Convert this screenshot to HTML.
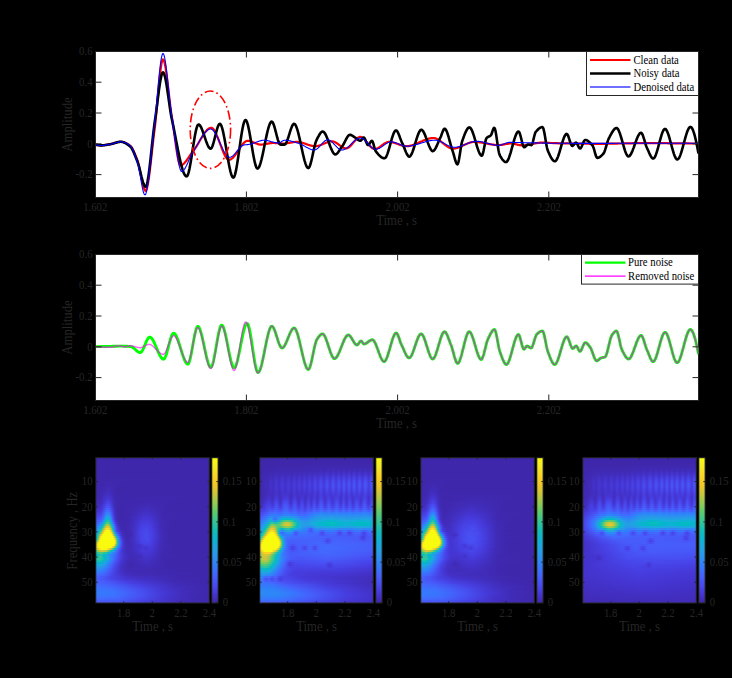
<!DOCTYPE html><html><head><meta charset="utf-8"><style>
html,body{margin:0;padding:0;background:#000;width:732px;height:678px;overflow:hidden;position:relative}
.p{position:absolute;overflow:hidden}.r{position:absolute;left:0;height:2px;width:100%}
svg{position:absolute;left:0;top:0}
text{font-family:"Liberation Serif",serif;fill:#262626}
</style></head><body>
<div class="p" style="left:95.8px;top:457.7px;width:113.5px;height:145.3px;background:#3e26a8">
<div class="r" style="top:0px;background:#3e27aa"></div>
<div class="r" style="top:2px;background:#3e27aa"></div>
<div class="r" style="top:4px;background:#3e27aa"></div>
<div class="r" style="top:6px;background:#3e27aa"></div>
<div class="r" style="top:8px;background:#3e27aa"></div>
<div class="r" style="top:10px;background:#3e27aa"></div>
<div class="r" style="top:12px;background:#3e27aa"></div>
<div class="r" style="top:14px;background:#3e27aa"></div>
<div class="r" style="top:16px;background:#3e27aa"></div>
<div class="r" style="top:18px;background:linear-gradient(90deg,#3e27aa 0px,#3e27ab 17.9px,#3e27aa 113.5px)"></div>
<div class="r" style="top:20px;background:linear-gradient(90deg,#3e27aa 0px,#3e28ac 15.9px,#3e27aa 113.5px)"></div>
<div class="r" style="top:22px;background:linear-gradient(90deg,#3e27aa 0px,#3f28ae 14.9px,#3e27aa 45.8px,#3e27aa 113.5px)"></div>
<div class="r" style="top:24px;background:linear-gradient(90deg,#3e27aa 0px,#3f29b0 13.9px,#3e27aa 26.9px,#3e27aa 113.5px)"></div>
<div class="r" style="top:26px;background:linear-gradient(90deg,#3e27aa 0px,#3f29b2 13.9px,#3e27aa 23.9px,#3e27aa 113.5px)"></div>
<div class="r" style="top:28px;background:linear-gradient(90deg,#3e27aa 0px,#3f29b0 8px,#402bb6 12.9px,#3e27aa 21.9px,#3e27aa 113.5px)"></div>
<div class="r" style="top:30px;background:linear-gradient(90deg,#3e27aa 0px,#3f29b2 8px,#412cb9 12.9px,#3e27aa 20.9px,#3e27aa 113.5px)"></div>
<div class="r" style="top:32px;background:linear-gradient(90deg,#3e27aa 0px,#3f29b1 7px,#412dbd 11.9px,#3e27aa 20.9px,#3e27aa 113.5px)"></div>
<div class="r" style="top:34px;background:linear-gradient(90deg,#3e27ab 0px,#3f29b0 6px,#422fc2 11.9px,#3e27ab 19.9px,#3e27aa 113.5px)"></div>
<div class="r" style="top:36px;background:linear-gradient(90deg,#3e27ab 0px,#3f29b2 6px,#4331c7 11px,#4230c3 13.9px,#3f28ae 18.9px,#3e27ab 36.8px,#3e27aa 113.5px)"></div>
<div class="r" style="top:38px;background:linear-gradient(90deg,#3e28ac 0px,#402ab4 6px,#4434ce 11px,#4332ca 13.9px,#3f28af 18.9px,#3e27aa 28.9px,#3e28ac 58.7px,#3e27aa 113.5px)"></div>
<div class="r" style="top:40px;background:linear-gradient(90deg,#3f28ae 0px,#402ab3 5px,#4433cb 9px,#4538d8 11.9px,#4332ca 14.9px,#3f29b0 18.9px,#3e27aa 25.9px,#3f28af 55.8px,#3e27aa 99.6px,#3e27aa 113.5px)"></div>
<div class="r" style="top:42px;background:linear-gradient(90deg,#3f29b0 0px,#402bb6 5px,#4332ca 8px,#463cdf 11px,#463cdf 12.9px,#3f29b1 18.9px,#3e27aa 23.9px,#3f29b1 54.8px,#3e27aa 81.6px,#3e27aa 113.5px)"></div>
<div class="r" style="top:44px;background:linear-gradient(90deg,#4029b2 0px,#412cba 5px,#4435d2 8px,#4743e7 11px,#4743e7 12.9px,#4639d9 14.9px,#412cba 17.9px,#3e28ac 20.9px,#3f28ae 38.8px,#402ab4 52.8px,#3e27aa 74.7px,#3e27aa 113.5px)"></div>
<div class="r" style="top:46px;background:linear-gradient(90deg,#402bb6 0px,#422ebf 5px,#4740e4 9px,#484df0 11.9px,#4745e9 13.9px,#412dbd 17.9px,#3f28ad 20.9px,#3f28ae 36.8px,#402bb7 51.8px,#3e27aa 72.7px,#3e27aa 113.5px)"></div>
<div class="r" style="top:48px;background:linear-gradient(90deg,#412dbb 0px,#4331c6 5px,#473fe3 8px,#4755f6 11px,#4854f5 12.9px,#4745e9 14.9px,#422fc1 17.9px,#3f29b1 19.9px,#3e27aa 24.9px,#402ab3 40.8px,#412cba 51.8px,#3e27aa 70.7px,#3e27aa 113.5px)"></div>
<div class="r" style="top:50px;background:linear-gradient(90deg,#422fc1 0px,#4434ce 5px,#4747eb 8px,#4561fc 11px,#465ffb 12.9px,#484df0 14.9px,#4331c6 17.9px,#402ab3 19.9px,#3e27aa 23.9px,#4029b2 38.8px,#422ebf 50.8px,#3e27ab 69.7px,#3e27aa 113.5px)"></div>
<div class="r" style="top:52px;background:linear-gradient(90deg,#4332ca 0px,#4538d8 5px,#4745e9 7px,#475cfa 9px,#3e6fff 11px,#3c72ff 11.9px,#4563fd 13.9px,#4848ec 15.9px,#4433cc 17.9px,#402ab4 19.9px,#3e27ab 22.9px,#3f29b1 36.8px,#4230c4 49.8px,#3e27ab 69.7px,#3e27aa 113.5px)"></div>
<div class="r" style="top:54px;background:linear-gradient(90deg,#4536d3 0px,#473ee1 5px,#484ef1 7px,#4369fe 9px,#2f81fa 11px,#2e83f9 11.9px,#317efb 12.9px,#3c71ff 13.9px,#4661fc 14.9px,#4740e4 16.9px,#422fc1 18.9px,#3f29b0 20.9px,#3e27aa 25.9px,#402ab4 37.8px,#4332c8 48.8px,#422ebf 56.8px,#3e27ac 68.7px,#3e27aa 113.5px)"></div>
<div class="r" style="top:56px;background:linear-gradient(90deg,#463bdd 0px,#4746ea 5px,#4758f8 7px,#4367fd 8px,#3579fd 9px,#2a92ee 11px,#2895ec 11.9px,#2c8ff0 12.9px,#2f82f9 13.9px,#3f6efe 14.9px,#4759f8 15.9px,#4538d8 17.9px,#4331c5 18.9px,#3f29b1 20.9px,#3e27aa 24.9px,#3f29b2 35.8px,#4434ce 48.8px,#4331c6 55.8px,#3f28ae 66.7px,#3e27aa 109.5px,#3e27aa 113.5px)"></div>
<div class="r" style="top:58px;background:linear-gradient(90deg,#4742e6 0px,#484ff2 5px,#4564fd 7px,#3876fe 8px,#269ae8 10px,#20a5e3 11px,#1ea7e1 11.9px,#22a1e4 12.9px,#2a93ee 13.9px,#317dfc 14.9px,#4563fd 15.9px,#463cdf 17.9px,#412dbb 19.9px,#3f28ae 21.9px,#3e28ad 30.9px,#412ebe 39.8px,#4536d3 47.8px,#4434cf 53.8px,#3f28af 66.7px,#3e27aa 93.6px,#3e27aa 113.5px)"></div>
<div class="r" style="top:60px;background:linear-gradient(90deg,#484aee 0px,#4759f8 5px,#4562fc 6px,#3c72ff 7px,#2e86f7 8px,#1aacdd 10px,#06b5cf 11px,#01b7ca 11.9px,#0eb2d4 12.9px,#20a4e3 13.9px,#3d70ff 15.9px,#4756f6 16.9px,#4741e5 17.9px,#4435d0 18.9px,#422ebe 19.9px,#3f28ae 21.9px,#3e27ac 28.9px,#412cba 37.8px,#4538d8 47.8px,#4536d4 53.8px,#3f29b1 65.7px,#3e27aa 79.6px,#3e27aa 113.5px)"></div>
<div class="r" style="top:62px;background:linear-gradient(90deg,#4853f5 0px,#4368fd 5px,#3974fe 6px,#2e86f7 7px,#259be8 8px,#16afda 9px,#05bbc0 10px,#25c1aa 11px,#2ac3a4 11.9px,#19bfb3 12.9px,#06b5cf 13.9px,#23a0e5 14.9px,#2e83f9 15.9px,#4564fd 16.9px,#484cef 17.9px,#463adb 18.9px,#4331c7 19.9px,#412cb9 20.9px,#3f28ad 22.9px,#3f28af 31.9px,#4230c4 39.8px,#463adb 46.8px,#463adb 52.8px,#3f29b2 65.7px,#3e27aa 77.7px,#3e27aa 113.5px)"></div>
<div class="r" style="top:64px;background:linear-gradient(90deg,#465dfb 0px,#3a74fe 4px,#2d8df2 6px,#249fe5 7px,#10b2d5 8px,#16bfb5 9px,#37c791 10px,#52cb76 11px,#59cb70 11.9px,#43c983 12.9px,#27c2a8 13.9px,#08b4d1 14.9px,#269ae8 15.9px,#327bfc 16.9px,#465dfa 17.9px,#4747eb 18.9px,#4538d7 19.9px,#4230c4 20.9px,#3f29b1 22.9px,#3e27ab 26.9px,#402ab5 34.8px,#463ddf 46.8px,#463ddf 52.8px,#402ab3 65.7px,#3e27aa 76.7px,#3e27aa 113.5px)"></div>
<div class="r" style="top:66px;background:linear-gradient(90deg,#4368fe 0px,#3080fb 3px,#2896ec 5px,#20a5e2 6px,#06b5cf 7px,#24c1ab 8px,#49ca7e 9px,#81cc59 10px,#a6ca4d 11px,#adc94a 11.9px,#92cb54 12.9px,#58cb72 13.9px,#27c2a8 14.9px,#13b1d7 15.9px,#3b73fe 17.9px,#4757f7 18.9px,#4743e7 19.9px,#4536d3 20.9px,#422fc1 21.9px,#3f29b1 23.9px,#3e28ac 28.9px,#412dbc 36.8px,#463ee1 45.8px,#4741e5 51.8px,#4536d3 57.7px,#402ab4 65.7px,#3e27aa 75.7px,#3e27aa 113.5px)"></div>
<div class="r" style="top:68px;background:linear-gradient(90deg,#3974fe 0px,#307ffb 1px,#249ee6 4px,#1aacdd 5px,#01b9c6 6px,#2dc3a1 7px,#5bcb6f 8px,#a2ca4e 9px,#d7c536 10px,#f0c727 11px,#f3c825 11.9px,#e0c531 12.9px,#aec94a 13.9px,#5acb70 14.9px,#1cc0b1 15.9px,#1caadf 16.9px,#2d89f5 17.9px,#4368fe 18.9px,#484ff2 19.9px,#463ee0 20.9px,#422ebf 22.9px,#3f29b1 24.9px,#3f28ad 29.9px,#412ebe 36.8px,#4740e4 45.8px,#4743e8 51.8px,#4537d6 57.7px,#402bb7 64.7px,#3e27ab 72.7px,#3e27aa 113.5px)"></div>
<div class="r" style="top:70px;background:linear-gradient(90deg,#2f81fa 0px,#20a5e2 3px,#10b2d5 4px,#0abcbc 5px,#34c696 6px,#6ccc62 7px,#b9c845 8px,#f1c726 9px,#f9d626 10px,#f5e327 11px,#f5e427 11.9px,#f6c924 13.9px,#b3c848 14.9px,#4bca7c 15.9px,#02bac4 16.9px,#269ae9 17.9px,#3b73fe 18.9px,#4854f5 19.9px,#4741e5 20.9px,#4331c7 22.9px,#3f29b1 25.9px,#3f28af 30.9px,#4230c3 37.8px,#4740e4 44.8px,#4747eb 50.8px,#463bdc 56.8px,#402bb8 64.7px,#3e27ab 72.7px,#3e27aa 113.5px)"></div>
<div class="r" style="top:72px;background:linear-gradient(90deg,#2d8df2 0px,#1da9e0 2px,#06b5cf 3px,#19bfb3 4px,#3bc88c 5px,#7bcc5a 6px,#c8c63e 7px,#fecb21 8px,#f5e526 9px,#f8f914 10px,#f9fb0e 11px,#f9fb0e 12.9px,#f5e825 13.9px,#fbcb22 14.9px,#a4ca4e 15.9px,#32c598 16.9px,#1babde 17.9px,#317efb 18.9px,#4757f7 19.9px,#4743e7 20.9px,#4435d1 22.9px,#402bb6 25.9px,#3f28ae 28.9px,#402bb7 34.8px,#4742e6 44.8px,#4848ec 50.8px,#463cde 56.8px,#412cb9 64.7px,#3e27ab 72.7px,#3e27aa 113.5px)"></div>
<div class="r" style="top:74px;background:linear-gradient(90deg,#2798ea 0px,#1da8e0 1px,#05b6ce 2px,#1ec0b0 3px,#40c986 4px,#84cc58 5px,#d0c53a 6px,#fdcf22 7px,#f5ee22 8px,#f9fb0e 9px,#f9fb0e 13.9px,#f5f31e 14.9px,#fecb21 15.9px,#9acb51 16.9px,#2ac3a5 17.9px,#1fa6e2 18.9px,#3080fb 19.9px,#4561fc 20.9px,#4743e7 22.9px,#422ebf 25.9px,#3f29b0 28.9px,#402ab4 34.8px,#4740e3 43.8px,#484aee 49.8px,#4740e3 55.8px,#402bb6 65.7px,#3e27ab 73.7px,#3e27aa 113.5px)"></div>
<div class="r" style="top:76px;background:linear-gradient(90deg,#20a5e2 0px,#05b6ce 1px,#25c1aa 2px,#52cb76 3px,#a6c94d 4px,#f0c727 5px,#f5e228 6px,#f9fb0e 7px,#f9fb0e 14.9px,#f5f31e 15.9px,#f9ca22 16.9px,#8ecb55 17.9px,#2bc3a4 18.9px,#19acdc 19.9px,#2d8df2 20.9px,#3f6eff 21.9px,#4756f7 22.9px,#4538d8 24.9px,#412dbc 26.9px,#3f29b0 29.9px,#3f29b2 34.8px,#4740e4 43.8px,#484bee 49.8px,#4740e4 55.8px,#402bb6 65.7px,#3e27ab 73.7px,#3e27aa 113.5px)"></div>
<div class="r" style="top:78px;background:linear-gradient(90deg,#1aabdd 0px,#02bac3 1px,#37c791 2px,#92cb54 3px,#f2c826 4px,#f5eb23 5px,#f9fb0e 6px,#f9fb0e 15.9px,#f8fa12 16.9px,#fecc21 17.9px,#9acb51 18.9px,#2fc49d 19.9px,#16afd9 20.9px,#2c8ef1 21.9px,#406dfe 22.9px,#4854f5 23.9px,#4741e5 24.9px,#4230c4 26.9px,#402ab5 28.9px,#3f29b2 32.9px,#422ebe 36.8px,#4740e4 43.8px,#484bee 49.8px,#4740e4 55.8px,#402bb6 65.7px,#3e27ab 73.7px,#3e27aa 113.5px)"></div>
<div class="r" style="top:80px;background:linear-gradient(90deg,#0fb2d4 0px,#16bfb5 1px,#52cb77 2px,#cdc63b 3px,#f5e327 4px,#f9fb0e 5px,#f9fb0e 17.9px,#fecf22 18.9px,#96cb52 19.9px,#29c2a6 20.9px,#1ca9df 21.9px,#2e86f8 22.9px,#4464fd 23.9px,#484df0 24.9px,#463cdf 25.9px,#422ec0 27.9px,#402ab4 29.9px,#402bb6 33.9px,#4435d0 39.8px,#4745e9 45.8px,#4849ed 51.8px,#463adb 57.7px,#402bb6 65.7px,#3e27ab 73.7px,#3e27aa 113.5px)"></div>
<div class="r" style="top:82px;background:linear-gradient(90deg,#2cc3a3 0px,#65cc67 1px,#cec53b 2px,#f6de29 3px,#f9fb0e 4px,#f9fb0e 17.9px,#f5f31e 18.9px,#e4c52f 19.9px,#56cb73 20.9px,#01b8c9 21.9px,#2896eb 22.9px,#3c72ff 23.9px,#4755f6 24.9px,#4742e6 25.9px,#4330c4 27.9px,#402bb6 29.9px,#402bb6 33.9px,#4434cf 39.8px,#4744e8 45.8px,#4848ec 51.8px,#4639da 57.7px,#412cb9 64.7px,#3e27ab 72.7px,#3e27aa 113.5px)"></div>
<div class="r" style="top:84px;background:linear-gradient(90deg,#7acc5b 0px,#dec532 1px,#f6e029 2px,#f9fb0e 3px,#f9fb0e 17.9px,#f5f21f 18.9px,#e4c52e 19.9px,#5acb70 20.9px,#01b9c5 21.9px,#2699e9 22.9px,#3875fe 23.9px,#4758f8 24.9px,#4745e9 25.9px,#4538d7 26.9px,#412ebd 28.9px,#402ab4 31.9px,#422ebf 36.8px,#4742e6 46.8px,#4745e9 51.8px,#463bdc 56.8px,#402bb8 64.7px,#3e27ab 72.7px,#3e27aa 113.5px)"></div>
<div class="r" style="top:86px;background:linear-gradient(90deg,#b0c949 0px,#fecb21 1px,#f5f11f 2px,#f9fb0e 3px,#f9fb0e 16.9px,#f6f61b 17.9px,#fbcb22 18.9px,#92cb54 19.9px,#2dc3a1 20.9px,#18aedb 21.9px,#2d8df2 22.9px,#406dfe 23.9px,#4854f5 24.9px,#4743e7 25.9px,#4332c8 27.9px,#412cb9 29.9px,#402bb6 33.9px,#4433cc 40.8px,#4432cb 43.8px,#473fe2 47.8px,#4740e3 53.8px,#4331c7 60.7px,#3f29b0 67.7px,#3e27aa 82.6px,#3e27aa 113.5px)"></div>
<div class="r" style="top:88px;background:linear-gradient(90deg,#b1c848 0px,#f8ca23 1px,#f5e526 2px,#f9fb0e 3px,#f9fb0e 14.9px,#f5ea24 15.9px,#fecc21 16.9px,#c2c741 17.9px,#61cc6a 18.9px,#22c1ad 19.9px,#17aeda 20.9px,#2a93ee 21.9px,#3776fe 22.9px,#465efb 23.9px,#473fe2 25.9px,#4331c8 27.9px,#402bb7 30.9px,#412cba 35.8px,#4332ca 40.8px,#4332c8 43.8px,#4538d8 46.8px,#4435d2 49.8px,#463cdf 53.8px,#4434ce 58.7px,#402ab4 65.7px,#3e27aa 75.7px,#3e27aa 113.5px)"></div>
<div class="r" style="top:90px;background:linear-gradient(90deg,#77cc5b 0px,#bdc743 1px,#efc727 2px,#fad425 3px,#f5e626 4px,#f5f41d 5px,#f9fa0f 6px,#f9fb0e 9px,#f5ec23 11px,#f6de29 11.9px,#fece22 12.9px,#e8c62c 13.9px,#bcc743 14.9px,#81cc59 15.9px,#43c983 16.9px,#1fc0af 17.9px,#0bb4d2 18.9px,#23a0e5 19.9px,#3b73fe 21.9px,#465ffb 22.9px,#4743e7 24.9px,#4331c6 27.9px,#402bb8 30.9px,#412cba 35.8px,#4538d8 46.8px,#4434ce 49.8px,#463adb 53.8px,#4331c6 59.7px,#3f28af 67.7px,#3e27aa 88.6px,#3e27aa 113.5px)"></div>
<div class="r" style="top:92px;background:linear-gradient(90deg,#3ac78d 0px,#5dcc6d 1px,#86cc57 2px,#abc94b 3px,#c7c63e 4px,#d7c536 5px,#dcc533 6px,#d1c539 8px,#b2c848 10px,#97cb52 11px,#72cc5d 11.9px,#4bca7c 12.9px,#19bfb3 14.9px,#01b8ca 15.9px,#19addc 16.9px,#2c8ef1 18.9px,#317dfc 19.9px,#416bfe 20.9px,#4850f3 22.9px,#4537d6 25.9px,#422fc0 28.9px,#402bb7 32.9px,#422fc1 38.8px,#4539d9 46.8px,#4537d6 54.8px,#3f29b2 65.7px,#3e27aa 77.7px,#3e27aa 113.5px)"></div>
<div class="r" style="top:94px;background:linear-gradient(90deg,#1fc0af 0px,#2fc49d 2px,#3ac78d 3px,#4bca7c 4px,#55cb74 5px,#4dca7b 6px,#3cc88b 7px,#32c598 8px,#28c2a7 10px,#19bfb3 11px,#01b9c5 11.9px,#13b0d7 12.9px,#1fa6e2 13.9px,#2f82f9 17.9px,#4368fe 19.9px,#4742e6 23.9px,#4331c7 27.9px,#412cb9 31.9px,#412dbc 37.8px,#4538d8 48.8px,#4435d2 54.8px,#3f29b1 65.7px,#3e27aa 79.6px,#3e27aa 113.5px)"></div>
<div class="r" style="top:96px;background:linear-gradient(90deg,#09bcbd 0px,#05bbc0 2px,#28c2a7 4px,#2cc3a2 5px,#21c0ae 6px,#05bbc0 7px,#04b6cd 8px,#0bb3d2 10px,#15afd8 11px,#2d8df2 13.9px,#317dfc 16.9px,#4561fc 19.9px,#463cdf 24.9px,#422ec0 29.9px,#402bb8 34.8px,#412ebe 41.8px,#422fc1 44.8px,#4536d3 48.8px,#4433cd 54.8px,#3f29b0 65.7px,#3e27aa 82.6px,#3e27aa 113.5px)"></div>
<div class="r" style="top:98px;background:linear-gradient(90deg,#1cc0b1 0px,#20c0ae 2px,#2ec49f 4px,#2ec49f 5px,#26c2a9 6px,#10bdb9 7px,#01b9c5 8px,#0bb3d2 10px,#20a5e2 11.9px,#2c8ff1 13.9px,#347afd 16.9px,#465efb 19.9px,#463cde 24.9px,#422fc0 29.9px,#402bb7 34.8px,#412ebd 44.8px,#4434cd 48.8px,#4331c8 54.8px,#3f28ae 66.7px,#3e27aa 109.5px,#3e27aa 113.5px)"></div>
<div class="r" style="top:100px;background:linear-gradient(90deg,#22c1ad 0px,#30c59c 3px,#2fc49e 5px,#29c2a6 6px,#09bcbd 8px,#01b8c7 9px,#20a5e2 11.9px,#307ffb 15.9px,#416bfe 17.9px,#484bee 21.9px,#4434cd 26.9px,#412cb8 31.9px,#402bb7 37.8px,#4332c9 50.8px,#3e27ac 68.7px,#3e27aa 113.5px)"></div>
<div class="r" style="top:102px;background:linear-gradient(90deg,#07bcbe 0px,#1bbfb2 2px,#1dc0b1 4px,#0cbdbb 6px,#02bac3 7px,#03b7cc 8px,#1aabdd 10px,#3080fa 14.9px,#416cfe 16.9px,#484cef 20.9px,#4434cf 25.9px,#402bb8 30.9px,#402ab3 35.8px,#4230c3 50.8px,#3e27ac 68.7px,#3e27aa 113.5px)"></div>
<div class="r" style="top:104px;background:linear-gradient(90deg,#0eb2d4 0px,#03b7cc 2px,#06b5ce 5px,#20a5e2 9px,#327cfc 13.9px,#4269fe 15.9px,#4745e9 20.9px,#4332c9 25.9px,#3f28af 32.9px,#422ebf 50.8px,#3e27ab 69.7px,#3e27aa 113.5px)"></div>
<div class="r" style="top:106px;background:linear-gradient(90deg,#1fa6e2 0px,#1babde 4px,#259de7 8px,#3578fd 12.9px,#4367fd 14.9px,#4745e9 19.9px,#4332c9 24.9px,#3f29b0 31.9px,#3f29b1 37.8px,#412dbb 50.8px,#3e27ab 71.7px,#3e27aa 113.5px)"></div>
<div class="r" style="top:108px;background:linear-gradient(90deg,#269ae9 0px,#249de6 4px,#2d8af4 9px,#317dfc 11px,#4465fd 13.9px,#4740e4 19.9px,#422fc1 25.9px,#3f29b0 32.9px,#402bb8 52.8px,#3e27ab 72.7px,#3e27aa 113.5px)"></div>
<div class="r" style="top:110px;background:linear-gradient(90deg,#2c8ef2 0px,#2b90ef 4px,#307efb 9px,#4464fd 12.9px,#4742e6 18.9px,#4330c5 24.9px,#402ab3 31.9px,#402bb6 45.8px,#3f29af 60.7px,#3e27aa 100.6px,#3e27aa 113.5px)"></div>
<div class="r" style="top:112px;background:linear-gradient(90deg,#2f82fa 0px,#2f82f9 5px,#3a73fe 9px,#465dfa 12.9px,#4539d9 20.9px,#412dbc 27.9px,#402ab3 37.8px,#402ab3 55.8px,#3e27ab 81.6px,#3e27aa 113.5px)"></div>
<div class="r" style="top:114px;background:linear-gradient(90deg,#3777fe 0px,#3876fe 5px,#4757f7 12.9px,#4536d4 21.9px,#412dbd 28.9px,#402bb6 40.8px,#3f29b0 60.7px,#3e27aa 113.5px)"></div>
<div class="r" style="top:116px;background:linear-gradient(90deg,#406cfe 0px,#4562fc 8px,#4746ea 15.9px,#4331c7 26.9px,#412cba 37.8px,#3e27ab 94.6px,#3e27aa 113.5px)"></div>
<div class="r" style="top:118px;background:linear-gradient(90deg,#4465fd 0px,#475af9 5px,#4758f8 8px,#4745e9 14.9px,#4331c6 31.9px,#3f28ae 82.6px,#3e27aa 113.5px)"></div>
<div class="r" style="top:120px;background:linear-gradient(90deg,#4562fc 0px,#4757f8 5px,#4756f6 8px,#4746ea 14.9px,#4538d8 26.9px,#4330c5 44.8px,#3f28af 85.6px,#3e27ab 113.5px)"></div>
<div class="r" style="top:122px;background:linear-gradient(90deg,#4563fc 0px,#4853f5 12.9px,#463bdc 30.9px,#402ab5 75.7px,#3e27ab 113.5px)"></div>
<div class="r" style="top:124px;background:linear-gradient(90deg,#4466fd 0px,#475cfa 11.9px,#473fe2 34.8px,#402bb6 79.6px,#3e27ab 113.5px)"></div>
<div class="r" style="top:126px;background:linear-gradient(90deg,#416bfe 0px,#4561fc 12.9px,#473ee1 44.8px,#402bb8 81.6px,#3e27ac 113.5px)"></div>
<div class="r" style="top:128px;background:linear-gradient(90deg,#3d70ff 0px,#4367fd 14.9px,#4744e8 45.8px,#422ebf 76.7px,#3f28ad 107.5px,#3e28ac 113.5px)"></div>
<div class="r" style="top:130px;background:linear-gradient(90deg,#3876fe 0px,#3f6eff 14.9px,#484ff2 40.8px,#4332cb 70.7px,#402ab3 95.6px,#3e28ac 113.5px)"></div>
<div class="r" style="top:132px;background:linear-gradient(90deg,#347afd 0px,#3b73fe 15.9px,#4756f7 38.8px,#4538d7 64.7px,#412cb9 88.6px,#3f28ad 113.5px)"></div>
<div class="r" style="top:134px;background:linear-gradient(90deg,#337bfc 0px,#3974fe 16.9px,#4759f8 38.8px,#4639d9 64.7px,#412cb9 88.6px,#3f28ad 113.5px)"></div>
<div class="r" style="top:136px;background:linear-gradient(90deg,#3579fd 0px,#3b72fe 17.9px,#4755f6 41.8px,#4536d3 68.7px,#402bb7 91.6px,#3f28ad 113.5px)"></div>
<div class="r" style="top:138px;background:linear-gradient(90deg,#3b73fe 0px,#406dfe 18.9px,#4851f3 42.8px,#4434ce 70.7px,#402ab5 93.6px,#3f28ad 113.5px)"></div>
<div class="r" style="top:140px;background:linear-gradient(90deg,#426afe 0px,#4563fd 20.9px,#4848ec 46.8px,#4330c5 74.7px,#3f29b0 101.6px,#3e28ac 113.5px)"></div>
<div class="r" style="top:142px;background:linear-gradient(90deg,#465ffb 0px,#4758f8 23.9px,#463ee0 51.8px,#412cb9 83.6px,#3e28ac 113.5px)"></div>
<div class="r" style="top:144px;background:linear-gradient(90deg,#4854f5 0px,#484cf0 26.9px,#4537d5 54.8px,#402bb6 83.6px,#3e27ac 113.5px)"></div>
</div>
<div class="p" style="left:211.8px;top:457.7px;width:6.3px;height:145.3px;background:linear-gradient(0deg,#3e26a8 0%,#4536d5 6.2%,#484cef 12.5%,#4562fc 18.8%,#347afd 25%,#2c90f0 31.2%,#21a3e3 37.5%,#0cb3d3 43.8%,#12beb7 50%,#34c696 56.2%,#5ccb6f 62.5%,#94cb53 68.8%,#c8c63e 75%,#f1c726 81.2%,#fad525 87.5%,#f5e924 93.8%,#f9fb0e 100%)"></div>
<div class="p" style="left:259.8px;top:457.7px;width:113.5px;height:145.3px;background:#3e26a8">
<div class="r" style="top:0px;background:#3e27aa"></div>
<div class="r" style="top:2px;background:#3e27aa"></div>
<div class="r" style="top:4px;background:#3e27aa"></div>
<div class="r" style="top:6px;background:linear-gradient(90deg,#3e27aa 0px,#3f28ae 113.5px)"></div>
<div class="r" style="top:8px;background:linear-gradient(90deg,#3e27aa 0px,#3f29b0 59.7px,#3f29b0 71.7px,#3f29b0 80.6px,#3f29b0 85.6px,#3f29b0 90.6px,#3f29b1 95.6px,#3f29b0 101.6px,#3f29b2 106.5px,#3f29b2 110.5px,#3f29b1 113.5px)"></div>
<div class="r" style="top:10px;background:linear-gradient(90deg,#3e27ab 0px,#3f29b0 23.9px,#3f29af 37.8px,#3f29b0 40.8px,#3f29b1 45.8px,#3f29b2 50.8px,#402ab3 53.8px,#3f29b2 58.7px,#402ab5 61.7px,#3f29b2 64.7px,#402bb7 67.7px,#3f29b2 70.7px,#402bb8 73.7px,#402ab3 76.7px,#402bb7 79.6px,#3f29b2 81.6px,#402bb8 84.6px,#3f29b2 86.6px,#402bb8 89.6px,#3f29b2 91.6px,#412cb8 94.6px,#402ab4 97.6px,#402bb7 100.6px,#402ab4 103.5px,#402bb7 106.5px,#402ab4 109.5px,#402bb8 112.5px,#402ab5 113.5px)"></div>
<div class="r" style="top:12px;background:linear-gradient(90deg,#3e27ab 0px,#3f29b2 14.9px,#402ab3 20.9px,#402ab3 23.9px,#402ab3 26.9px,#402ab4 29.9px,#402ab4 32.9px,#402ab3 35.8px,#402ab4 40.8px,#402ab3 42.8px,#402bb8 44.8px,#402ab4 47.8px,#412cba 49.8px,#402ab4 52.8px,#412cba 55.8px,#402ab4 57.7px,#412dbd 60.7px,#402bb7 64.7px,#412ebe 67.7px,#402bb7 70.7px,#422ebf 73.7px,#402bb7 75.7px,#422fc0 78.7px,#402bb7 81.6px,#422fc0 83.6px,#402bb7 86.6px,#422fc0 88.6px,#402bb7 91.6px,#422fc1 94.6px,#402bb7 96.6px,#422fc1 99.6px,#402bb7 102.5px,#422fc1 105.5px,#402bb7 108.5px,#422fc1 111.5px,#412dbb 113.5px)"></div>
<div class="r" style="top:14px;background:linear-gradient(90deg,#3e27ac 0px,#3f29b1 9px,#402ab3 11.9px,#402bb6 14.9px,#402ab5 17.9px,#402bb7 20.9px,#402bb7 23.9px,#402ab4 25.9px,#412dbb 28.9px,#402ab4 31.9px,#412dbb 34.8px,#402ab5 36.8px,#412dbd 39.8px,#402ab6 41.8px,#422ebf 44.8px,#402bb7 46.8px,#422fc1 49.8px,#412cb8 51.8px,#422ebf 53.8px,#4230c3 54.8px,#412cb9 57.7px,#4331c6 60.7px,#412cbb 63.7px,#4331c8 66.7px,#422fc2 68.7px,#412dbd 70.7px,#4332c9 72.7px,#4332ca 73.7px,#412dbd 75.7px,#412ebe 76.7px,#4433cb 78.7px,#412dbd 81.6px,#4433cb 83.6px,#4332ca 84.6px,#412dbd 86.6px,#4433cb 88.6px,#4332cb 89.6px,#412dbd 91.6px,#4433cb 93.6px,#4433cc 94.6px,#412ebe 96.6px,#4433cd 99.6px,#412ebd 102.5px,#4433cd 105.5px,#412ebd 108.5px,#4433cd 111.5px,#4230c4 113.5px)"></div>
<div class="r" style="top:16px;background:linear-gradient(90deg,#3f28ad 0px,#402ab4 9px,#412cb9 11px,#402bb6 13.9px,#422ebe 15.9px,#402bb8 19.9px,#422fc0 22.9px,#402bb8 25.9px,#422fc2 28.9px,#412cb8 31.9px,#4230c3 33.9px,#412cb9 36.8px,#4330c5 39.8px,#412cba 41.8px,#4331c7 44.8px,#412dbb 46.8px,#4332ca 49.8px,#412ebe 51.8px,#422ebf 52.8px,#4434cd 54.8px,#422ebf 57.7px,#4435d1 60.7px,#422fc1 63.7px,#4433cd 65.7px,#4536d4 66.7px,#4536d3 67.7px,#4230c4 69.7px,#4230c4 70.7px,#4537d5 72.7px,#4537d5 73.7px,#4330c5 75.7px,#4331c6 76.7px,#4538d7 78.7px,#4536d4 79.6px,#4332c9 80.6px,#4330c5 81.6px,#4538d7 83.6px,#4537d6 84.6px,#4330c5 86.6px,#4538d7 88.6px,#4538d7 89.6px,#4330c5 91.6px,#4538d7 93.6px,#4538d8 94.6px,#4330c5 96.6px,#4332c9 97.6px,#4539d9 99.6px,#4330c5 102.5px,#4639d9 105.5px,#4330c5 108.5px,#4539d9 111.5px,#4538d7 112.5px,#4434ce 113.5px)"></div>
<div class="r" style="top:18px;background:linear-gradient(90deg,#3f28ae 0px,#3f29b1 4px,#402ab3 8px,#412ebe 11px,#402bb7 12.9px,#4330c5 15.9px,#412cba 18.9px,#4331c7 21.9px,#422fc2 23.9px,#412dbc 25.9px,#4331c8 27.9px,#4332c9 28.9px,#412ebd 30.9px,#412dbd 31.9px,#4332cb 33.9px,#4332ca 34.8px,#412dbd 36.8px,#4433cb 38.8px,#4433cd 39.8px,#422ebf 41.8px,#4230c3 42.8px,#4433cd 43.8px,#4435d0 44.8px,#422fc1 46.8px,#4330c5 47.8px,#4434d0 48.8px,#4536d4 49.8px,#4230c4 51.8px,#4330c5 52.8px,#4538d8 54.8px,#4537d5 55.8px,#4331c6 57.7px,#463adc 60.7px,#4539d9 61.7px,#4332c9 63.7px,#4433cc 64.7px,#463cdf 66.7px,#463cde 67.7px,#4433cc 69.7px,#4433cc 70.7px,#463de0 72.7px,#463de0 73.7px,#4433cd 75.7px,#4434cf 76.7px,#473fe2 78.7px,#463cdf 79.6px,#4536d2 80.6px,#4433cd 81.6px,#473fe2 83.6px,#463ee1 84.6px,#4433cd 86.6px,#473fe2 88.6px,#473ee1 89.6px,#4433cd 91.6px,#473fe2 93.6px,#473fe3 94.6px,#4434ce 96.6px,#4536d3 97.6px,#463cdf 98.6px,#4740e4 99.6px,#463ddf 100.6px,#4434ce 102.5px,#463de0 104.5px,#4740e4 105.5px,#463de0 106.5px,#4434ce 108.5px,#4536d3 109.5px,#4740e4 111.5px,#473fe2 112.5px,#4538d8 113.5px)"></div>
<div class="r" style="top:20px;background:linear-gradient(90deg,#3f28af 0px,#402ab3 4px,#402ab5 7px,#412cba 9px,#422fc2 11px,#412cbb 12.9px,#4433cb 15.9px,#4230c3 17.9px,#422ebe 18.9px,#4331c8 20.9px,#4434ce 21.9px,#4434ce 22.9px,#422fc1 24.9px,#422fc0 25.9px,#4434cf 27.9px,#4435d1 28.9px,#422fc2 30.9px,#422fc1 31.9px,#4535d2 33.9px,#4435d1 34.8px,#422fc2 36.8px,#4536d2 38.8px,#4537d5 39.8px,#4230c4 41.8px,#4332c9 42.8px,#4537d5 43.8px,#4538d8 44.8px,#4331c6 46.8px,#4433cb 47.8px,#4538d8 48.8px,#463bdc 49.8px,#4332ca 51.8px,#4433cc 52.8px,#463de0 54.8px,#463cde 55.8px,#4433cc 57.7px,#4741e4 60.7px,#473ee1 61.7px,#4434d0 63.7px,#4536d4 64.7px,#4743e7 66.7px,#4742e6 67.7px,#4536d4 69.7px,#4536d4 70.7px,#4744e8 72.7px,#4744e9 73.7px,#4537d5 75.7px,#4538d7 76.7px,#4746eb 78.7px,#4743e7 79.6px,#463adb 80.6px,#4537d5 81.6px,#4746ea 83.6px,#4745e9 84.6px,#4537d5 86.6px,#4746eb 88.6px,#4746ea 89.6px,#4537d5 91.6px,#4746ea 93.6px,#4747eb 94.6px,#4537d6 96.6px,#463adb 97.6px,#4743e7 98.6px,#4848ec 99.6px,#4743e7 100.6px,#4537d6 102.5px,#4744e8 104.5px,#4848ec 105.5px,#4744e8 106.5px,#4537d6 108.5px,#4848ec 111.5px,#4746ea 112.5px,#463ee1 113.5px)"></div>
<div class="r" style="top:22px;background:linear-gradient(90deg,#3f29af 0px,#3f29b0 3px,#412cb9 6px,#402bb7 8px,#4330c5 10px,#4331c6 11px,#412ebd 12.9px,#4332ca 14.9px,#4435d0 15.9px,#4434cf 16.9px,#422fc2 18.9px,#4230c4 19.9px,#4536d4 21.9px,#4536d4 22.9px,#4330c5 24.9px,#4230c4 25.9px,#4537d5 27.9px,#4537d6 28.9px,#4331c6 30.9px,#4331c5 31.9px,#4538d8 33.9px,#4538d7 34.8px,#4331c6 36.8px,#4538d8 38.8px,#463adb 39.8px,#4332c8 41.8px,#4434ce 42.8px,#463adb 43.8px,#463cdf 44.8px,#4433cb 46.8px,#4435d0 47.8px,#463cde 48.8px,#473fe2 49.8px,#4434d0 51.8px,#4435d1 52.8px,#4742e6 54.8px,#4740e4 55.8px,#4535d2 57.7px,#4746ea 60.7px,#4743e7 61.7px,#4537d6 63.7px,#4639da 64.7px,#4849ed 66.7px,#4848ec 67.7px,#4639d9 69.7px,#4639da 70.7px,#484aee 72.7px,#484bee 73.7px,#463adb 75.7px,#463bdd 76.7px,#484df0 78.7px,#4849ed 79.6px,#463ee1 80.6px,#463adb 81.6px,#484df0 83.6px,#484bef 84.6px,#4740e3 85.6px,#463adb 86.6px,#484df0 88.6px,#484cf0 89.6px,#463adb 91.6px,#484df0 93.6px,#484df1 94.6px,#463bdc 96.6px,#463ee1 97.6px,#4849ed 98.6px,#484ff2 99.6px,#4849ed 100.6px,#473fe2 101.6px,#463adc 102.5px,#484aee 104.5px,#484ff2 105.5px,#484aee 106.5px,#463adc 108.5px,#463ee1 109.5px,#484ff2 111.5px,#484df0 112.5px,#4743e7 113.5px)"></div>
<div class="r" style="top:24px;background:linear-gradient(90deg,#3f29b0 0px,#3f29b1 3px,#412cba 6px,#402cb8 8px,#4331c7 10px,#4332c9 11px,#422ebf 12.9px,#4230c3 13.9px,#4536d4 15.9px,#4536d2 16.9px,#4230c4 18.9px,#4331c6 19.9px,#4538d7 21.9px,#4538d7 22.9px,#4331c7 24.9px,#4331c7 25.9px,#4538d8 27.9px,#4639da 28.9px,#4332c9 30.9px,#4332c8 31.9px,#463adc 33.9px,#463adb 34.8px,#4332c9 36.8px,#463bdc 38.8px,#463cdf 39.8px,#4433cb 41.8px,#4435d1 42.8px,#463cdf 43.8px,#473fe2 44.8px,#4434ce 46.8px,#4536d4 47.8px,#473ee2 48.8px,#4742e6 49.8px,#4536d3 51.8px,#4537d5 52.8px,#4746ea 54.8px,#4743e7 55.8px,#4537d6 57.7px,#484aee 60.7px,#4747eb 61.7px,#4639d9 63.7px,#463cde 64.7px,#484df0 66.7px,#484cf0 67.7px,#463bdd 69.7px,#463cde 70.7px,#484ff2 72.7px,#484ff2 73.7px,#463cdf 75.7px,#463ee1 76.7px,#4852f4 78.7px,#484df0 79.6px,#4741e4 80.6px,#463cdf 81.6px,#4851f4 83.6px,#4850f2 84.6px,#4743e7 85.6px,#463cdf 86.6px,#4852f4 88.6px,#4851f3 89.6px,#463cdf 91.6px,#4851f3 93.6px,#4852f4 94.6px,#463de0 96.6px,#4741e5 97.6px,#484df1 98.6px,#4854f5 99.6px,#484ef1 100.6px,#4742e6 101.6px,#463ddf 102.5px,#484ff2 104.5px,#4854f5 105.5px,#484ef1 106.5px,#463de0 108.5px,#4741e5 109.5px,#4854f5 111.5px,#4851f3 112.5px,#4746ea 113.5px)"></div>
<div class="r" style="top:26px;background:linear-gradient(90deg,#3f29b0 0px,#3f29b1 3px,#412dbb 6px,#412cb9 8px,#4332c9 10px,#4332cb 11px,#422fc0 12.9px,#4230c4 13.9px,#4537d5 15.9px,#4536d4 16.9px,#4330c5 18.9px,#4331c8 19.9px,#4539d9 21.9px,#4539d9 22.9px,#4332c9 24.9px,#4331c8 25.9px,#4639da 27.9px,#463adc 28.9px,#4332ca 30.9px,#4332c9 31.9px,#463bdd 33.9px,#463bdc 34.8px,#4332ca 36.8px,#463bde 38.8px,#463de0 39.8px,#4433cd 41.8px,#4536d3 42.8px,#463de0 43.8px,#4740e3 44.8px,#4434d0 46.8px,#4537d6 47.8px,#4740e3 48.8px,#4743e7 49.8px,#4537d5 51.8px,#4537d6 52.8px,#4747eb 54.8px,#4745e9 55.8px,#4538d7 57.7px,#484cef 60.7px,#4848ec 61.7px,#463adb 63.7px,#463ddf 64.7px,#484ff1 66.7px,#484ef1 67.7px,#463cdf 69.7px,#463ddf 70.7px,#4850f3 72.7px,#4851f3 73.7px,#463de0 75.7px,#473fe2 76.7px,#4853f5 78.7px,#484ff2 79.6px,#4742e6 80.6px,#463de0 81.6px,#4853f5 83.6px,#4851f4 84.6px,#4744e8 85.6px,#463de0 86.6px,#4853f5 88.6px,#4852f4 89.6px,#463ee0 91.6px,#4853f5 93.6px,#4854f5 94.6px,#473ee1 96.6px,#4742e6 97.6px,#484ff2 98.6px,#4756f6 99.6px,#484ff2 100.6px,#4743e7 101.6px,#463ee1 102.5px,#4851f3 104.5px,#4756f6 105.5px,#4850f2 106.5px,#463ee1 108.5px,#4742e6 109.5px,#4756f6 111.5px,#4853f5 112.5px,#4848ec 113.5px)"></div>
<div class="r" style="top:28px;background:linear-gradient(90deg,#3f29b0 0px,#3f29b1 3px,#412dbb 6px,#412cb9 8px,#4332c8 10px,#4332ca 11px,#422fc0 12.9px,#4230c4 13.9px,#4537d5 15.9px,#4536d4 16.9px,#4330c5 18.9px,#4331c7 19.9px,#4538d8 21.9px,#4538d8 22.9px,#4332c9 24.9px,#4331c8 25.9px,#4639d9 27.9px,#463adb 28.9px,#4332ca 30.9px,#4332c9 31.9px,#463bdd 33.9px,#463adc 34.8px,#4332ca 36.8px,#463bdd 38.8px,#463ddf 39.8px,#4433cc 41.8px,#4535d2 42.8px,#463ddf 43.8px,#473fe3 44.8px,#4434cf 46.8px,#4537d5 47.8px,#473fe2 48.8px,#4743e7 49.8px,#4536d4 51.8px,#4537d6 52.8px,#4746eb 54.8px,#4744e8 55.8px,#4537d6 57.7px,#484bee 60.7px,#4848ec 61.7px,#4639da 63.7px,#463cdf 64.7px,#484df1 66.7px,#484df0 67.7px,#463cde 69.7px,#463cdf 70.7px,#484ff2 72.7px,#484ff2 73.7px,#463de0 75.7px,#473ee2 76.7px,#4852f4 78.7px,#484ef1 79.6px,#4741e5 80.6px,#463ddf 81.6px,#4852f4 83.6px,#4850f3 84.6px,#4743e7 85.6px,#463ddf 86.6px,#4852f4 88.6px,#4851f3 89.6px,#463de0 91.6px,#4852f4 93.6px,#4853f4 94.6px,#463ee1 96.6px,#4742e6 97.6px,#484ef1 98.6px,#4854f6 99.6px,#484ef1 100.6px,#4742e6 101.6px,#463de0 102.5px,#4850f2 104.5px,#4755f6 105.5px,#484ff2 106.5px,#463de0 108.5px,#4741e6 109.5px,#4854f6 111.5px,#4852f4 112.5px,#4747eb 113.5px)"></div>
<div class="r" style="top:30px;background:linear-gradient(90deg,#3f29b0 0px,#3f29b1 3px,#412cba 6px,#412cb9 8px,#4331c7 10px,#4332c8 11px,#422ebf 12.9px,#4433cc 14.9px,#4536d3 15.9px,#4435d2 16.9px,#4230c4 18.9px,#4330c5 19.9px,#4537d6 21.9px,#4537d6 22.9px,#4331c8 24.9px,#4331c7 25.9px,#4538d7 27.9px,#4538d8 28.9px,#4331c8 30.9px,#4331c7 31.9px,#463ada 33.9px,#4639da 34.8px,#4332c8 36.8px,#4639d9 38.8px,#463bdc 39.8px,#4433cb 41.8px,#4435d0 42.8px,#463bdc 43.8px,#463de0 44.8px,#4433cd 46.8px,#4536d3 47.8px,#463de0 48.8px,#4740e4 49.8px,#4435d1 51.8px,#4536d3 52.8px,#4744e8 54.8px,#4741e5 55.8px,#4536d4 57.7px,#4848ec 60.7px,#4745e9 61.7px,#4538d8 63.7px,#463adc 64.7px,#484aee 66.7px,#484aed 67.7px,#463bdc 69.7px,#463bdc 70.7px,#484bef 72.7px,#484cef 73.7px,#463bde 75.7px,#463de0 76.7px,#484ef1 78.7px,#484aee 79.6px,#473fe2 80.6px,#463bdc 81.6px,#484ff1 83.6px,#484df0 84.6px,#4741e5 85.6px,#463bdc 86.6px,#484ef1 88.6px,#484ef1 89.6px,#463bdd 91.6px,#484ef1 93.6px,#484ff2 94.6px,#463cdf 96.6px,#4740e3 97.6px,#484bee 98.6px,#4850f3 99.6px,#484aee 100.6px,#4740e3 101.6px,#463cde 102.5px,#484cf0 104.5px,#4851f3 105.5px,#4741e5 107.5px,#463bdd 108.5px,#473fe2 109.5px,#4851f3 111.5px,#484ef1 112.5px,#4745e9 113.5px)"></div>
<div class="r" style="top:32px;background:linear-gradient(90deg,#3f29b0 0px,#402ab5 4px,#412cb9 8px,#4330c5 10px,#422fc1 11.9px,#412ebe 12.9px,#4435d1 15.9px,#4434cf 16.9px,#422fc2 18.9px,#4230c3 19.9px,#4435d2 21.9px,#4536d3 22.9px,#4331c8 24.9px,#4331c7 25.9px,#4536d5 27.9px,#4537d5 28.9px,#4330c5 30.9px,#4330c5 31.9px,#4538d7 33.9px,#4538d7 34.8px,#4331c6 36.8px,#4538d8 39.8px,#4332ca 41.8px,#4434ce 42.8px,#4538d8 43.8px,#463ada 44.8px,#4332ca 46.8px,#4435d0 47.8px,#463bdc 48.8px,#463ddf 49.8px,#4434ce 51.8px,#4435d0 52.8px,#4740e4 54.8px,#463ee1 55.8px,#4435d0 57.7px,#4744e8 60.7px,#4742e6 61.7px,#4536d4 63.7px,#4538d7 64.7px,#4745e9 66.7px,#4745e9 67.7px,#4639d9 69.7px,#4539d9 70.7px,#4746ea 72.7px,#4747eb 73.7px,#463ada 75.7px,#463bdd 76.7px,#4849ed 78.7px,#4745e9 79.6px,#463bdd 80.6px,#4538d8 81.6px,#484aee 83.6px,#4848ec 84.6px,#4538d8 86.6px,#4849ed 88.6px,#4849ed 89.6px,#4539d9 91.6px,#4848ec 93.6px,#4849ed 94.6px,#463adc 96.6px,#463de0 97.6px,#4746ea 98.6px,#484aee 99.6px,#4639da 102.5px,#4848ec 104.5px,#484cef 105.5px,#4747eb 106.5px,#4539d8 108.5px,#4745e9 110.5px,#484bef 111.5px,#484aee 112.5px,#4742e6 113.5px)"></div>
<div class="r" style="top:34px;background:linear-gradient(90deg,#3f29b1 0px,#402ab5 4px,#422ec0 9px,#4230c4 11px,#412dbc 12.9px,#4434cf 15.9px,#4434cf 16.9px,#422fc1 18.9px,#422fc0 19.9px,#4435d1 22.9px,#4332c9 25.9px,#4536d3 27.9px,#4435d1 28.9px,#422fc2 30.9px,#422fc3 31.9px,#4537d5 33.9px,#4537d6 34.8px,#4331c6 36.8px,#4535d2 39.8px,#4332ca 41.8px,#4536d4 44.8px,#4331c8 46.8px,#4539d9 48.8px,#463ada 49.8px,#4332ca 51.8px,#4433cd 52.8px,#463de0 54.8px,#463bdc 55.8px,#4433cc 57.7px,#4741e5 60.7px,#473fe3 61.7px,#4435d1 63.7px,#4536d2 64.7px,#4740e4 66.7px,#4741e5 67.7px,#4538d7 69.7px,#4537d6 70.7px,#4740e4 72.7px,#4741e5 73.7px,#4538d8 75.7px,#463adb 76.7px,#4744e8 78.7px,#4740e3 79.6px,#4538d7 80.6px,#4536d3 81.6px,#4745e9 83.6px,#4743e7 84.6px,#4536d2 86.6px,#4744e8 88.6px,#4744e9 89.6px,#4537d5 91.6px,#4742e6 93.6px,#4743e7 94.6px,#4639d9 96.6px,#4744e8 99.6px,#4639d9 101.6px,#4537d6 102.5px,#4744e8 104.5px,#4747eb 105.5px,#4742e6 106.5px,#4536d3 108.5px,#4746eb 111.5px,#4745ea 112.5px,#473fe3 113.5px)"></div>
<div class="r" style="top:36px;background:linear-gradient(90deg,#3f29b2 0px,#402ab5 4px,#4330c5 10px,#412dbc 12.9px,#4435d1 15.9px,#4435d1 16.9px,#422fc2 18.9px,#422ebf 19.9px,#4435d1 22.9px,#4435d1 26.9px,#4435d0 28.9px,#422ec0 30.9px,#422fc2 31.9px,#4537d5 33.9px,#4538d7 34.8px,#4331c7 36.8px,#4330c5 37.8px,#4433cd 39.8px,#4434ce 44.8px,#4331c7 46.8px,#4538d7 48.8px,#4537d6 49.8px,#4331c7 51.8px,#4433cc 52.8px,#4539d9 53.8px,#463cde 54.8px,#4332c9 57.7px,#4740e3 60.7px,#473ee1 61.7px,#4434cf 63.7px,#4434ce 64.7px,#463cdf 66.7px,#463cdf 68.7px,#4536d4 70.7px,#463cde 73.7px,#4539d8 75.7px,#4740e3 78.7px,#4435d1 80.6px,#4434cf 81.6px,#4742e6 83.6px,#473fe2 84.6px,#4433cd 86.6px,#4740e3 88.6px,#4741e6 89.6px,#4535d2 91.6px,#4537d5 92.6px,#463cde 93.6px,#473ee2 94.6px,#4639da 96.6px,#463ee1 99.6px,#4536d4 101.6px,#4537d5 102.5px,#4742e6 104.5px,#4743e7 105.5px,#4434ce 108.5px,#4536d4 109.5px,#4743e7 111.5px,#473fe2 113.5px)"></div>
<div class="r" style="top:38px;background:linear-gradient(90deg,#402ab4 0px,#402ab3 3px,#4331c8 9px,#4330c5 11px,#412dbd 12.9px,#4537d6 15.9px,#4537d6 16.9px,#422ebf 19.9px,#422fc2 20.9px,#4536d4 22.9px,#4538d8 27.9px,#422ebf 30.9px,#422fc2 31.9px,#4539d9 33.9px,#463adc 34.8px,#4330c4 37.8px,#4536d3 41.8px,#4331c6 45.8px,#4332c9 46.8px,#4539d9 48.8px,#4331c6 51.8px,#463adb 53.8px,#463cdf 54.8px,#4433cb 56.8px,#4331c8 57.7px,#463cde 59.7px,#4741e5 60.7px,#4740e3 61.7px,#4435d0 63.7px,#4433cc 64.7px,#473ee1 67.7px,#463bdc 69.7px,#4536d4 71.7px,#473fe2 77.7px,#463ee1 78.7px,#4433cd 80.6px,#4434ce 81.6px,#4741e5 83.6px,#463de0 84.6px,#4332ca 86.6px,#463ee0 88.6px,#4741e5 89.6px,#4435d2 91.6px,#4435d0 92.6px,#463bde 94.6px,#463adb 99.6px,#4435d1 101.6px,#4743e7 104.5px,#4742e6 105.5px,#4332ca 108.5px,#4435d1 109.5px,#4742e6 111.5px,#4741e5 113.5px)"></div>
<div class="r" style="top:40px;background:linear-gradient(90deg,#402bb6 0px,#402ab5 3px,#4433cd 8px,#4434cf 10px,#422fc1 11.9px,#422fc0 12.9px,#463cde 15.9px,#463cde 16.9px,#422fc1 19.9px,#4230c3 20.9px,#4639da 22.9px,#473fe2 25.9px,#463cdf 27.9px,#422fc0 30.9px,#4331c6 31.9px,#463ddf 33.9px,#4740e3 34.8px,#4435d2 36.8px,#4331c7 37.8px,#4230c4 38.8px,#463adc 41.8px,#4435d0 43.8px,#4331c8 44.8px,#4330c5 45.8px,#463ada 47.8px,#463cde 48.8px,#4332ca 50.8px,#4331c7 51.8px,#463de0 53.8px,#473fe2 54.8px,#4433cc 56.8px,#4332ca 57.7px,#473fe2 59.7px,#4745e9 60.7px,#4744e8 61.7px,#4433cc 64.7px,#4435d0 65.7px,#4740e4 67.7px,#4743e7 68.7px,#4536d3 71.7px,#4535d2 72.7px,#4743e7 76.7px,#463ee1 78.7px,#4433cc 80.6px,#4434cf 81.6px,#4744e8 83.6px,#463ee1 84.6px,#4535d2 85.6px,#4332ca 86.6px,#463ee1 88.6px,#4744e8 89.6px,#4434ce 92.6px,#4741e5 96.6px,#463de0 98.6px,#4435d1 100.6px,#4435d1 101.6px,#4747eb 104.5px,#4744e8 105.5px,#4332ca 108.5px,#4435d1 109.5px,#4744e8 111.5px,#4746ea 113.5px)"></div>
<div class="r" style="top:42px;background:linear-gradient(90deg,#412cba 0px,#412cb9 3px,#4538d7 8px,#4538d7 10px,#4331c6 11.9px,#4331c6 12.9px,#463cde 14.9px,#4742e6 15.9px,#4742e6 16.9px,#463cdf 17.9px,#4330c5 19.9px,#4331c6 20.9px,#473ee2 22.9px,#4746eb 24.9px,#4743e7 27.9px,#463bdd 28.9px,#4433cd 29.9px,#4230c4 30.9px,#4433cc 31.9px,#4742e7 33.9px,#4747eb 34.8px,#4741e5 35.8px,#4433cb 37.8px,#4330c5 38.8px,#4740e4 41.8px,#463de0 42.8px,#4332c9 44.8px,#4331c8 45.8px,#473fe2 47.8px,#4740e4 48.8px,#4433cc 50.8px,#4433cb 51.8px,#4742e6 53.8px,#4744e8 54.8px,#4434cf 56.8px,#4434ce 57.7px,#4744e8 59.7px,#484bef 60.7px,#484bee 61.7px,#463adb 63.7px,#4434d0 64.7px,#4535d2 65.7px,#4745e9 67.7px,#484aee 68.7px,#463ee1 70.7px,#4537d6 71.7px,#4435d2 72.7px,#484aee 76.7px,#4741e5 78.7px,#4434ce 80.6px,#4536d3 81.6px,#4848ec 83.6px,#4740e4 84.6px,#4433cc 86.6px,#4740e4 88.6px,#4848ec 89.6px,#4743e7 90.6px,#4435d0 92.6px,#4536d3 93.6px,#4743e7 95.6px,#4848ec 96.6px,#4740e3 98.6px,#4435d1 100.6px,#4536d5 101.6px,#4746ea 103.5px,#484cf0 104.5px,#4740e4 106.5px,#4433cc 108.5px,#4536d4 109.5px,#4849ed 111.5px,#484df0 113.5px)"></div>
<div class="r" style="top:44px;background:linear-gradient(90deg,#422ebf 0px,#422ebe 3px,#463adb 7px,#463ee1 9px,#4538d7 11px,#4434ce 11.9px,#4434ce 12.9px,#4742e6 14.9px,#4849ed 15.9px,#4849ed 16.9px,#4742e6 17.9px,#4433cc 19.9px,#4433cd 20.9px,#4744e8 22.9px,#484ff2 24.9px,#4849ed 27.9px,#4537d5 29.9px,#4433cb 30.9px,#4536d3 31.9px,#4849ed 33.9px,#484ef1 34.8px,#473ee1 36.8px,#4535d2 37.8px,#4332ca 38.8px,#4536d3 39.8px,#4747eb 41.8px,#4743e7 42.8px,#4433cd 44.8px,#4433cd 45.8px,#4744e9 47.8px,#4746ea 48.8px,#4435d2 50.8px,#4435d2 51.8px,#4848ec 53.8px,#4849ed 54.8px,#4537d6 56.8px,#4537d5 57.7px,#484aee 59.7px,#4852f4 60.7px,#4852f4 61.7px,#473fe2 63.7px,#4537d6 64.7px,#4538d7 65.7px,#484aee 67.7px,#4851f3 68.7px,#4743e8 70.7px,#4537d5 72.7px,#4744e8 74.7px,#4852f4 76.7px,#4745e9 78.7px,#4536d3 80.6px,#4639da 81.6px,#484ef1 83.6px,#463ada 85.6px,#4435d2 86.6px,#463adb 87.6px,#484ef1 89.6px,#4848ec 90.6px,#4537d5 92.6px,#4538d7 93.6px,#4849ed 95.6px,#484ff2 96.6px,#4744e8 98.6px,#4536d4 100.6px,#4639da 101.6px,#484df0 103.5px,#4853f5 104.5px,#4744e8 106.5px,#4639da 107.5px,#4435d2 108.5px,#4639da 109.5px,#484ef1 111.5px,#4854f5 113.5px)"></div>
<div class="r" style="top:46px;background:linear-gradient(90deg,#4330c5 0px,#4330c5 3px,#473fe2 7px,#4742e6 10px,#4538d8 11.9px,#4538d8 12.9px,#484ff2 15.9px,#4850f2 16.9px,#473ee1 18.9px,#4537d6 19.9px,#4537d6 20.9px,#484bee 22.9px,#4756f7 24.9px,#4755f6 26.9px,#4746ea 28.9px,#463bdd 29.9px,#4537d5 30.9px,#463bdc 31.9px,#484ff2 33.9px,#4854f6 34.8px,#4744e8 36.8px,#4639da 37.8px,#4435d2 38.8px,#4743e7 40.8px,#484cf0 41.8px,#4848ec 42.8px,#4536d4 44.8px,#4536d4 45.8px,#484aee 47.8px,#484bef 48.8px,#4639d9 50.8px,#4639da 51.8px,#484ef1 53.8px,#484ff2 54.8px,#463cde 56.8px,#463cde 57.7px,#4850f3 59.7px,#4758f8 60.7px,#4758f8 61.7px,#4744e8 63.7px,#463cde 64.7px,#463cdf 65.7px,#4850f2 67.7px,#4757f7 68.7px,#4853f5 69.7px,#473fe2 71.7px,#463bdc 72.7px,#4849ed 74.7px,#4758f8 76.7px,#484aed 78.7px,#463ada 80.6px,#463ee1 81.6px,#4853f5 83.6px,#463ee1 85.6px,#4639da 86.6px,#463ee1 87.6px,#4853f5 89.6px,#484ef1 90.6px,#463bdc 92.6px,#463bdd 93.6px,#484ef1 95.6px,#4755f6 96.6px,#4852f4 97.6px,#473fe2 99.6px,#463adb 100.6px,#463ee1 101.6px,#4852f4 103.5px,#4758f8 104.5px,#4849ed 106.5px,#463ee1 107.5px,#4639d9 108.5px,#463ee1 109.5px,#4853f5 111.5px,#475af9 113.5px)"></div>
<div class="r" style="top:48px;background:linear-gradient(90deg,#4433cd 0px,#4434cf 3px,#4747eb 8px,#4848ec 10px,#473fe3 11.9px,#4740e3 12.9px,#4755f6 15.9px,#4755f6 16.9px,#463de0 19.9px,#463ee1 20.9px,#4758f8 23.9px,#475bf9 26.9px,#484df0 28.9px,#463ee1 30.9px,#484cef 32.9px,#4759f9 34.8px,#484aed 36.8px,#463adc 38.8px,#4848ec 40.8px,#4851f3 41.8px,#484df0 42.8px,#463bdd 44.8px,#463bdd 45.8px,#484ff2 47.8px,#4850f2 48.8px,#473fe3 50.8px,#4740e4 51.8px,#4854f6 53.8px,#4755f6 54.8px,#4743e7 56.8px,#4744e8 57.7px,#465efb 60.7px,#465efb 61.7px,#4744e8 64.7px,#4744e8 65.7px,#465dfa 68.7px,#4850f3 70.7px,#4742e6 72.7px,#4850f3 74.7px,#465efb 76.7px,#4850f2 78.7px,#4741e4 80.6px,#484ff2 82.6px,#4759f8 83.6px,#4745e9 85.6px,#4740e4 86.6px,#484ff2 88.6px,#4759f8 89.6px,#4854f5 90.6px,#4742e6 92.6px,#4742e6 93.6px,#475bf9 96.6px,#484ff2 98.6px,#4740e4 100.6px,#484ff2 102.5px,#465efb 104.5px,#484ff2 106.5px,#4740e4 108.5px,#484ff2 110.5px,#465efb 112.5px,#4660fb 113.5px)"></div>
<div class="r" style="top:50px;background:linear-gradient(90deg,#4537d6 0px,#463cde 4px,#4850f2 9px,#484aee 12.9px,#475bfa 15.9px,#4755f6 17.9px,#4747eb 19.9px,#4747eb 20.9px,#465efb 23.9px,#4561fc 26.9px,#4848ec 30.9px,#465efb 34.8px,#4743e7 38.8px,#4755f6 41.8px,#4742e6 44.8px,#4743e7 45.8px,#4755f6 47.8px,#4756f7 48.8px,#4849ed 50.8px,#484aee 51.8px,#475dfa 53.8px,#465efb 54.8px,#484ff2 56.8px,#4850f2 57.7px,#4367fd 60.7px,#4366fd 61.7px,#4850f2 64.7px,#4850f2 65.7px,#4465fd 68.7px,#475af9 70.7px,#484ef1 72.7px,#4466fd 76.7px,#484df0 80.6px,#4759f8 82.6px,#4561fc 83.6px,#484cf0 86.6px,#4561fc 89.6px,#484df1 92.6px,#484df1 93.6px,#4563fd 96.6px,#4759f8 98.6px,#484cf0 100.6px,#4465fd 104.5px,#484cf0 108.5px,#4465fd 112.5px,#4367fd 113.5px)"></div>
<div class="r" style="top:52px;background:linear-gradient(90deg,#463cdf 0px,#4747eb 5px,#475af9 10px,#4758f8 12.9px,#4563fd 15.9px,#465efb 17.9px,#4853f5 19.9px,#475af9 21.9px,#4269fe 24.9px,#4466fd 27.9px,#4755f6 30.9px,#4465fd 34.8px,#484ef1 38.8px,#475bf9 41.8px,#484df0 44.8px,#4854f6 46.8px,#475dfa 47.8px,#465ffb 48.8px,#4757f7 50.8px,#4660fc 52.8px,#4269fe 53.8px,#416afe 54.8px,#4660fc 56.8px,#4367fd 58.7px,#3a74fe 60.7px,#3f6fff 62.7px,#4562fc 64.7px,#4367fd 66.7px,#3b73fe 68.7px,#4660fb 72.7px,#3b73fe 76.7px,#465efb 80.6px,#3f6eff 83.6px,#465efb 86.6px,#3f6eff 89.6px,#465ffb 92.6px,#4464fd 94.6px,#3d70ff 96.6px,#465efb 100.6px,#3c72ff 104.5px,#465efb 108.5px,#3c72ff 112.5px,#3b73fe 113.5px)"></div>
<div class="r" style="top:54px;background:linear-gradient(90deg,#4743e8 0px,#4854f6 6px,#4368fe 11px,#406dfe 16.9px,#4562fc 19.9px,#3f6efe 22.9px,#3876fe 25.9px,#3f6eff 28.9px,#4466fd 30.9px,#3f6eff 34.8px,#475bf9 38.8px,#4563fc 41.8px,#475af9 44.8px,#4660fc 46.8px,#426afe 48.8px,#426afe 51.8px,#3579fd 53.8px,#3678fe 55.8px,#3776fe 57.7px,#2e84f9 60.7px,#327cfc 63.7px,#3678fd 65.7px,#2e83f9 68.7px,#3876fe 72.7px,#2f83f9 76.7px,#3974fe 80.6px,#307ffb 83.6px,#3a74fe 86.6px,#307ffb 89.6px,#3974fe 93.6px,#2f80fa 96.6px,#3a74fe 100.6px,#2f81fa 104.5px,#3a74fe 108.5px,#2f82fa 113.5px)"></div>
<div class="r" style="top:56px;background:linear-gradient(90deg,#484cf0 0px,#4465fd 7px,#327cfc 11px,#3579fd 17.9px,#3677fe 20.9px,#2e85f8 24.9px,#2f82f9 28.9px,#327cfc 31.9px,#317dfc 34.8px,#416bfe 38.8px,#416cfe 42.8px,#4368fe 45.8px,#3876fe 48.8px,#337bfc 51.8px,#2d88f6 54.8px,#2d8bf4 58.7px,#2b91ef 61.7px,#2d8af4 65.7px,#2c8ff0 69.7px,#2d8af5 73.7px,#2c8ef2 77.7px,#2d88f6 81.6px,#2d8cf3 83.6px,#2e87f7 87.6px,#2d8bf4 90.6px,#2e87f7 93.6px,#2d8df2 97.6px,#2d88f6 101.6px,#2d8df2 105.5px,#2e87f7 109.5px,#2d8df2 113.5px)"></div>
<div class="r" style="top:58px;background:linear-gradient(90deg,#4756f7 0px,#406dfe 6px,#2e84f8 9px,#2c8ef1 11px,#2e87f7 12.9px,#337bfd 14.9px,#259ce7 24.9px,#2698ea 29.9px,#2d8bf4 35.8px,#327cfc 39.8px,#3777fe 45.8px,#2e85f8 50.8px,#2a93ee 55.8px,#2699e9 62.7px,#2798ea 71.7px,#2896eb 78.7px,#2a93ed 88.6px,#2895ec 99.6px,#2896ec 106.5px,#2895ec 113.5px)"></div>
<div class="r" style="top:60px;background:linear-gradient(90deg,#4660fc 0px,#3777fe 5px,#2d8df2 8px,#249ee6 10px,#23a0e5 11px,#2699e9 11.9px,#3a74fe 13.9px,#4269fe 14.9px,#3e70ff 15.9px,#2f82fa 16.9px,#249ee6 18.9px,#0cb3d3 22.9px,#01b8ca 24.9px,#01b9c7 27.9px,#05b6ce 29.9px,#1fa6e2 34.8px,#2d8bf4 40.8px,#2e85f8 45.8px,#249ee6 55.8px,#1ea8e1 69.7px,#249ee6 88.6px,#20a4e3 105.5px,#249fe6 113.5px)"></div>
<div class="r" style="top:62px;background:linear-gradient(90deg,#416cfe 0px,#2f81fa 4px,#2994ed 7px,#1ca9df 9px,#06b5cf 11px,#0fb2d5 11.9px,#1fa6e2 12.9px,#2896ec 13.9px,#2d8df2 14.9px,#2b91ef 15.9px,#18aedb 17.9px,#02b7cb 18.9px,#0abcbc 19.9px,#20c0ae 20.9px,#4bca7c 24.9px,#56cb73 26.9px,#4dca7a 28.9px,#27c2a8 32.9px,#02bac2 34.8px,#05b6ce 35.8px,#14b0d8 36.8px,#249ee6 39.8px,#2b91ef 44.8px,#19acdc 57.7px,#05b6ce 69.7px,#0cb3d3 76.7px,#1aacdd 83.6px,#16afda 93.6px,#0ab4d2 101.6px,#10b2d5 106.5px,#1aabdd 113.5px)"></div>
<div class="r" style="top:64px;background:linear-gradient(90deg,#3777fe 0px,#2e85f8 2px,#259ce7 6px,#1fa5e2 7px,#13b0d7 8px,#01b9c5 9px,#1ec0b0 10px,#2fc49e 11px,#33c696 11.9px,#30c59b 12.9px,#1dc0b1 14.9px,#1abfb3 15.9px,#2cc3a3 17.9px,#42c984 19.9px,#74cc5c 21.9px,#a8c94c 23.9px,#b9c845 24.9px,#c4c640 25.9px,#c8c63e 26.9px,#c6c63f 27.9px,#bdc743 28.9px,#adc94a 29.9px,#7ccc5a 31.9px,#43c984 33.9px,#21c0ae 35.8px,#07bbbf 36.8px,#04b6cd 37.8px,#13b0d8 38.8px,#23a0e5 41.8px,#269ae9 45.8px,#17aeda 53.8px,#01b8c9 61.7px,#08bcbe 67.7px,#09bcbd 73.7px,#01b8c8 78.7px,#0eb2d4 86.6px,#01b9c5 96.6px,#05bbc0 103.5px,#03b7cc 109.5px,#0cb3d3 113.5px)"></div>
<div class="r" style="top:66px;background:linear-gradient(90deg,#2f81fa 0px,#21a3e3 5px,#1aacdd 6px,#07b5cf 7px,#0ebdba 8px,#2fc49e 9px,#46ca80 10px,#66cc66 11px,#7ccc5a 11.9px,#82cc58 12.9px,#79cc5b 13.9px,#5acb70 15.9px,#4fcb79 16.9px,#4cca7b 17.9px,#52cb77 18.9px,#5fcc6c 19.9px,#75cc5c 20.9px,#c0c742 23.9px,#d0c53a 24.9px,#dec532 26.9px,#dbc534 27.9px,#d3c538 28.9px,#c5c63f 29.9px,#afc949 30.9px,#72cc5d 32.9px,#52cb76 33.9px,#39c78f 34.8px,#2ac3a5 35.8px,#11beb8 36.8px,#01b8c7 37.8px,#19addc 39.8px,#259ce7 43.8px,#23a1e4 49.8px,#0eb3d4 57.7px,#01b8c8 64.7px,#03bbc2 72.7px,#03b7cc 78.7px,#12b1d7 86.6px,#05b6cd 94.6px,#01b9c5 101.6px,#05b6ce 108.5px,#12b1d6 113.5px)"></div>
<div class="r" style="top:68px;background:linear-gradient(90deg,#2d8af4 0px,#1ca9df 4px,#12b1d6 5px,#01b9c7 6px,#1dc0b0 7px,#36c692 8px,#5ccb6e 9px,#8acc56 10px,#aec94a 11px,#c0c742 11.9px,#c2c741 12.9px,#b5c847 13.9px,#9cca51 14.9px,#7dcc5a 15.9px,#60cc6b 16.9px,#4cca7b 17.9px,#43c983 18.9px,#41c985 19.9px,#47ca80 20.9px,#62cc69 22.9px,#73cc5d 23.9px,#8dcb55 25.9px,#92cb54 26.9px,#90cb54 27.9px,#88cc57 28.9px,#7acc5b 29.9px,#51cb77 31.9px,#3dc88a 32.9px,#20c0ae 34.8px,#08bcbe 35.8px,#02b7cb 36.8px,#1aabdd 38.8px,#2798ea 42.8px,#2d89f5 50.8px,#21a3e3 55.8px,#19acdc 72.7px,#22a2e4 89.6px,#1ca9df 103.5px,#22a1e4 113.5px)"></div>
<div class="r" style="top:70px;background:linear-gradient(90deg,#2b92ee 0px,#18addb 3px,#07b5cf 4px,#07bcbf 5px,#28c2a7 6px,#3fc986 7px,#6fcc5f 8px,#a6c94d 9px,#d1c53a 10px,#eac62b 11px,#f3c825 11.9px,#f0c727 12.9px,#e0c531 13.9px,#c1c741 14.9px,#62cc6a 16.9px,#3cc88a 17.9px,#2bc3a4 18.9px,#15beb6 19.9px,#05bbc1 20.9px,#02bac4 21.9px,#04bbc1 22.9px,#24c1ab 25.9px,#25c1aa 28.9px,#14beb6 30.9px,#07bbbf 31.9px,#01b8ca 32.9px,#1aacdd 34.8px,#259be8 38.8px,#2f82f9 46.8px,#347afd 47.8px,#406cfe 48.8px,#4660fb 49.8px,#475bf9 50.8px,#4561fc 51.8px,#3d70ff 52.8px,#3080fb 53.8px,#2c8ef1 55.8px,#2d8df2 60.7px,#2c90f0 64.7px,#2a92ee 73.7px,#2d88f6 80.6px,#2d89f5 86.6px,#2e86f8 90.6px,#2c8ff0 98.6px,#2d89f5 105.5px,#2d8af4 113.5px)"></div>
<div class="r" style="top:72px;background:linear-gradient(90deg,#2699e9 0px,#16afd9 2px,#02b7cb 3px,#13beb7 4px,#30c49d 5px,#4eca7a 6px,#85cc58 7px,#bfc742 8px,#ecc62a 9px,#fdcf22 10px,#f7db28 11px,#f6df29 11.9px,#f7db29 12.9px,#fdcf22 13.9px,#eac62b 14.9px,#b7c846 15.9px,#70cc5f 16.9px,#34c695 17.9px,#02bac3 18.9px,#1ea7e1 19.9px,#2994ed 20.9px,#2d89f5 21.9px,#2d8bf4 22.9px,#20a5e2 25.9px,#1ea7e1 29.9px,#249fe5 31.9px,#327cfc 34.8px,#3974fe 35.8px,#317dfc 37.8px,#2e86f7 39.8px,#337bfc 45.8px,#3f6efe 47.8px,#4757f7 49.8px,#4852f4 50.8px,#4757f7 51.8px,#3e6fff 53.8px,#327cfc 55.8px,#3777fe 58.7px,#4660fc 61.7px,#4660fc 62.7px,#347afd 66.7px,#3579fd 74.7px,#4367fd 77.7px,#475cfa 79.6px,#3b72ff 83.6px,#3c72ff 85.6px,#475bf9 89.6px,#4465fd 91.6px,#3875fe 94.6px,#3975fe 99.6px,#475cfa 103.5px,#4661fc 105.5px,#3b73fe 108.5px,#3a74fe 113.5px)"></div>
<div class="r" style="top:74px;background:linear-gradient(90deg,#23a0e5 0px,#18addb 1px,#01b8ca 2px,#1abfb2 3px,#35c695 4px,#5ccb6e 5px,#d5c537 7px,#fecb21 8px,#f5e128 9px,#f5f31d 10px,#f9fb0e 11px,#f9fb0e 12.9px,#f5f020 13.9px,#f8da28 14.9px,#edc629 15.9px,#a2ca4e 16.9px,#3fc987 17.9px,#01b7ca 18.9px,#2796eb 19.9px,#3975fe 20.9px,#4563fd 21.9px,#4465fd 22.9px,#2f81fa 24.9px,#2d8df2 26.9px,#2d8bf4 30.9px,#347afd 32.9px,#4368fe 33.9px,#4759f8 34.8px,#4852f4 35.8px,#4756f7 36.8px,#3e6fff 38.8px,#3579fd 40.8px,#406dfe 47.8px,#4563fc 50.8px,#3e6fff 55.8px,#4466fd 58.7px,#4848ec 61.7px,#4747eb 62.7px,#4564fd 65.7px,#416bfe 68.7px,#4368fe 74.7px,#465dfa 76.7px,#4848ec 78.7px,#4744e8 79.6px,#4852f4 81.6px,#4563fc 83.6px,#4562fc 85.6px,#4847ec 88.6px,#4743e7 89.6px,#4851f4 91.6px,#4562fc 93.6px,#4466fd 98.6px,#465ffb 100.6px,#4744e8 103.5px,#4743e7 104.5px,#465dfb 107.5px,#4465fd 110.5px,#4465fd 113.5px)"></div>
<div class="r" style="top:76px;background:linear-gradient(90deg,#1da9e0 0px,#04b6cd 1px,#1cc0b1 2px,#39c78e 3px,#6ccc61 4px,#b0c849 5px,#ebc62a 6px,#f8d827 7px,#f5f31d 8px,#f9fb0e 9px,#f9fb0e 14.9px,#f5e427 15.9px,#efc727 16.9px,#91cb54 17.9px,#30c49c 18.9px,#13b0d7 19.9px,#2994ed 20.9px,#2f80fa 21.9px,#3579fd 22.9px,#327cfc 28.9px,#3777fe 31.9px,#4660fb 34.8px,#475cfa 35.8px,#3e6fff 39.8px,#4466fd 57.7px,#4851f4 61.7px,#4755f6 63.7px,#4562fc 66.7px,#4660fb 75.7px,#484ef1 79.6px,#465ffb 84.6px,#4755f6 87.6px,#484df0 89.6px,#465ffb 94.6px,#475cfa 99.6px,#4745ea 103.5px,#484cf0 105.5px,#475cfa 108.5px,#465dfb 113.5px)"></div>
<div class="r" style="top:78px;background:linear-gradient(90deg,#08b4d0 0px,#1fc0af 1px,#45c981 2px,#8ccb55 3px,#d6c537 4px,#fcd123 5px,#f5f020 6px,#f9fb0e 7px,#f9fb0e 15.9px,#f5eb23 16.9px,#f3c825 17.9px,#94cb53 18.9px,#36c693 19.9px,#01b8c9 20.9px,#20a5e2 21.9px,#2e87f7 23.9px,#3c72ff 26.9px,#4368fd 36.8px,#4466fd 49.8px,#465ffb 69.7px,#465dfb 77.7px,#475bf9 88.6px,#475bf9 98.6px,#4747eb 101.6px,#4741e4 102.5px,#4740e4 103.5px,#4758f8 107.5px,#475bf9 113.5px)"></div>
<div class="r" style="top:80px;background:linear-gradient(90deg,#18bfb4 0px,#47ca7f 1px,#9dca50 2px,#ebc62a 3px,#f6e029 4px,#f9fb0e 5px,#f9fb0e 16.9px,#f7f817 17.9px,#fecc21 18.9px,#a4ca4e 19.9px,#3bc88c 20.9px,#01b9c6 21.9px,#20a5e2 22.9px,#2b90f0 23.9px,#3080fb 24.9px,#416bfe 26.9px,#4564fd 30.9px,#4562fc 62.7px,#484ef1 67.7px,#4660fc 72.7px,#475bf9 98.6px,#4848ec 101.6px,#4742e6 103.5px,#4759f8 107.5px,#475af9 113.5px)"></div>
<div class="r" style="top:82px;background:linear-gradient(90deg,#3ec888 0px,#9bca51 1px,#f1c726 2px,#f5e825 3px,#f9fb0e 4px,#f9fb0e 18.9px,#fdcb21 19.9px,#91cb54 20.9px,#2fc49e 21.9px,#0eb2d4 22.9px,#269ae9 23.9px,#2e85f8 24.9px,#3974fe 25.9px,#4269fe 26.9px,#465efb 29.9px,#4464fd 61.7px,#4759f8 64.7px,#4746ea 66.7px,#4742e6 67.7px,#484ff2 69.7px,#465ffb 71.7px,#4563fc 78.7px,#475cfa 99.6px,#4854f5 103.5px,#475cfa 109.5px,#475bf9 113.5px)"></div>
<div class="r" style="top:84px;background:linear-gradient(90deg,#85cc58 0px,#e8c62c 1px,#f5e526 2px,#f9fb0e 3px,#f9fb0e 18.9px,#f5e327 19.9px,#c7c63e 20.9px,#45c981 21.9px,#01b9c7 22.9px,#23a0e5 23.9px,#2d89f5 24.9px,#3876fe 25.9px,#4269fe 26.9px,#475bf9 29.9px,#4367fd 60.7px,#4660fb 64.7px,#4851f3 67.7px,#4465fd 72.7px,#475dfa 113.5px)"></div>
<div class="r" style="top:86px;background:linear-gradient(90deg,#c2c741 0px,#fbd324 1px,#f9fb0e 2px,#f9fb0e 18.9px,#f8d928 19.9px,#b6c846 20.9px,#3dc88a 21.9px,#01b7ca 22.9px,#249fe5 23.9px,#2d88f6 24.9px,#3875fe 25.9px,#4368fe 26.9px,#4854f5 30.9px,#4852f4 33.9px,#465ffb 38.8px,#475bf9 45.8px,#4466fd 49.8px,#475cfa 54.8px,#4269fe 60.7px,#4466fd 69.7px,#4563fd 95.6px,#465dfb 113.5px)"></div>
<div class="r" style="top:88px;background:linear-gradient(90deg,#e0c531 0px,#f6de29 1px,#f9fb0e 2px,#f9fb0e 17.9px,#f6dd29 18.9px,#d2c539 19.9px,#61cc6a 20.9px,#1dc0b1 21.9px,#18addb 22.9px,#2796eb 23.9px,#2f82f9 24.9px,#3c72ff 25.9px,#465ffb 27.9px,#4743e7 31.9px,#4740e3 32.9px,#484bef 34.8px,#475dfa 37.8px,#465dfa 40.8px,#4746ea 44.8px,#4853f4 46.8px,#4562fc 48.8px,#4563fc 50.8px,#4848ec 54.8px,#4756f6 56.8px,#4465fd 58.7px,#426afe 64.7px,#465dfb 113.5px)"></div>
<div class="r" style="top:90px;background:linear-gradient(90deg,#ddc533 0px,#f9d727 1px,#f6f71a 2px,#f9fb0e 3px,#f9fb0e 14.9px,#f7f819 15.9px,#f7db29 16.9px,#eac62b 17.9px,#9fca50 18.9px,#48ca7e 19.9px,#18bfb4 20.9px,#14b0d8 21.9px,#259ce7 22.9px,#347afd 24.9px,#406dfe 25.9px,#4852f4 29.9px,#4743e7 31.9px,#4740e3 32.9px,#484bee 34.8px,#475cfa 37.8px,#475cfa 40.8px,#4746ea 44.8px,#4852f4 46.8px,#4562fc 48.8px,#4563fc 50.8px,#4848ec 54.8px,#4756f6 56.8px,#4466fd 58.7px,#416bfe 64.7px,#475cfa 113.5px)"></div>
<div class="r" style="top:92px;background:linear-gradient(90deg,#aac94b 0px,#e5c52e 1px,#fcd123 2px,#f5e626 3px,#f6f61a 4px,#f9fb0e 5px,#f9fb0e 11px,#f5f120 11.9px,#f5e228 12.9px,#fdd022 13.9px,#ebc62a 14.9px,#bfc742 15.9px,#84cc58 16.9px,#48ca7f 17.9px,#27c2a8 18.9px,#01b8c9 19.9px,#1caadf 20.9px,#2d8bf4 22.9px,#317dfc 23.9px,#4269fe 25.9px,#4851f3 31.9px,#4855f6 34.8px,#465efb 40.8px,#475af9 45.8px,#4465fd 49.8px,#465efb 55.8px,#4269fe 60.7px,#465ffb 102.5px,#475af9 113.5px)"></div>
<div class="r" style="top:94px;background:linear-gradient(90deg,#7fcc59 0px,#b1c849 1px,#d7c536 2px,#f1c726 3px,#fecc21 4px,#fad526 7px,#fece21 9px,#f9ca22 10px,#e8c62c 11px,#cfc53a 11.9px,#afc94a 12.9px,#87cc57 13.9px,#5ccb6e 14.9px,#39c78e 15.9px,#24c1ab 16.9px,#02bac4 17.9px,#13b0d7 18.9px,#20a4e3 19.9px,#2f81fa 22.9px,#4368fd 25.9px,#4759f8 30.9px,#4368fe 65.7px,#4758f8 113.5px)"></div>
<div class="r" style="top:96px;background:linear-gradient(90deg,#78cc5b 0px,#9eca50 1px,#bbc744 2px,#d0c53a 3px,#dcc533 4px,#e2c530 6px,#d3c539 8px,#aec94a 10px,#74cc5c 11.9px,#3bc88c 13.9px,#2bc3a3 14.9px,#11beb8 15.9px,#02b7cb 16.9px,#15afd9 17.9px,#2b90ef 20.9px,#317efb 22.9px,#4369fe 25.9px,#475af9 30.9px,#465efb 44.8px,#4464fd 71.7px,#4854f5 113.5px)"></div>
<div class="r" style="top:98px;background:linear-gradient(90deg,#83cc58 0px,#a2ca4e 1px,#b9c845 2px,#c8c63e 3px,#d0c53a 4px,#cec53b 6px,#b7c846 8px,#8ccb55 10px,#71cc5e 11px,#3dc889 12.9px,#1cc0b1 14.9px,#02bac3 15.9px,#0ab4d2 16.9px,#1aacdd 17.9px,#2e87f7 21.9px,#3e70ff 24.9px,#475bfa 29.9px,#4757f8 38.8px,#4661fc 67.7px,#4850f2 113.5px)"></div>
<div class="r" style="top:100px;background:linear-gradient(90deg,#86cc57 0px,#a2ca4f 1px,#b6c846 2px,#c3c740 3px,#cac63d 5px,#bbc744 7px,#98cb52 9px,#80cc59 10px,#65cc67 11px,#38c790 12.9px,#2bc3a3 13.9px,#01b9c6 15.9px,#1baade 17.9px,#2e87f7 21.9px,#3e6fff 24.9px,#4759f8 29.9px,#4855f6 39.8px,#475cfa 68.7px,#484bef 113.5px)"></div>
<div class="r" style="top:102px;background:linear-gradient(90deg,#71cc5e 0px,#8bcb56 1px,#9fca50 2px,#acc94b 3px,#b3c848 5px,#a3ca4e 7px,#81cc59 9px,#6acc63 10px,#3ec888 11.9px,#21c1ad 13.9px,#08bcbe 14.9px,#04b6cd 15.9px,#15afd9 16.9px,#2995ec 19.9px,#337bfd 22.9px,#4464fd 25.9px,#484ef1 29.9px,#4757f7 65.7px,#4755f6 72.7px,#4746ea 113.5px)"></div>
<div class="r" style="top:104px;background:linear-gradient(90deg,#4cca7b 0px,#71cc5d 2px,#7ecc59 3px,#86cc57 5px,#78cc5b 7px,#5acb70 9px,#39c78f 11px,#1fc0af 12.9px,#08bcbe 13.9px,#03b7cc 14.9px,#14b0d8 15.9px,#249fe5 17.9px,#327cfc 21.9px,#4464fd 24.9px,#4849ed 27.9px,#463cde 29.9px,#484bef 34.8px,#4851f4 64.7px,#4742e6 69.7px,#4850f3 74.7px,#4741e5 113.5px)"></div>
<div class="r" style="top:106px;background:linear-gradient(90deg,#30c49c 0px,#4bca7c 3px,#51cb77 5px,#47ca7f 7px,#24c1ab 11px,#02bac4 12.9px,#08b5d0 13.9px,#17aeda 14.9px,#2d8df2 18.9px,#327cfc 20.9px,#4465fd 23.9px,#484ff1 26.9px,#463de0 28.9px,#463ada 29.9px,#4747eb 34.8px,#484cef 64.7px,#473fe2 67.7px,#4537d5 69.7px,#4849ec 73.7px,#4743e7 99.6px,#463de0 113.5px)"></div>
<div class="r" style="top:108px;background:linear-gradient(90deg,#0fbdb9 0px,#1fc0af 1px,#2dc3a1 3px,#2ec49f 6px,#26c1a9 8px,#02bac4 11px,#05b6ce 11.9px,#1baade 13.9px,#337afd 19.9px,#4564fd 22.9px,#4742e6 29.9px,#4746ea 65.7px,#463bdd 69.7px,#4745ea 74.7px,#4639d9 113.5px)"></div>
<div class="r" style="top:110px;background:linear-gradient(90deg,#07b5d0 0px,#01b8c9 1px,#0abcbd 4px,#05bbc1 7px,#02b7cb 9px,#20a5e2 12.9px,#3578fd 18.9px,#4563fc 21.9px,#4849ed 27.9px,#4740e3 35.8px,#4741e4 67.7px,#4539d9 103.5px,#4536d3 113.5px)"></div>
<div class="r" style="top:112px;background:linear-gradient(90deg,#1da9e0 0px,#0fb2d4 5px,#1ea7e1 10px,#317dfc 16.9px,#4367fd 19.9px,#484bef 25.9px,#463ee1 33.9px,#463bdc 83.6px,#4433cd 113.5px)"></div>
<div class="r" style="top:114px;background:linear-gradient(90deg,#259be8 0px,#21a3e3 5px,#2698ea 10px,#3578fd 15.9px,#4465fd 18.9px,#4848ec 25.9px,#463bdd 34.8px,#4537d5 85.6px,#4331c7 113.5px)"></div>
<div class="r" style="top:116px;background:linear-gradient(90deg,#2c8ef1 0px,#2b91ef 4px,#2e86f7 10px,#406cfe 15.9px,#4853f4 20.9px,#463de0 30.9px,#4639d9 48.8px,#4433cb 95.6px,#422fc2 113.5px)"></div>
<div class="r" style="top:118px;background:linear-gradient(90deg,#2f82f9 0px,#2e83f9 2px,#3975fe 4px,#4367fd 6px,#3f6eff 9px,#475cfa 11.9px,#4661fc 15.9px,#4746ea 19.9px,#4746ea 25.9px,#463adb 38.8px,#422fc0 109.5px,#422ebe 113.5px)"></div>
<div class="r" style="top:120px;background:linear-gradient(90deg,#337afd 0px,#3777fe 2px,#4661fc 4px,#4853f5 5px,#484df1 6px,#465dfa 9px,#4747eb 11.9px,#4759f8 14.9px,#475af9 15.9px,#484aed 17.9px,#463bdd 19.9px,#4849ed 23.9px,#463bde 42.8px,#412dbc 113.5px)"></div>
<div class="r" style="top:122px;background:linear-gradient(90deg,#3776fe 0px,#3e70ff 3px,#475cfa 6px,#4563fd 9px,#4755f6 11.9px,#465dfb 15.9px,#4747eb 19.9px,#484ef1 24.9px,#473ee1 45.8px,#412dbb 113.5px)"></div>
<div class="r" style="top:124px;background:linear-gradient(90deg,#3777fe 0px,#416bfe 11px,#465ffb 17.9px,#484df0 32.9px,#4433cd 81.6px,#412dbc 113.5px)"></div>
<div class="r" style="top:126px;background:linear-gradient(90deg,#337afd 0px,#3975fe 11px,#465ffb 24.9px,#463adb 70.7px,#412dbd 113.5px)"></div>
<div class="r" style="top:128px;background:linear-gradient(90deg,#3080fb 0px,#327bfc 11.9px,#4564fd 28.9px,#4740e3 67.7px,#422fc2 110.5px,#422fc0 113.5px)"></div>
<div class="r" style="top:130px;background:linear-gradient(90deg,#2e85f8 0px,#2f80fa 13.9px,#4465fd 35.8px,#4741e5 71.7px,#4330c5 110.5px,#4230c3 113.5px)"></div>
<div class="r" style="top:132px;background:linear-gradient(90deg,#2d89f6 0px,#2e84f8 15.9px,#3b72ff 31.9px,#4758f8 52.8px,#463ada 87.6px,#4331c7 113.5px)"></div>
<div class="r" style="top:134px;background:linear-gradient(90deg,#2d8af5 0px,#2e87f7 16.9px,#3876fe 32.9px,#465efb 50.8px,#463cdf 85.6px,#4332c9 113.5px)"></div>
<div class="r" style="top:136px;background:linear-gradient(90deg,#2d88f6 0px,#2e85f8 18.9px,#3875fe 33.9px,#465efb 51.8px,#463ddf 86.6px,#4332ca 113.5px)"></div>
<div class="r" style="top:138px;background:linear-gradient(90deg,#2f82fa 0px,#307ffb 19.9px,#4563fc 45.8px,#463ee1 83.6px,#4332ca 113.5px)"></div>
<div class="r" style="top:140px;background:linear-gradient(90deg,#3678fd 0px,#3876fe 19.9px,#475af9 48.8px,#463adb 86.6px,#4331c8 113.5px)"></div>
<div class="r" style="top:142px;background:linear-gradient(90deg,#416bfe 0px,#4368fe 21.9px,#484df0 54.8px,#4535d2 91.6px,#4230c4 113.5px)"></div>
<div class="r" style="top:144px;background:linear-gradient(90deg,#475dfa 0px,#4759f8 25.9px,#463ddf 66.7px,#422fc0 112.5px,#422ec0 113.5px)"></div>
</div>
<div class="p" style="left:375.8px;top:457.7px;width:6.3px;height:145.3px;background:linear-gradient(0deg,#3e26a8 0%,#4536d5 6.2%,#484cef 12.5%,#4562fc 18.8%,#347afd 25%,#2c90f0 31.2%,#21a3e3 37.5%,#0cb3d3 43.8%,#12beb7 50%,#34c696 56.2%,#5ccb6f 62.5%,#94cb53 68.8%,#c8c63e 75%,#f1c726 81.2%,#fad525 87.5%,#f5e924 93.8%,#f9fb0e 100%)"></div>
<div class="p" style="left:420.8px;top:457.7px;width:113.5px;height:145.3px;background:#3e26a8">
<div class="r" style="top:0px;background:#3e27aa"></div>
<div class="r" style="top:2px;background:#3e27aa"></div>
<div class="r" style="top:4px;background:#3e27aa"></div>
<div class="r" style="top:6px;background:#3e27aa"></div>
<div class="r" style="top:8px;background:#3e27aa"></div>
<div class="r" style="top:10px;background:#3e27aa"></div>
<div class="r" style="top:12px;background:#3e27aa"></div>
<div class="r" style="top:14px;background:#3e27aa"></div>
<div class="r" style="top:16px;background:#3e27aa"></div>
<div class="r" style="top:18px;background:linear-gradient(90deg,#3e27aa 0px,#3e27ab 17.9px,#3e27aa 113.5px)"></div>
<div class="r" style="top:20px;background:linear-gradient(90deg,#3e27aa 0px,#3e28ac 15.9px,#3e27aa 113.5px)"></div>
<div class="r" style="top:22px;background:linear-gradient(90deg,#3e27aa 0px,#3f28ae 14.9px,#3e27ab 43.8px,#3e27aa 113.5px)"></div>
<div class="r" style="top:24px;background:linear-gradient(90deg,#3e27aa 0px,#3f29b0 13.9px,#3e27aa 26.9px,#3e27aa 113.5px)"></div>
<div class="r" style="top:26px;background:linear-gradient(90deg,#3e27aa 0px,#3f29b2 13.9px,#3e27aa 23.9px,#3e27aa 113.5px)"></div>
<div class="r" style="top:28px;background:linear-gradient(90deg,#3e27aa 0px,#3f29b0 8px,#402bb6 12.9px,#3e27aa 21.9px,#3e27aa 113.5px)"></div>
<div class="r" style="top:30px;background:linear-gradient(90deg,#3e27aa 0px,#3f29b2 8px,#412cb9 12.9px,#3e27ab 20.9px,#3e27aa 113.5px)"></div>
<div class="r" style="top:32px;background:linear-gradient(90deg,#3e27aa 0px,#3f29b1 7px,#412dbd 11.9px,#3e27ab 20.9px,#3e27aa 113.5px)"></div>
<div class="r" style="top:34px;background:linear-gradient(90deg,#3e27ab 0px,#3f29b0 6px,#422fc2 11.9px,#3e27ac 19.9px,#3e27ac 68.7px,#3e27aa 113.5px)"></div>
<div class="r" style="top:36px;background:linear-gradient(90deg,#3e27ab 0px,#3f29b2 6px,#4331c7 11px,#4230c4 13.9px,#3f28ae 18.9px,#3f28ad 33.9px,#3f28ad 63.7px,#3e27aa 113.5px)"></div>
<div class="r" style="top:38px;background:linear-gradient(90deg,#3e28ac 0px,#402ab4 6px,#4434ce 11px,#4332ca 13.9px,#3f28af 18.9px,#3e27ac 27.9px,#3f29b0 57.7px,#3e27aa 104.5px,#3e27aa 113.5px)"></div>
<div class="r" style="top:40px;background:linear-gradient(90deg,#3f28ae 0px,#402ab3 5px,#4433cb 9px,#4538d8 11.9px,#4332ca 14.9px,#3f29b0 18.9px,#3e27ac 25.9px,#402ab3 55.8px,#3e27aa 93.6px,#3e27aa 113.5px)"></div>
<div class="r" style="top:42px;background:linear-gradient(90deg,#3f29b0 0px,#402bb6 5px,#4332ca 8px,#463cdf 11px,#463cdf 12.9px,#3f29b2 18.9px,#3e27ac 23.9px,#402bb6 53.8px,#3e27aa 88.6px,#3e27aa 113.5px)"></div>
<div class="r" style="top:44px;background:linear-gradient(90deg,#4029b2 0px,#412cba 5px,#4435d2 8px,#4743e7 11px,#4743e7 12.9px,#4639d9 14.9px,#412cba 17.9px,#3f28ae 20.9px,#402bb8 42.8px,#402bb6 59.7px,#3e27aa 86.6px,#3e27aa 113.5px)"></div>
<div class="r" style="top:46px;background:linear-gradient(90deg,#402bb6 0px,#422ebf 5px,#4740e4 9px,#484df0 11.9px,#4746ea 13.9px,#412ebe 17.9px,#3f28ae 20.9px,#402ab4 34.8px,#412dbc 52.8px,#3e27ab 83.6px,#3e27aa 113.5px)"></div>
<div class="r" style="top:48px;background:linear-gradient(90deg,#412dbb 0px,#4331c6 5px,#473fe3 8px,#4755f6 11px,#4854f6 12.9px,#4745e9 14.9px,#422fc2 17.9px,#402ab3 19.9px,#3f28ae 24.9px,#422fc1 50.8px,#3e27ab 82.6px,#3e27aa 113.5px)"></div>
<div class="r" style="top:50px;background:linear-gradient(90deg,#422fc1 0px,#4434ce 5px,#4747eb 8px,#4561fc 11px,#4660fb 12.9px,#484df0 14.9px,#4331c7 17.9px,#402ab5 19.9px,#3f28ae 23.9px,#4331c6 49.8px,#3e27ab 81.6px,#3e27aa 113.5px)"></div>
<div class="r" style="top:52px;background:linear-gradient(90deg,#4332ca 0px,#4538d8 5px,#4745e9 7px,#475cfa 9px,#3e6fff 11px,#3b72ff 11.9px,#4563fd 13.9px,#4848ec 15.9px,#4433cd 17.9px,#402bb7 19.9px,#3f28af 22.9px,#4332cb 49.8px,#412dbb 64.7px,#3e27ab 82.6px,#3e27aa 113.5px)"></div>
<div class="r" style="top:54px;background:linear-gradient(90deg,#4536d3 0px,#473ee1 5px,#484ef1 7px,#4369fe 9px,#2f81fa 11px,#2e83f9 11.9px,#307efb 12.9px,#3c72ff 13.9px,#4561fc 14.9px,#4741e5 16.9px,#4230c3 18.9px,#402ab3 20.9px,#3f29b1 25.9px,#4434cf 47.8px,#4332c8 58.7px,#3f28ae 77.7px,#3e27aa 113.5px)"></div>
<div class="r" style="top:56px;background:linear-gradient(90deg,#463bdd 0px,#4746ea 5px,#4758f8 7px,#4367fd 8px,#3579fd 9px,#2a93ee 11px,#2895ec 11.9px,#2c90f0 12.9px,#2f83f9 13.9px,#3f6eff 14.9px,#475af9 15.9px,#4639da 17.9px,#412dbc 19.9px,#3f29b1 22.9px,#4330c5 36.8px,#4537d5 48.8px,#4433cb 59.7px,#3f29af 76.7px,#3e27aa 109.5px,#3e27aa 113.5px)"></div>
<div class="r" style="top:58px;background:linear-gradient(90deg,#4742e6 0px,#484ff2 5px,#4564fd 7px,#3876fe 8px,#269ae8 10px,#20a5e2 11px,#1ea7e1 11.9px,#22a2e4 12.9px,#2a93ed 13.9px,#317efb 14.9px,#4464fd 15.9px,#463ee1 17.9px,#422ebf 19.9px,#402ab3 21.9px,#402cb8 28.9px,#4539d9 45.8px,#4537d7 55.8px,#3f29b1 75.7px,#3e27aa 97.6px,#3e27aa 113.5px)"></div>
<div class="r" style="top:60px;background:linear-gradient(90deg,#484aee 0px,#4759f8 5px,#4562fc 6px,#3c72ff 7px,#2e86f7 8px,#19acdc 10px,#06b5ce 11px,#01b8ca 11.9px,#0db3d3 12.9px,#20a5e3 13.9px,#3c71ff 15.9px,#4757f7 16.9px,#4743e7 17.9px,#4536d3 18.9px,#422fc2 19.9px,#402ab4 21.9px,#402cb8 27.9px,#463bde 45.8px,#463adb 55.8px,#3f29b2 75.7px,#3e27aa 94.6px,#3e27aa 113.5px)"></div>
<div class="r" style="top:62px;background:linear-gradient(90deg,#4853f5 0px,#4368fe 5px,#3974fe 6px,#2e86f7 7px,#259be8 8px,#16afd9 9px,#06bbc0 10px,#25c1aa 11px,#2bc3a4 11.9px,#1bbfb2 12.9px,#05b6ce 13.9px,#23a1e4 14.9px,#2e84f8 15.9px,#4465fd 16.9px,#484df0 17.9px,#463cde 18.9px,#4432cb 19.9px,#412ebe 20.9px,#402ab5 22.9px,#422fc0 30.9px,#463de0 43.8px,#473fe2 53.8px,#4433cb 64.7px,#3f29b2 76.7px,#3e27aa 96.6px,#3e27aa 113.5px)"></div>
<div class="r" style="top:64px;background:linear-gradient(90deg,#465dfb 0px,#3a74fe 4px,#2d8df2 6px,#249fe5 7px,#0fb2d5 8px,#17bfb4 9px,#37c790 10px,#53cb76 11px,#5bcb6f 11.9px,#44c982 12.9px,#07b5d0 14.9px,#259be7 15.9px,#317dfc 16.9px,#465ffb 17.9px,#4849ed 18.9px,#463adb 19.9px,#4332c9 20.9px,#412cb9 22.9px,#412cb9 26.9px,#4740e3 43.8px,#4742e6 53.8px,#4435d1 63.7px,#402ab4 75.7px,#3e27aa 91.6px,#3e27aa 113.5px)"></div>
<div class="r" style="top:66px;background:linear-gradient(90deg,#4368fe 0px,#3080fb 3px,#2896ec 5px,#1fa5e2 6px,#06b5ce 7px,#24c1ab 8px,#49ca7e 9px,#82cc58 10px,#a7c94d 11px,#aec94a 11.9px,#93cb53 12.9px,#5acb70 13.9px,#28c2a7 14.9px,#11b1d6 15.9px,#2995ec 16.9px,#3975fe 17.9px,#4759f8 18.9px,#4745e9 19.9px,#4538d8 20.9px,#422ebf 22.9px,#412cba 25.9px,#4743e7 43.8px,#4745e9 53.8px,#4536d5 63.7px,#402ab5 75.7px,#3e27aa 90.6px,#3e27aa 113.5px)"></div>
<div class="r" style="top:68px;background:linear-gradient(90deg,#3975fe 0px,#307ffb 1px,#249ee6 4px,#1aacdd 5px,#01b9c6 6px,#2dc3a1 7px,#5ccb6f 8px,#a3ca4e 9px,#d7c536 10px,#f1c727 11px,#f4c825 11.9px,#e2c530 12.9px,#b0c949 13.9px,#5dcc6e 14.9px,#1fc0af 15.9px,#1aabde 16.9px,#2d8bf3 17.9px,#416afe 18.9px,#4852f4 19.9px,#4741e4 20.9px,#4331c8 22.9px,#412dbd 24.9px,#4230c4 29.9px,#4742e6 41.8px,#4849ed 51.8px,#463bdd 61.7px,#402bb8 74.7px,#3e27ab 87.6px,#3e27aa 113.5px)"></div>
<div class="r" style="top:70px;background:linear-gradient(90deg,#2f81fa 0px,#20a5e2 3px,#10b2d5 4px,#0abcbc 5px,#34c696 6px,#6ccc61 7px,#b9c845 8px,#f1c726 9px,#f9d626 10px,#f5e327 11px,#f5e526 11.9px,#f7da28 12.9px,#f7ca23 13.9px,#b6c846 14.9px,#4ecb7a 15.9px,#03bbc2 16.9px,#259ce7 17.9px,#3975fe 18.9px,#4756f7 19.9px,#4744e8 20.9px,#4434cf 22.9px,#422ec0 25.9px,#4332c9 30.9px,#4744e9 41.8px,#484cef 51.8px,#463de0 61.7px,#402bb6 75.7px,#3e27ab 89.6px,#3e27aa 113.5px)"></div>
<div class="r" style="top:72px;background:linear-gradient(90deg,#2d8df2 0px,#1da9e0 2px,#06b5cf 3px,#19bfb3 4px,#3bc88b 5px,#7bcc5a 6px,#c8c63e 7px,#fecb21 8px,#f5e526 9px,#f8f913 10px,#f9fb0e 11.9px,#f9fb0e 12.9px,#f5e924 13.9px,#fccb21 14.9px,#a8c94c 15.9px,#34c695 16.9px,#1aacdd 17.9px,#3080fb 18.9px,#4759f8 19.9px,#4745e9 20.9px,#4538d8 22.9px,#4331c5 25.9px,#4331c7 29.9px,#4740e4 38.8px,#484ef1 48.8px,#4744e9 58.7px,#412dbb 73.7px,#3e27ac 85.6px,#3e27aa 113.5px)"></div>
<div class="r" style="top:74px;background:linear-gradient(90deg,#2798ea 0px,#1da8e0 1px,#05b6ce 2px,#1ec0af 3px,#40c986 4px,#84cc58 5px,#d1c53a 6px,#fdcf22 7px,#f5ee21 8px,#f9fb0e 9px,#f9fb0e 13.9px,#f5f41d 14.9px,#fecc21 15.9px,#9fca50 16.9px,#2dc3a1 17.9px,#1da8e0 18.9px,#2f82f9 19.9px,#4464fd 20.9px,#4848ec 22.9px,#4434cf 25.9px,#4331c7 28.9px,#4433cc 34.8px,#4741e4 38.8px,#4850f2 47.8px,#484aed 56.8px,#4536d2 66.7px,#402bb6 76.7px,#3e27ab 90.6px,#3e27aa 113.5px)"></div>
<div class="r" style="top:76px;background:linear-gradient(90deg,#20a5e2 0px,#05b6ce 1px,#25c1aa 2px,#52cb76 3px,#a7c94d 4px,#f0c727 5px,#f5e228 6px,#f9fb0e 7px,#f9fb0e 14.9px,#f6f41d 15.9px,#fbca22 16.9px,#93cb53 17.9px,#2ec4a0 18.9px,#16afda 19.9px,#2c90f0 20.9px,#3b73fe 21.9px,#475bfa 22.9px,#473fe2 24.9px,#4434cf 26.9px,#4230c4 33.9px,#4434cd 35.8px,#4741e5 38.8px,#4850f3 46.8px,#484cf0 55.8px,#463adb 64.7px,#402bb8 75.7px,#3e27ab 88.6px,#3e27aa 113.5px)"></div>
<div class="r" style="top:78px;background:linear-gradient(90deg,#1aabdd 0px,#02bac3 1px,#37c791 2px,#93cb53 3px,#f3c826 4px,#f5eb23 5px,#f9fb0e 6px,#f9fb0e 16.9px,#fece21 17.9px,#a1ca4f 18.9px,#33c597 19.9px,#10b2d5 20.9px,#2a92ee 21.9px,#3b73fe 22.9px,#475af9 23.9px,#463ee1 25.9px,#4434d0 27.9px,#4434ce 33.9px,#4745e9 39.8px,#4852f4 49.8px,#4745e9 59.7px,#412dbd 73.7px,#3f28ad 84.6px,#3e27aa 113.5px)"></div>
<div class="r" style="top:80px;background:linear-gradient(90deg,#0fb2d4 0px,#16bfb5 1px,#52cb77 2px,#cec63b 3px,#f5e327 4px,#f9fb0e 5px,#f9fb0e 17.9px,#fcd123 18.9px,#9eca50 19.9px,#2ec49f 20.9px,#19addc 21.9px,#2d8bf4 22.9px,#416bfe 23.9px,#4854f5 24.9px,#463bdd 26.9px,#4434d0 28.9px,#4536d3 32.9px,#484bef 42.8px,#4851f4 51.8px,#4741e4 61.7px,#402bb8 75.7px,#3e27ab 88.6px,#3e27aa 113.5px)"></div>
<div class="r" style="top:82px;background:linear-gradient(90deg,#2cc3a3 0px,#65cc67 1px,#cec53b 2px,#f6de29 3px,#f9fb0e 4px,#f9fb0e 17.9px,#f6f51b 18.9px,#e9c62b 19.9px,#5fcc6c 20.9px,#02bac3 21.9px,#259be8 22.9px,#3579fd 23.9px,#465dfa 24.9px,#484bee 25.9px,#4539d8 27.9px,#4435d0 29.9px,#463ee1 36.8px,#4850f2 46.8px,#484cf0 55.8px,#463adb 64.7px,#402bb8 75.7px,#3e27ab 88.6px,#3e27aa 113.5px)"></div>
<div class="r" style="top:84px;background:linear-gradient(90deg,#7acc5b 0px,#dec532 1px,#f6e029 2px,#f9fb0e 3px,#f9fb0e 17.9px,#f6f41d 18.9px,#eac62b 19.9px,#63cc69 20.9px,#06bbc0 21.9px,#249de6 22.9px,#327cfc 23.9px,#4660fb 24.9px,#484df0 25.9px,#463ada 27.9px,#4435d1 29.9px,#4639da 34.8px,#4744e8 40.8px,#484aed 45.8px,#484ff2 51.8px,#4742e6 60.7px,#412cba 74.7px,#3e27ac 86.6px,#3e27aa 113.5px)"></div>
<div class="r" style="top:86px;background:linear-gradient(90deg,#b0c949 0px,#fecb21 1px,#f5f11f 2px,#f9fb0e 3px,#f9fb0e 16.9px,#f7f819 17.9px,#fecb21 18.9px,#9acb51 19.9px,#31c59b 20.9px,#13b1d7 21.9px,#2b92ee 22.9px,#3a73fe 23.9px,#475bf9 24.9px,#4740e4 26.9px,#4536d5 28.9px,#4435d2 31.9px,#4741e4 39.8px,#4639da 43.8px,#4747ec 47.8px,#484aed 55.8px,#4537d5 65.7px,#402bb7 75.7px,#3e27ab 88.6px,#3e27aa 113.5px)"></div>
<div class="r" style="top:88px;background:linear-gradient(90deg,#b1c848 0px,#f8ca22 1px,#f5e526 2px,#f9fb0e 3px,#f9fb0e 14.9px,#f5ec23 15.9px,#fece21 16.9px,#c7c63f 17.9px,#67cc65 18.9px,#27c2a8 19.9px,#13b1d7 20.9px,#2796eb 21.9px,#327cfc 22.9px,#4564fd 23.9px,#4746ea 25.9px,#4639d9 27.9px,#4435d1 30.9px,#473fe3 39.8px,#4538d8 43.8px,#4740e4 46.8px,#463adc 49.8px,#4848ec 53.8px,#473fe2 60.7px,#402bb6 75.7px,#3e27ab 89.6px,#3e27aa 113.5px)"></div>
<div class="r" style="top:90px;background:linear-gradient(90deg,#77cc5b 0px,#bdc743 1px,#efc727 2px,#fad425 3px,#f5e626 4px,#f5f41d 5px,#f9fa0f 6px,#f9fb0e 9px,#f5ec23 11px,#f6de29 11.9px,#fecf22 12.9px,#eac62b 13.9px,#bfc742 14.9px,#84cc58 15.9px,#47ca80 16.9px,#23c1ac 17.9px,#07b5cf 18.9px,#22a2e4 19.9px,#3677fe 21.9px,#4564fd 22.9px,#4849ed 24.9px,#4538d7 27.9px,#4435d0 30.9px,#473fe3 41.8px,#4741e5 46.8px,#4639da 49.8px,#4745ea 53.8px,#463bdd 61.7px,#402bb8 74.7px,#3e27ab 87.6px,#3e27aa 113.5px)"></div>
<div class="r" style="top:92px;background:linear-gradient(90deg,#3ac78d 0px,#5dcc6d 1px,#86cc57 2px,#abc94b 3px,#c7c63e 4px,#d7c536 5px,#ddc533 6px,#d1c539 8px,#b3c848 10px,#98cb52 11px,#73cc5d 11.9px,#4dca7b 12.9px,#1bbfb1 14.9px,#01b8c8 15.9px,#17aedb 16.9px,#2c90f0 18.9px,#3080fb 19.9px,#3f6eff 20.9px,#4854f6 22.9px,#463de0 25.9px,#4435d0 29.9px,#4538d7 35.8px,#4743e7 45.8px,#4744e8 52.8px,#463bdd 60.7px,#402bb7 74.7px,#3e27ab 88.6px,#3e27aa 113.5px)"></div>
<div class="r" style="top:94px;background:linear-gradient(90deg,#1fc0af 0px,#2fc49d 2px,#3ac78d 3px,#4bca7c 4px,#55cb74 5px,#4dca7b 6px,#3cc88a 7px,#32c598 8px,#29c2a6 10px,#1abfb2 11px,#01b9c5 11.9px,#13b1d7 12.9px,#1fa6e1 13.9px,#2e84f9 17.9px,#416bfe 19.9px,#484ef1 22.9px,#4639da 26.9px,#4434d0 31.9px,#463bdd 42.8px,#4743e7 50.8px,#463bdc 59.7px,#402bb6 74.7px,#3e27ab 89.6px,#3e27aa 113.5px)"></div>
<div class="r" style="top:96px;background:linear-gradient(90deg,#09bcbd 0px,#05bbc0 2px,#28c2a7 4px,#2cc3a2 5px,#21c0ae 6px,#05bbc0 7px,#04b6cd 8px,#0bb4d2 10px,#1fa6e2 11.9px,#2d8df2 13.9px,#307efb 16.9px,#4563fd 19.9px,#4741e5 24.9px,#4435d1 29.9px,#4535d2 35.8px,#4537d6 40.8px,#4433cc 43.8px,#463ee1 47.8px,#463ee1 54.8px,#4230c3 67.7px,#3f28af 79.6px,#3e27aa 113.5px)"></div>
<div class="r" style="top:98px;background:linear-gradient(90deg,#1cc0b1 0px,#20c0ae 2px,#2ec49f 4px,#2ec49f 5px,#26c2a9 6px,#10bdb9 7px,#01b9c5 8px,#0bb3d2 10px,#1fa5e2 11.9px,#2d88f6 14.9px,#337bfd 16.9px,#4269fe 18.9px,#4745e9 23.9px,#4535d2 28.9px,#4433cd 33.9px,#4435d2 40.8px,#4332c9 43.8px,#463cdf 48.8px,#4538d8 57.7px,#3f29b2 75.7px,#3e27aa 94.6px,#3e27aa 113.5px)"></div>
<div class="r" style="top:100px;background:linear-gradient(90deg,#22c1ad 0px,#30c59b 3px,#2fc49e 5px,#29c2a6 6px,#0abcbd 8px,#01b9c7 9px,#0ab4d1 10px,#18aedb 11px,#2d89f5 14.9px,#3776fe 16.9px,#4563fd 18.9px,#4742e6 23.9px,#4434cf 28.9px,#4332c9 34.8px,#4537d5 45.8px,#4639da 51.8px,#4332c9 62.7px,#3f29b0 76.7px,#3e27aa 103.5px,#3e27aa 113.5px)"></div>
<div class="r" style="top:102px;background:linear-gradient(90deg,#07bcbe 0px,#1bbfb2 2px,#1dc0b0 4px,#0cbdbb 6px,#02bac3 7px,#03b7cc 8px,#1aacdd 10px,#2f80fa 14.9px,#4563fd 17.9px,#4742e6 22.9px,#4433cd 27.9px,#422fc1 33.9px,#4537d5 48.8px,#4433cb 59.7px,#3f29af 76.7px,#3e27aa 109.5px,#3e27aa 113.5px)"></div>
<div class="r" style="top:104px;background:linear-gradient(90deg,#0eb2d4 0px,#03b7cc 2px,#06b5ce 5px,#20a5e2 9px,#317dfc 13.9px,#426afe 15.9px,#4746eb 20.9px,#4434cf 25.9px,#402bb8 33.9px,#4332ca 41.8px,#4434cf 52.8px,#3f28ad 78.7px,#3e27aa 113.5px)"></div>
<div class="r" style="top:106px;background:linear-gradient(90deg,#1fa6e2 0px,#1babde 4px,#259de7 8px,#3579fd 12.9px,#4367fd 14.9px,#4741e4 20.9px,#4331c6 26.9px,#402bb6 33.9px,#4331c7 42.8px,#4332ca 53.8px,#3f28ad 78.7px,#3e27aa 113.5px)"></div>
<div class="r" style="top:108px;background:linear-gradient(90deg,#269ae9 0px,#249de6 4px,#2d8af4 9px,#317dfc 11px,#4466fd 13.9px,#4741e5 19.9px,#4331c6 25.9px,#412cb9 33.9px,#4331c7 49.8px,#3e27ac 81.6px,#3e27aa 113.5px)"></div>
<div class="r" style="top:110px;background:linear-gradient(90deg,#2c8ef2 0px,#2b91ef 4px,#307ffb 9px,#4464fd 12.9px,#4742e7 18.9px,#4331c8 24.9px,#412dbb 30.9px,#422fc2 53.8px,#3e27ac 81.6px,#3e27aa 113.5px)"></div>
<div class="r" style="top:112px;background:linear-gradient(90deg,#2f82fa 0px,#2f82f9 5px,#3a73fe 9px,#465dfb 12.9px,#4639da 20.9px,#422fc2 26.9px,#412dbc 35.8px,#422ebe 54.8px,#3e27ac 82.6px,#3e27aa 113.5px)"></div>
<div class="r" style="top:114px;background:linear-gradient(90deg,#3777fe 0px,#3876fe 5px,#4757f8 12.9px,#4537d6 21.9px,#422fc1 28.9px,#422ebf 42.8px,#412cb9 60.7px,#3e27ab 86.6px,#3e27aa 113.5px)"></div>
<div class="r" style="top:116px;background:linear-gradient(90deg,#406cfe 0px,#4562fc 8px,#4746ea 15.9px,#4332c9 26.9px,#422fc0 37.8px,#412cba 59.7px,#3e27ac 87.6px,#3e27aa 113.5px)"></div>
<div class="r" style="top:118px;background:linear-gradient(90deg,#4465fd 0px,#475af9 5px,#4758f8 8px,#4745e9 14.9px,#4332ca 30.9px,#3e28ac 89.6px,#3e27aa 113.5px)"></div>
<div class="r" style="top:120px;background:linear-gradient(90deg,#4562fc 0px,#4757f8 5px,#4756f6 8px,#484ef1 11.9px,#4742e7 17.9px,#4434ce 36.8px,#3f28ae 87.6px,#3e27ab 113.5px)"></div>
<div class="r" style="top:122px;background:linear-gradient(90deg,#4563fc 0px,#4853f5 12.9px,#463cde 30.9px,#3f29b2 82.6px,#3e27ab 113.5px)"></div>
<div class="r" style="top:124px;background:linear-gradient(90deg,#4466fd 0px,#475cfa 11.9px,#4741e4 33.9px,#402ab5 82.6px,#3e27ab 113.5px)"></div>
<div class="r" style="top:126px;background:linear-gradient(90deg,#416bfe 0px,#4562fc 12.9px,#4740e4 43.8px,#402bb7 82.6px,#3e27ac 113.5px)"></div>
<div class="r" style="top:128px;background:linear-gradient(90deg,#3d70ff 0px,#4367fd 14.9px,#4743e7 47.8px,#412dbd 79.6px,#3e28ac 111.5px,#3e28ac 113.5px)"></div>
<div class="r" style="top:130px;background:linear-gradient(90deg,#3876fe 0px,#406dfe 15.9px,#484df1 42.8px,#4332c8 72.7px,#3f29b2 97.6px,#3e28ac 113.5px)"></div>
<div class="r" style="top:132px;background:linear-gradient(90deg,#347afd 0px,#3b73fe 15.9px,#4757f7 38.8px,#4639d9 63.7px,#412cb9 87.6px,#3f28ad 113.5px)"></div>
<div class="r" style="top:134px;background:linear-gradient(90deg,#337bfc 0px,#3974fe 16.9px,#4759f9 38.8px,#463adb 63.7px,#412cb9 88.6px,#3f28ad 113.5px)"></div>
<div class="r" style="top:136px;background:linear-gradient(90deg,#3579fd 0px,#3b72fe 17.9px,#4755f6 41.8px,#4537d5 67.7px,#402bb8 90.6px,#3f28ad 113.5px)"></div>
<div class="r" style="top:138px;background:linear-gradient(90deg,#3b73fe 0px,#406dfe 18.9px,#4850f3 43.8px,#4433cc 71.7px,#402ab4 94.6px,#3f28ad 113.5px)"></div>
<div class="r" style="top:140px;background:linear-gradient(90deg,#426afe 0px,#4563fd 20.9px,#4848ec 46.8px,#4330c5 74.7px,#3f29b0 101.6px,#3e28ac 113.5px)"></div>
<div class="r" style="top:142px;background:linear-gradient(90deg,#465ffb 0px,#4758f8 23.9px,#463ee1 51.8px,#412cb9 83.6px,#3e28ac 113.5px)"></div>
<div class="r" style="top:144px;background:linear-gradient(90deg,#4854f5 0px,#484cf0 26.9px,#4537d5 54.8px,#402bb6 83.6px,#3e27ac 113.5px)"></div>
</div>
<div class="p" style="left:536.8px;top:457.7px;width:6.3px;height:145.3px;background:linear-gradient(0deg,#3e26a8 0%,#4536d5 6.2%,#484cef 12.5%,#4562fc 18.8%,#347afd 25%,#2c90f0 31.2%,#21a3e3 37.5%,#0cb3d3 43.8%,#12beb7 50%,#34c696 56.2%,#5ccb6f 62.5%,#94cb53 68.8%,#c8c63e 75%,#f1c726 81.2%,#fad525 87.5%,#f5e924 93.8%,#f9fb0e 100%)"></div>
<div class="p" style="left:582.8px;top:457.7px;width:113.5px;height:145.3px;background:#3e26a8">
<div class="r" style="top:0px;background:#3e27aa"></div>
<div class="r" style="top:2px;background:#3e27aa"></div>
<div class="r" style="top:4px;background:#3e27aa"></div>
<div class="r" style="top:6px;background:linear-gradient(90deg,#3e27aa 0px,#3f28ae 113.5px)"></div>
<div class="r" style="top:8px;background:linear-gradient(90deg,#3e27aa 0px,#3f29b0 59.7px,#3f29b0 71.7px,#3f29b0 80.6px,#3f29b0 85.6px,#3f29b0 90.6px,#3f29b1 95.6px,#3f29b0 101.6px,#3f29b2 106.5px,#3f29b2 110.5px,#3f29b1 113.5px)"></div>
<div class="r" style="top:10px;background:linear-gradient(90deg,#3e27ab 0px,#3f29b0 23.9px,#3f29af 37.8px,#3f29b0 40.8px,#3f29b1 45.8px,#3f29b2 50.8px,#402ab3 53.8px,#3f29b2 58.7px,#402ab5 61.7px,#3f29b2 64.7px,#402bb7 67.7px,#3f29b2 70.7px,#402bb8 73.7px,#402ab3 76.7px,#402bb7 79.6px,#3f29b2 81.6px,#402bb8 84.6px,#3f29b2 86.6px,#402bb8 89.6px,#3f29b2 91.6px,#412cb8 94.6px,#402ab4 97.6px,#402bb7 100.6px,#402ab4 103.5px,#402bb7 106.5px,#402ab4 109.5px,#402bb8 112.5px,#402ab5 113.5px)"></div>
<div class="r" style="top:12px;background:linear-gradient(90deg,#3e27ab 0px,#3f29b2 14.9px,#402ab3 20.9px,#402ab3 23.9px,#402ab3 26.9px,#402ab4 29.9px,#402ab4 32.9px,#402ab3 35.8px,#402ab4 40.8px,#402ab3 42.8px,#402bb8 44.8px,#402ab4 47.8px,#412cba 49.8px,#402ab4 52.8px,#412cba 55.8px,#402ab4 57.7px,#412dbd 60.7px,#402bb7 64.7px,#412ebe 67.7px,#402bb7 70.7px,#422ebf 73.7px,#402bb7 75.7px,#422fc0 78.7px,#402bb7 81.6px,#422fc0 83.6px,#402bb7 86.6px,#422fc0 88.6px,#402bb7 91.6px,#422fc1 94.6px,#402bb7 96.6px,#422fc1 99.6px,#402bb7 102.5px,#422fc1 105.5px,#402bb7 108.5px,#422fc1 111.5px,#412dbb 113.5px)"></div>
<div class="r" style="top:14px;background:linear-gradient(90deg,#3e27ac 0px,#3f29b1 9px,#402ab3 11.9px,#402bb6 14.9px,#402ab5 17.9px,#402bb7 20.9px,#402bb7 23.9px,#402ab4 25.9px,#412dbb 28.9px,#402ab4 31.9px,#412dbb 34.8px,#402ab5 36.8px,#412dbd 39.8px,#402ab6 41.8px,#422ebf 44.8px,#402bb7 46.8px,#422fc1 49.8px,#412cb8 51.8px,#422ebf 53.8px,#4230c3 54.8px,#412cb9 57.7px,#4331c6 60.7px,#412cbb 63.7px,#4331c8 66.7px,#422fc2 68.7px,#412dbd 70.7px,#4332c9 72.7px,#4332ca 73.7px,#412dbd 75.7px,#412ebe 76.7px,#4433cb 78.7px,#412dbd 81.6px,#4433cb 83.6px,#4332ca 84.6px,#412dbd 86.6px,#4433cb 88.6px,#4332cb 89.6px,#412dbd 91.6px,#4433cb 93.6px,#4433cc 94.6px,#412ebe 96.6px,#4433cd 99.6px,#412ebd 102.5px,#4433cd 105.5px,#412ebd 108.5px,#4433cd 111.5px,#4230c4 113.5px)"></div>
<div class="r" style="top:16px;background:linear-gradient(90deg,#3f28ad 0px,#402ab4 9px,#412cb9 11px,#402bb6 13.9px,#422ebe 15.9px,#402bb8 19.9px,#422fc0 22.9px,#402bb8 25.9px,#422fc2 28.9px,#412cb8 31.9px,#4230c3 33.9px,#412cb9 36.8px,#4330c5 39.8px,#412cba 41.8px,#4331c7 44.8px,#412dbb 46.8px,#4332ca 49.8px,#412ebe 51.8px,#422ebf 52.8px,#4434cd 54.8px,#422ebf 57.7px,#4435d1 60.7px,#422fc1 63.7px,#4433cd 65.7px,#4536d4 66.7px,#4536d3 67.7px,#4230c4 69.7px,#4230c4 70.7px,#4537d5 72.7px,#4537d5 73.7px,#4330c5 75.7px,#4331c6 76.7px,#4538d7 78.7px,#4536d4 79.6px,#4332c9 80.6px,#4330c5 81.6px,#4538d7 83.6px,#4537d6 84.6px,#4330c5 86.6px,#4538d7 88.6px,#4538d7 89.6px,#4330c5 91.6px,#4538d7 93.6px,#4538d8 94.6px,#4330c5 96.6px,#4332c9 97.6px,#4539d9 99.6px,#4330c5 102.5px,#4639d9 105.5px,#4330c5 108.5px,#4539d9 111.5px,#4538d7 112.5px,#4434ce 113.5px)"></div>
<div class="r" style="top:18px;background:linear-gradient(90deg,#3f28ae 0px,#3f29b1 4px,#402ab3 8px,#412ebe 11px,#402bb7 12.9px,#4330c5 15.9px,#412cba 18.9px,#4331c7 21.9px,#422fc2 23.9px,#412dbc 25.9px,#4331c8 27.9px,#4332c9 28.9px,#412ebd 30.9px,#412dbd 31.9px,#4332cb 33.9px,#4332ca 34.8px,#412dbd 36.8px,#4433cb 38.8px,#4433cd 39.8px,#422ebf 41.8px,#4230c3 42.8px,#4433cd 43.8px,#4435d0 44.8px,#422fc1 46.8px,#4330c5 47.8px,#4434d0 48.8px,#4536d4 49.8px,#4230c4 51.8px,#4330c5 52.8px,#4538d8 54.8px,#4537d5 55.8px,#4331c6 57.7px,#463adc 60.7px,#4539d9 61.7px,#4332c9 63.7px,#4433cc 64.7px,#463cdf 66.7px,#463cde 67.7px,#4433cc 69.7px,#4433cc 70.7px,#463de0 72.7px,#463de0 73.7px,#4433cd 75.7px,#4434cf 76.7px,#473fe2 78.7px,#463cdf 79.6px,#4536d2 80.6px,#4433cd 81.6px,#473fe2 83.6px,#463ee1 84.6px,#4433cd 86.6px,#473fe2 88.6px,#473ee1 89.6px,#4433cd 91.6px,#473fe2 93.6px,#473fe3 94.6px,#4434ce 96.6px,#4536d3 97.6px,#463cdf 98.6px,#4740e4 99.6px,#463ddf 100.6px,#4434ce 102.5px,#463de0 104.5px,#4740e4 105.5px,#463de0 106.5px,#4434ce 108.5px,#4536d3 109.5px,#4740e4 111.5px,#473fe2 112.5px,#4538d8 113.5px)"></div>
<div class="r" style="top:20px;background:linear-gradient(90deg,#3f28af 0px,#402ab3 4px,#402ab5 7px,#412cba 9px,#422fc2 11px,#412cbb 12.9px,#4433cb 15.9px,#4230c3 17.9px,#422ebe 18.9px,#4331c8 20.9px,#4434ce 21.9px,#4434ce 22.9px,#422fc1 24.9px,#422fc0 25.9px,#4434cf 27.9px,#4435d1 28.9px,#422fc2 30.9px,#422fc2 31.9px,#4535d2 33.9px,#4435d1 34.8px,#422fc2 36.8px,#4536d2 38.8px,#4537d5 39.8px,#4230c4 41.8px,#4332c9 42.8px,#4537d5 43.8px,#4538d8 44.8px,#4331c6 46.8px,#4433cb 47.8px,#4538d8 48.8px,#463bdc 49.8px,#4332ca 51.8px,#4433cc 52.8px,#463de0 54.8px,#463cde 55.8px,#4433cc 57.7px,#4741e4 60.7px,#473ee1 61.7px,#4434d0 63.7px,#4536d4 64.7px,#4743e7 66.7px,#4742e6 67.7px,#4536d4 69.7px,#4536d4 70.7px,#4744e8 72.7px,#4744e9 73.7px,#4537d5 75.7px,#4538d7 76.7px,#4746eb 78.7px,#4743e7 79.6px,#463adb 80.6px,#4537d5 81.6px,#4746ea 83.6px,#4745e9 84.6px,#4537d5 86.6px,#4746eb 88.6px,#4746ea 89.6px,#4537d5 91.6px,#4746ea 93.6px,#4747eb 94.6px,#4537d6 96.6px,#463adb 97.6px,#4743e7 98.6px,#4848ec 99.6px,#4743e7 100.6px,#4537d6 102.5px,#4744e8 104.5px,#4848ec 105.5px,#4744e8 106.5px,#4537d6 108.5px,#4848ec 111.5px,#4746ea 112.5px,#463ee1 113.5px)"></div>
<div class="r" style="top:22px;background:linear-gradient(90deg,#3f29af 0px,#3f29b0 3px,#412cb9 6px,#402bb7 8px,#4330c5 10px,#4331c6 11px,#412dbd 12.9px,#4332ca 14.9px,#4435d0 15.9px,#4434cf 16.9px,#422fc2 18.9px,#4230c4 19.9px,#4536d4 21.9px,#4536d4 22.9px,#4330c5 24.9px,#4230c4 25.9px,#4537d5 27.9px,#4537d6 28.9px,#4331c6 30.9px,#4331c5 31.9px,#4538d8 33.9px,#4538d7 34.8px,#4331c6 36.8px,#4538d8 38.8px,#463adb 39.8px,#4332c8 41.8px,#4434ce 42.8px,#463adb 43.8px,#463cdf 44.8px,#4433cb 46.8px,#4435d0 47.8px,#463cde 48.8px,#473fe2 49.8px,#4434d0 51.8px,#4435d1 52.8px,#4742e6 54.8px,#4740e4 55.8px,#4535d2 57.7px,#4746ea 60.7px,#4743e7 61.7px,#4537d6 63.7px,#4639da 64.7px,#4849ed 66.7px,#4848ec 67.7px,#4639d9 69.7px,#4639da 70.7px,#484aee 72.7px,#484bee 73.7px,#463adb 75.7px,#463bdd 76.7px,#484df0 78.7px,#4849ed 79.6px,#463ee1 80.6px,#463adb 81.6px,#484df0 83.6px,#484bef 84.6px,#4740e3 85.6px,#463adb 86.6px,#484df0 88.6px,#484cf0 89.6px,#463adb 91.6px,#484df0 93.6px,#484df1 94.6px,#463bdc 96.6px,#463ee1 97.6px,#4849ed 98.6px,#484ff2 99.6px,#4849ed 100.6px,#473fe2 101.6px,#463adc 102.5px,#484aee 104.5px,#484ff2 105.5px,#484aee 106.5px,#463adc 108.5px,#463ee1 109.5px,#484ff2 111.5px,#484df0 112.5px,#4743e7 113.5px)"></div>
<div class="r" style="top:24px;background:linear-gradient(90deg,#3f29b0 0px,#3f29b1 3px,#412cba 6px,#402bb8 8px,#4331c7 10px,#4332c9 11px,#422ebf 12.9px,#4230c3 13.9px,#4536d4 15.9px,#4536d2 16.9px,#4230c4 18.9px,#4331c6 19.9px,#4538d7 21.9px,#4538d7 22.9px,#4331c7 24.9px,#4331c7 25.9px,#4539d8 27.9px,#4639da 28.9px,#4332c9 30.9px,#4332c8 31.9px,#463adc 33.9px,#463adb 34.8px,#4332c9 36.8px,#463bdc 38.8px,#463cdf 39.8px,#4433cb 41.8px,#4435d1 42.8px,#463cdf 43.8px,#473fe2 44.8px,#4434ce 46.8px,#4536d4 47.8px,#473ee2 48.8px,#4742e6 49.8px,#4536d3 51.8px,#4537d5 52.8px,#4746ea 54.8px,#4743e7 55.8px,#4537d6 57.7px,#484aee 60.7px,#4747eb 61.7px,#4639d9 63.7px,#463cde 64.7px,#484df0 66.7px,#484cf0 67.7px,#463bdd 69.7px,#463cde 70.7px,#484ff2 72.7px,#484ff2 73.7px,#463cdf 75.7px,#463ee1 76.7px,#4852f4 78.7px,#484df0 79.6px,#4741e4 80.6px,#463cdf 81.6px,#4851f4 83.6px,#4850f2 84.6px,#4743e7 85.6px,#463cdf 86.6px,#4852f4 88.6px,#4851f3 89.6px,#463cdf 91.6px,#4851f3 93.6px,#4852f4 94.6px,#463de0 96.6px,#4741e5 97.6px,#484df1 98.6px,#4854f5 99.6px,#484ef1 100.6px,#4742e6 101.6px,#463ddf 102.5px,#484ff2 104.5px,#4854f5 105.5px,#484ef1 106.5px,#463de0 108.5px,#4741e5 109.5px,#4854f5 111.5px,#4851f3 112.5px,#4746ea 113.5px)"></div>
<div class="r" style="top:26px;background:linear-gradient(90deg,#3f29b0 0px,#3f29b1 3px,#412dbb 6px,#412cb9 8px,#4332c8 10px,#4332ca 11px,#422fc0 12.9px,#4230c4 13.9px,#4537d5 15.9px,#4536d4 16.9px,#4330c5 18.9px,#4331c8 19.9px,#4539d9 21.9px,#4539d9 22.9px,#4332c9 24.9px,#4331c8 25.9px,#4639da 27.9px,#463adc 28.9px,#4332ca 30.9px,#4332ca 31.9px,#463bdd 33.9px,#463bdc 34.8px,#4332ca 36.8px,#463bde 38.8px,#463de0 39.8px,#4433cd 41.8px,#4536d3 42.8px,#463de0 43.8px,#4740e3 44.8px,#4434d0 46.8px,#4537d6 47.8px,#4740e3 48.8px,#4743e7 49.8px,#4537d5 51.8px,#4537d6 52.8px,#4747eb 54.8px,#4745e9 55.8px,#4538d7 57.7px,#484cef 60.7px,#4848ec 61.7px,#463adb 63.7px,#463ddf 64.7px,#484ff1 66.7px,#484ef1 67.7px,#463cdf 69.7px,#463ddf 70.7px,#4850f3 72.7px,#4851f3 73.7px,#463de0 75.7px,#473fe2 76.7px,#4853f5 78.7px,#484ff2 79.6px,#4742e6 80.6px,#463de0 81.6px,#4853f5 83.6px,#4851f4 84.6px,#4744e8 85.6px,#463de0 86.6px,#4853f5 88.6px,#4852f4 89.6px,#463ee0 91.6px,#4853f5 93.6px,#4854f5 94.6px,#473ee1 96.6px,#4742e6 97.6px,#484ff2 98.6px,#4756f6 99.6px,#484ff2 100.6px,#4743e7 101.6px,#463ee1 102.5px,#4851f3 104.5px,#4756f6 105.5px,#4850f2 106.5px,#463ee1 108.5px,#4742e6 109.5px,#4756f6 111.5px,#4853f5 112.5px,#4848ec 113.5px)"></div>
<div class="r" style="top:28px;background:linear-gradient(90deg,#3f29b0 0px,#3f29b1 3px,#412dbb 6px,#412cb9 8px,#4331c8 10px,#4332ca 11px,#422ec0 12.9px,#4230c4 13.9px,#4537d5 15.9px,#4536d3 16.9px,#4330c5 18.9px,#4331c7 19.9px,#4538d8 21.9px,#4538d8 22.9px,#4332c9 24.9px,#4331c8 25.9px,#4639d9 27.9px,#463adb 28.9px,#4332ca 30.9px,#4332c9 31.9px,#463bdd 33.9px,#463adc 34.8px,#4332ca 36.8px,#463bdd 38.8px,#463ddf 39.8px,#4433cc 41.8px,#4535d2 42.8px,#463ddf 43.8px,#473fe3 44.8px,#4434cf 46.8px,#4537d5 47.8px,#473fe2 48.8px,#4743e7 49.8px,#4536d4 51.8px,#4537d6 52.8px,#4746eb 54.8px,#4744e8 55.8px,#4537d6 57.7px,#484bee 60.7px,#4848ec 61.7px,#4639da 63.7px,#463cdf 64.7px,#484ef1 66.7px,#484df0 67.7px,#463cde 69.7px,#463cdf 70.7px,#484ff2 72.7px,#484ff2 73.7px,#463de0 75.7px,#473ee2 76.7px,#4852f4 78.7px,#484ef1 79.6px,#4741e5 80.6px,#463ddf 81.6px,#4852f4 83.6px,#4850f3 84.6px,#4743e7 85.6px,#463ddf 86.6px,#4852f4 88.6px,#4851f4 89.6px,#463de0 91.6px,#4852f4 93.6px,#4853f4 94.6px,#463ee1 96.6px,#4742e6 97.6px,#484ef1 98.6px,#4854f6 99.6px,#484ef1 100.6px,#4742e6 101.6px,#463de0 102.5px,#4850f2 104.5px,#4755f6 105.5px,#484ff2 106.5px,#463de0 108.5px,#4741e6 109.5px,#4854f6 111.5px,#4852f4 112.5px,#4747eb 113.5px)"></div>
<div class="r" style="top:30px;background:linear-gradient(90deg,#3f29b0 0px,#3f29b1 3px,#412cba 6px,#412cb9 8px,#4331c6 10px,#4331c8 11px,#422ebf 12.9px,#4433cc 14.9px,#4536d3 15.9px,#4435d1 16.9px,#4230c4 18.9px,#4330c5 19.9px,#4537d6 21.9px,#4537d6 22.9px,#4331c8 24.9px,#4331c7 25.9px,#4538d7 27.9px,#4539d8 28.9px,#4331c8 30.9px,#4331c7 31.9px,#463ada 33.9px,#4639da 34.8px,#4332c8 36.8px,#4639d9 38.8px,#463bdc 39.8px,#4433cb 41.8px,#4435d0 42.8px,#463bdc 43.8px,#463de0 44.8px,#4433cd 46.8px,#4536d3 47.8px,#463de0 48.8px,#4740e4 49.8px,#4435d1 51.8px,#4536d4 52.8px,#4744e8 54.8px,#4741e5 55.8px,#4536d4 57.7px,#4848ec 60.7px,#4745e9 61.7px,#4538d8 63.7px,#463adc 64.7px,#484aee 66.7px,#484aed 67.7px,#463bdc 69.7px,#463bdc 70.7px,#484bef 72.7px,#484cef 73.7px,#463bde 75.7px,#463de0 76.7px,#484ff1 78.7px,#484aee 79.6px,#473fe2 80.6px,#463bdd 81.6px,#484ff1 83.6px,#484df0 84.6px,#4741e5 85.6px,#463bdd 86.6px,#484ff1 88.6px,#484ef1 89.6px,#463bdd 91.6px,#484ef1 93.6px,#484ff2 94.6px,#463cdf 96.6px,#4740e3 97.6px,#484bee 98.6px,#4850f3 99.6px,#484aee 100.6px,#4740e3 101.6px,#463cde 102.5px,#484cf0 104.5px,#4851f3 105.5px,#4741e5 107.5px,#463bdd 108.5px,#473fe3 109.5px,#4851f3 111.5px,#484ef1 112.5px,#4745e9 113.5px)"></div>
<div class="r" style="top:32px;background:linear-gradient(90deg,#3f29b0 0px,#402ab5 4px,#402bb8 7px,#422ebe 9px,#4330c5 11px,#412dbd 12.9px,#4435d0 15.9px,#4434cf 16.9px,#422fc2 18.9px,#4230c3 19.9px,#4435d2 21.9px,#4536d3 22.9px,#4331c8 24.9px,#4331c7 25.9px,#4536d5 27.9px,#4537d5 28.9px,#4330c5 30.9px,#4330c5 31.9px,#4538d7 33.9px,#4538d7 34.8px,#4331c7 36.8px,#4538d8 39.8px,#4332ca 41.8px,#4434ce 42.8px,#4538d8 43.8px,#463ada 44.8px,#4332cb 46.8px,#4435d0 47.8px,#463bdc 48.8px,#463ddf 49.8px,#4434ce 51.8px,#4435d0 52.8px,#4740e4 54.8px,#463ee1 55.8px,#4435d0 57.7px,#4744e9 60.7px,#4742e6 61.7px,#4536d4 63.7px,#4538d7 64.7px,#4745ea 66.7px,#4745ea 67.7px,#4639d9 69.7px,#4539d9 70.7px,#4746ea 72.7px,#4747eb 73.7px,#463ada 75.7px,#463bdd 76.7px,#4849ed 78.7px,#4745e9 79.6px,#463bdd 80.6px,#4538d8 81.6px,#484aee 83.6px,#4848ec 84.6px,#4538d8 86.6px,#4849ed 88.6px,#4849ed 89.6px,#4539d9 91.6px,#4848ec 93.6px,#4849ed 94.6px,#463adc 96.6px,#463de0 97.6px,#4746ea 98.6px,#484aee 99.6px,#4639da 102.5px,#4848ec 104.5px,#484cef 105.5px,#4747eb 106.5px,#4539d8 108.5px,#4745e9 110.5px,#484cef 111.5px,#484aee 112.5px,#4742e6 113.5px)"></div>
<div class="r" style="top:34px;background:linear-gradient(90deg,#3f29b0 0px,#402ab4 4px,#422ebe 9px,#422fc3 11px,#412dbb 12.9px,#4434cf 15.9px,#4434ce 16.9px,#422fc1 18.9px,#422fc0 19.9px,#4435d1 22.9px,#4332c9 25.9px,#4536d3 27.9px,#4435d2 28.9px,#422fc2 30.9px,#422fc3 31.9px,#4537d5 33.9px,#4537d6 34.8px,#4331c6 36.8px,#4535d2 39.8px,#4332ca 41.8px,#4536d4 44.8px,#4331c8 46.8px,#4539d9 48.8px,#463ada 49.8px,#4332ca 51.8px,#4434cd 52.8px,#463de0 54.8px,#463bdc 55.8px,#4433cc 57.7px,#4741e5 60.7px,#473fe3 61.7px,#4435d1 63.7px,#4536d2 64.7px,#4740e4 66.7px,#4741e5 67.7px,#4538d7 69.7px,#4537d6 70.7px,#4740e4 72.7px,#4741e5 73.7px,#4538d8 75.7px,#463adb 76.7px,#4744e8 78.7px,#4740e3 79.6px,#4538d7 80.6px,#4536d3 81.6px,#4745e9 83.6px,#4743e7 84.6px,#4536d2 86.6px,#4744e8 88.6px,#4745e9 89.6px,#4537d5 91.6px,#4742e6 93.6px,#4743e7 94.6px,#4639da 96.6px,#4744e8 99.6px,#4639d9 101.6px,#4537d7 102.5px,#4744e8 104.5px,#4747eb 105.5px,#4742e6 106.5px,#4536d3 108.5px,#4746eb 111.5px,#4746ea 112.5px,#473fe3 113.5px)"></div>
<div class="r" style="top:36px;background:linear-gradient(90deg,#3f29b1 0px,#402ab4 4px,#4230c3 10px,#412cba 12.9px,#4435d0 15.9px,#4435d0 16.9px,#422fc1 18.9px,#422ebf 19.9px,#4435d1 22.9px,#4435d1 26.9px,#4435d0 28.9px,#422ec0 30.9px,#422fc2 31.9px,#4537d5 33.9px,#4538d7 34.8px,#4331c7 36.8px,#4330c5 37.8px,#4433cd 39.8px,#4434ce 44.8px,#4331c7 46.8px,#4538d7 48.8px,#4537d6 49.8px,#4331c7 51.8px,#4433cc 52.8px,#4539d9 53.8px,#463cde 54.8px,#4332c9 57.7px,#4740e3 60.7px,#473ee1 61.7px,#4434cf 63.7px,#4434ce 64.7px,#463cdf 66.7px,#463ddf 68.7px,#4536d4 70.7px,#463cde 73.7px,#4539d9 75.7px,#4740e3 78.7px,#4435d1 80.6px,#4434cf 81.6px,#4742e6 83.6px,#473fe2 84.6px,#4433cd 86.6px,#4740e3 88.6px,#4742e6 89.6px,#4535d2 91.6px,#4537d5 92.6px,#473ee2 94.6px,#463ada 96.6px,#463ee1 99.6px,#4536d4 101.6px,#4537d5 102.5px,#4742e6 104.5px,#4743e7 105.5px,#4434ce 108.5px,#4536d4 109.5px,#4743e7 111.5px,#473fe2 113.5px)"></div>
<div class="r" style="top:38px;background:linear-gradient(90deg,#3f29b2 0px,#3f29b1 3px,#4330c5 9px,#422fc2 11px,#412cba 12.9px,#4537d5 15.9px,#4537d6 16.9px,#422ebf 19.9px,#422fc2 20.9px,#4536d4 22.9px,#4538d8 27.9px,#422ebf 30.9px,#422fc3 31.9px,#4539d9 33.9px,#463bdc 34.8px,#4330c5 37.8px,#4536d3 41.8px,#4331c6 45.8px,#4332c9 46.8px,#4639d9 48.8px,#4331c6 51.8px,#463adb 53.8px,#463cdf 54.8px,#4433cb 56.8px,#4332c8 57.7px,#463cde 59.7px,#4741e5 60.7px,#4740e4 61.7px,#4435d0 63.7px,#4433cc 64.7px,#473ee2 67.7px,#463bdc 69.7px,#4536d4 71.7px,#473fe2 77.7px,#463ee1 78.7px,#4433cd 80.6px,#4434ce 81.6px,#4742e6 83.6px,#463de0 84.6px,#4332ca 86.6px,#463ee1 88.6px,#4741e5 89.6px,#4535d2 91.6px,#4435d0 92.6px,#463bde 94.6px,#463adb 99.6px,#4435d1 101.6px,#4743e7 104.5px,#4742e6 105.5px,#4332ca 108.5px,#4435d1 109.5px,#4742e6 111.5px,#4741e5 113.5px)"></div>
<div class="r" style="top:40px;background:linear-gradient(90deg,#402ab4 0px,#402ab3 3px,#4332ca 8px,#4332cb 10px,#412dbc 11.9px,#412dbc 12.9px,#463bdd 15.9px,#463bdd 16.9px,#422fc0 19.9px,#4230c3 20.9px,#463ada 22.9px,#473fe2 25.9px,#463cdf 27.9px,#422fc0 30.9px,#4331c6 31.9px,#463ddf 33.9px,#4740e3 34.8px,#4535d2 36.8px,#4331c7 37.8px,#4230c4 38.8px,#463adc 41.8px,#4435d1 43.8px,#4331c8 44.8px,#4331c6 45.8px,#463adb 47.8px,#463cde 48.8px,#4332ca 50.8px,#4331c7 51.8px,#463de0 53.8px,#473fe2 54.8px,#4433cc 56.8px,#4332ca 57.7px,#473fe3 59.7px,#4745e9 60.7px,#4744e9 61.7px,#4433cc 64.7px,#4435d0 65.7px,#4741e4 67.7px,#4743e7 68.7px,#4536d4 71.7px,#4535d2 72.7px,#4743e7 76.7px,#473ee1 78.7px,#4433cc 80.6px,#4434cf 81.6px,#4744e8 83.6px,#463ee1 84.6px,#4535d2 85.6px,#4332ca 86.6px,#463ee1 88.6px,#4744e8 89.6px,#4434cf 92.6px,#4741e5 96.6px,#463de0 98.6px,#4435d1 100.6px,#4435d1 101.6px,#4747eb 104.5px,#4744e9 105.5px,#4332ca 108.5px,#4435d1 109.5px,#4744e8 111.5px,#4746ea 113.5px)"></div>
<div class="r" style="top:42px;background:linear-gradient(90deg,#402bb7 0px,#402ab5 3px,#4536d2 8px,#4435d1 10px,#422ebf 11.9px,#422ec0 12.9px,#463adb 14.9px,#4741e4 15.9px,#4741e5 16.9px,#463cde 17.9px,#4330c5 19.9px,#4331c7 20.9px,#473fe2 22.9px,#4747eb 24.9px,#4743e7 27.9px,#463bdd 28.9px,#4434ce 29.9px,#4330c5 30.9px,#4433cc 31.9px,#4743e7 33.9px,#4747eb 34.8px,#4639da 36.8px,#4433cc 37.8px,#4331c6 38.8px,#4741e4 41.8px,#463ee0 42.8px,#4332c9 44.8px,#4331c8 45.8px,#473fe2 47.8px,#4740e4 48.8px,#4433cd 50.8px,#4433cc 51.8px,#4743e7 53.8px,#4744e8 54.8px,#4434d0 56.8px,#4434cf 57.7px,#4744e8 59.7px,#484bef 60.7px,#484bef 61.7px,#463adb 63.7px,#4435d0 64.7px,#4536d2 65.7px,#4745e9 67.7px,#484aee 68.7px,#473ee1 70.7px,#4537d7 71.7px,#4535d2 72.7px,#484bee 76.7px,#4741e5 78.7px,#4434ce 80.6px,#4536d4 81.6px,#4849ed 83.6px,#4740e4 84.6px,#4433cc 86.6px,#4741e4 88.6px,#4848ec 89.6px,#4743e7 90.6px,#4435d0 92.6px,#4536d4 93.6px,#4743e7 95.6px,#4848ec 96.6px,#4740e4 98.6px,#4435d1 100.6px,#4537d5 101.6px,#4746eb 103.5px,#484df0 104.5px,#4740e4 106.5px,#4433cc 108.5px,#4537d5 109.5px,#4849ed 111.5px,#484df0 113.5px)"></div>
<div class="r" style="top:44px;background:linear-gradient(90deg,#412cba 0px,#402cb8 3px,#4537d6 7px,#463adb 9px,#4538d8 10px,#4230c4 11.9px,#4330c5 12.9px,#473fe2 14.9px,#4747eb 15.9px,#4848ec 16.9px,#4741e5 17.9px,#4433cc 19.9px,#4433cd 20.9px,#4745e9 22.9px,#484ff2 24.9px,#484aed 27.9px,#4537d5 29.9px,#4433cc 30.9px,#4536d4 31.9px,#4849ed 33.9px,#484ef1 34.8px,#473ee2 36.8px,#4535d2 37.8px,#4332ca 38.8px,#473ee1 40.8px,#4747eb 41.8px,#4743e7 42.8px,#4434cd 44.8px,#4433cd 45.8px,#4745e9 47.8px,#4746ea 48.8px,#4535d2 50.8px,#4535d2 51.8px,#4849ed 53.8px,#484aed 54.8px,#4537d6 56.8px,#4537d6 57.7px,#484aee 59.7px,#4852f4 60.7px,#4852f4 61.7px,#473fe2 63.7px,#4537d6 64.7px,#4538d7 65.7px,#484aee 67.7px,#4851f3 68.7px,#4744e8 70.7px,#4537d6 72.7px,#4744e8 74.7px,#4852f4 76.7px,#4745e9 78.7px,#4536d3 80.6px,#4639da 81.6px,#484ef1 83.6px,#463adb 85.6px,#4535d2 86.6px,#463adb 87.6px,#484ef1 89.6px,#4849ed 90.6px,#4537d5 92.6px,#4538d7 93.6px,#4849ed 95.6px,#484ff2 96.6px,#4744e8 98.6px,#4536d4 100.6px,#463ada 101.6px,#484df0 103.5px,#4853f5 104.5px,#4744e8 106.5px,#463ada 107.5px,#4535d2 108.5px,#4639da 109.5px,#484ef1 111.5px,#4854f6 113.5px)"></div>
<div class="r" style="top:46px;background:linear-gradient(90deg,#412dbd 0px,#412dbc 3px,#463adb 7px,#463ee0 9px,#4537d5 11px,#4433cb 11.9px,#4433cd 12.9px,#4744e8 14.9px,#484cf0 15.9px,#484df1 16.9px,#463ee1 18.9px,#4537d5 19.9px,#4537d6 20.9px,#484bee 22.9px,#4756f7 24.9px,#4755f6 26.9px,#4746eb 28.9px,#463cde 29.9px,#4537d6 30.9px,#463bdd 31.9px,#484ff2 33.9px,#4855f6 34.8px,#4744e8 36.8px,#463ada 37.8px,#4535d2 38.8px,#4743e7 40.8px,#484df0 41.8px,#4848ec 42.8px,#4536d4 44.8px,#4536d4 45.8px,#484aee 47.8px,#484bef 48.8px,#4639da 50.8px,#463ada 51.8px,#484ff2 53.8px,#484ff2 54.8px,#463cde 56.8px,#463cde 57.7px,#4850f3 59.7px,#4758f8 60.7px,#4758f8 61.7px,#4745e9 63.7px,#463cdf 64.7px,#463cdf 65.7px,#4850f3 67.7px,#4757f7 68.7px,#4854f5 69.7px,#473fe3 71.7px,#463bdd 72.7px,#484aed 74.7px,#4759f8 76.7px,#484aee 78.7px,#463adb 80.6px,#463ee1 81.6px,#4854f5 83.6px,#473ee1 85.6px,#4639da 86.6px,#473ee1 87.6px,#4853f5 89.6px,#484ef1 90.6px,#463bdd 92.6px,#463bdd 93.6px,#484ef1 95.6px,#4756f6 96.6px,#4853f4 97.6px,#473fe2 99.6px,#463adb 100.6px,#463ee1 101.6px,#4853f4 103.5px,#4759f8 104.5px,#4849ed 106.5px,#463ee1 107.5px,#4639da 108.5px,#463ee1 109.5px,#4853f5 111.5px,#475af9 113.5px)"></div>
<div class="r" style="top:48px;background:linear-gradient(90deg,#422fc1 0px,#422fc1 3px,#463ddf 7px,#4741e5 9px,#463adc 11px,#4536d4 11.9px,#4537d6 12.9px,#4849ed 14.9px,#4851f3 15.9px,#4852f4 16.9px,#463de0 19.9px,#463ee1 20.9px,#4759f8 23.9px,#475cfa 26.9px,#484df1 28.9px,#463ee1 30.9px,#484cf0 32.9px,#475af9 34.8px,#484aee 36.8px,#463bdc 38.8px,#4848ec 40.8px,#4851f4 41.8px,#484df0 42.8px,#463bdd 44.8px,#463bdd 45.8px,#484ff2 47.8px,#4850f3 48.8px,#473fe3 50.8px,#4740e4 51.8px,#4755f6 53.8px,#4756f6 54.8px,#4744e8 56.8px,#4744e8 57.7px,#465ffb 60.7px,#465efb 61.7px,#4744e8 64.7px,#4744e8 65.7px,#465dfb 68.7px,#4851f3 70.7px,#4742e6 72.7px,#4850f3 74.7px,#465efb 76.7px,#4850f3 78.7px,#4741e5 80.6px,#4850f2 82.6px,#4759f8 83.6px,#4745e9 85.6px,#4741e4 86.6px,#4850f2 88.6px,#4759f8 89.6px,#4855f6 90.6px,#4742e6 92.6px,#4742e6 93.6px,#475cfa 96.6px,#4850f2 98.6px,#4741e5 100.6px,#484ff2 102.5px,#465efb 104.5px,#4850f2 106.5px,#4740e4 108.5px,#4850f2 110.5px,#465efb 112.5px,#4660fb 113.5px)"></div>
<div class="r" style="top:50px;background:linear-gradient(90deg,#4330c5 0px,#4331c8 3px,#473fe3 7px,#4743e7 10px,#463cdf 11.9px,#463de0 12.9px,#4755f6 15.9px,#4853f5 17.9px,#4746ea 19.9px,#4747eb 20.9px,#465ffb 23.9px,#4562fc 26.9px,#4848ec 30.9px,#465ffb 34.8px,#4743e7 38.8px,#4756f6 41.8px,#4743e7 44.8px,#4743e7 45.8px,#4755f6 47.8px,#4756f7 48.8px,#4849ed 50.8px,#484bee 51.8px,#465dfa 53.8px,#465efb 54.8px,#4850f2 56.8px,#4850f3 57.7px,#4367fd 60.7px,#4367fd 61.7px,#4850f3 64.7px,#4850f3 65.7px,#4466fd 68.7px,#475bf9 70.7px,#484ef1 72.7px,#4466fd 76.7px,#484df0 80.6px,#4759f9 82.6px,#4561fc 83.6px,#484df0 86.6px,#4561fc 89.6px,#484ef1 92.6px,#484ef1 93.6px,#4564fd 96.6px,#4759f8 98.6px,#484df0 100.6px,#4466fd 104.5px,#484cf0 108.5px,#4466fd 112.5px,#4367fd 113.5px)"></div>
<div class="r" style="top:52px;background:linear-gradient(90deg,#4332ca 0px,#4537d6 4px,#4745ea 8px,#4746ea 12.9px,#475bf9 15.9px,#475af9 17.9px,#4852f4 19.9px,#475af9 21.9px,#426afe 24.9px,#4366fd 27.9px,#4756f6 30.9px,#4465fd 34.8px,#484ef1 38.8px,#475cfa 41.8px,#484ef1 44.8px,#4755f6 46.8px,#465dfa 47.8px,#465ffb 48.8px,#4757f7 50.8px,#4661fc 52.8px,#4269fe 53.8px,#416bfe 54.8px,#4561fc 56.8px,#4368fd 58.7px,#3974fe 60.7px,#3e6fff 62.7px,#4562fc 64.7px,#4368fd 66.7px,#3a73fe 68.7px,#4660fc 72.7px,#3a73fe 76.7px,#465ffb 80.6px,#3e6fff 83.6px,#465ffb 86.6px,#3f6fff 89.6px,#465ffb 92.6px,#4465fd 94.6px,#3d71ff 96.6px,#465efb 100.6px,#3b72ff 104.5px,#465efb 108.5px,#3b72ff 112.5px,#3a73fe 113.5px)"></div>
<div class="r" style="top:54px;background:linear-gradient(90deg,#4435d0 0px,#473fe2 5px,#484ef1 10px,#4851f3 12.9px,#4465fd 16.9px,#4563fd 20.9px,#3876fe 24.9px,#3a74fe 27.9px,#4367fd 30.9px,#3e6fff 34.8px,#475cfa 38.8px,#4564fd 41.8px,#475af9 44.8px,#4561fc 46.8px,#416afe 48.8px,#416bfe 51.8px,#3479fd 53.8px,#3578fd 55.8px,#3677fe 57.7px,#2e85f8 60.7px,#317dfc 63.7px,#3579fd 65.7px,#2e84f9 68.7px,#3777fe 72.7px,#2e83f9 76.7px,#3975fe 80.6px,#3080fa 83.6px,#3974fe 86.6px,#3080fb 89.6px,#3975fe 93.6px,#2f81fa 96.6px,#3975fe 100.6px,#2f82fa 104.5px,#3974fe 108.5px,#2f82f9 113.5px)"></div>
<div class="r" style="top:56px;background:linear-gradient(90deg,#4537d6 0px,#4848ec 6px,#4562fc 13.9px,#3c71ff 16.9px,#3677fe 20.9px,#2e86f7 24.9px,#2e83f9 28.9px,#317dfc 31.9px,#317efb 34.8px,#406cfe 38.8px,#406cfe 42.8px,#4269fe 45.8px,#3777fe 48.8px,#327cfc 51.8px,#2d89f5 54.8px,#2d8cf3 58.7px,#2b91ef 61.7px,#2d8bf4 65.7px,#2b90f0 69.7px,#2d8bf4 73.7px,#2c8ef1 77.7px,#2d88f6 81.6px,#2d8df2 83.6px,#2d88f6 87.6px,#2d8cf3 90.6px,#2e87f7 93.6px,#2d8df2 97.6px,#2d89f5 101.6px,#2d8df2 105.5px,#2d88f6 109.5px,#2c8ef1 113.5px)"></div>
<div class="r" style="top:58px;background:linear-gradient(90deg,#463adc 0px,#465efb 10px,#3d70ff 13.9px,#2f82f9 16.9px,#249de6 24.9px,#269ae9 29.9px,#2d8cf3 35.8px,#317dfc 39.8px,#3678fe 45.8px,#2e86f8 50.8px,#2a93ed 55.8px,#269ae8 62.7px,#2797eb 78.7px,#2994ed 88.6px,#2896eb 99.6px,#2796eb 106.5px,#2896eb 113.5px)"></div>
<div class="r" style="top:60px;background:linear-gradient(90deg,#463de0 0px,#4562fc 9px,#3a73fe 11.9px,#2d89f6 14.9px,#1aacdd 20.9px,#02b7cb 23.9px,#02bac2 26.9px,#02b7ca 29.9px,#1ea7e1 34.8px,#2d8cf3 40.8px,#2e86f8 45.8px,#249ee6 55.8px,#1da8e0 69.7px,#249fe6 88.6px,#20a5e3 105.5px,#23a0e5 113.5px)"></div>
<div class="r" style="top:62px;background:linear-gradient(90deg,#4740e4 0px,#4564fd 8px,#3578fd 11px,#22a2e4 15.9px,#0eb2d4 17.9px,#01b8c8 18.9px,#0ebdba 19.9px,#25c1aa 20.9px,#4aca7d 23.9px,#5fcc6c 25.9px,#60cc6b 27.9px,#4dca7a 29.9px,#2cc3a2 32.9px,#1dc0b0 33.9px,#08bcbe 34.8px,#02b7cb 35.8px,#1aabdd 37.8px,#2798ea 41.8px,#2a92ee 45.8px,#1aacdd 56.8px,#04b6cd 69.7px,#0ab4d2 76.7px,#19addc 83.6px,#17aeda 92.6px,#09b4d1 100.6px,#0cb3d3 105.5px,#19acdc 113.5px)"></div>
<div class="r" style="top:64px;background:linear-gradient(90deg,#4741e5 0px,#4561fc 7px,#3777fe 10px,#2b92ee 12.9px,#1fa6e2 14.9px,#15afd8 15.9px,#01b8ca 16.9px,#13beb7 17.9px,#2dc3a1 18.9px,#3ec888 19.9px,#7fcc59 21.9px,#9fca50 22.9px,#b8c846 23.9px,#c9c63d 24.9px,#d3c538 25.9px,#d7c536 26.9px,#d5c537 27.9px,#ccc63c 28.9px,#bdc743 29.9px,#a7c94c 30.9px,#6bcc62 32.9px,#4dca7b 33.9px,#36c692 34.8px,#27c2a8 35.8px,#0dbdba 36.8px,#01b8ca 37.8px,#1aacdd 39.8px,#259be7 43.8px,#22a1e4 48.8px,#0bb3d2 56.8px,#01b8c8 61.7px,#0abcbc 67.7px,#0cbdbb 72.7px,#01b8c9 79.6px,#0cb3d3 87.6px,#01b9c6 95.6px,#07bcbe 102.5px,#02b7cb 109.5px,#0ab4d1 113.5px)"></div>
<div class="r" style="top:66px;background:linear-gradient(90deg,#4741e5 0px,#4561fc 7px,#3e6fff 9px,#2f81fa 11px,#249de6 13.9px,#1da8e0 14.9px,#01b9c5 16.9px,#1ec0b0 17.9px,#4bca7c 19.9px,#6fcc5f 20.9px,#b6c847 22.9px,#cec53b 23.9px,#dec532 24.9px,#e8c62c 25.9px,#eac62b 27.9px,#e2c530 28.9px,#d4c538 29.9px,#bfc742 30.9px,#82cc58 32.9px,#3fc987 34.8px,#1abfb3 36.8px,#02bac4 37.8px,#09b4d1 38.8px,#17aeda 39.8px,#239fe5 42.8px,#259de7 46.8px,#0cb3d3 57.7px,#01b9c7 64.7px,#05bbc0 72.7px,#02b7cb 78.7px,#11b1d6 86.6px,#01b9c7 97.6px,#01b9c6 104.5px,#08b4d1 110.5px,#10b2d5 113.5px)"></div>
<div class="r" style="top:68px;background:linear-gradient(90deg,#4740e4 0px,#4464fd 8px,#337bfd 11px,#1da8e0 15.9px,#13b1d7 16.9px,#01b8c9 17.9px,#10beb8 18.9px,#2ac3a5 19.9px,#38c790 20.9px,#67cc65 22.9px,#7fcc59 23.9px,#91cb54 24.9px,#9dca50 25.9px,#a2ca4e 26.9px,#a0ca4f 27.9px,#98cb52 28.9px,#89cc56 29.9px,#74cc5c 30.9px,#45c981 32.9px,#26c2a8 34.8px,#0ebdb9 35.8px,#01b8c8 36.8px,#19addc 38.8px,#2699e9 42.8px,#2896ec 47.8px,#1ea7e1 59.7px,#19addc 73.7px,#21a3e4 89.6px,#1baade 103.5px,#21a3e4 113.5px)"></div>
<div class="r" style="top:70px;background:linear-gradient(90deg,#473ee1 0px,#4563fd 9px,#3777fe 11.9px,#2e86f8 13.9px,#1babde 19.9px,#01b8c8 21.9px,#0bbdbc 22.9px,#1cc0b1 23.9px,#2bc3a4 25.9px,#2ac3a5 28.9px,#1cc0b1 30.9px,#01b9c6 32.9px,#19addc 34.8px,#259ce7 38.8px,#2d88f6 45.8px,#2e85f8 50.8px,#2b91ef 56.8px,#2d8df2 63.7px,#2994ed 70.7px,#2d8cf3 77.7px,#2d89f5 81.6px,#2d8af5 86.6px,#2e86f7 90.6px,#2b90f0 98.6px,#2d8af4 105.5px,#2d8bf4 113.5px)"></div>
<div class="r" style="top:72px;background:linear-gradient(90deg,#463bde 0px,#465ffb 10px,#3777fe 14.9px,#3875fe 16.9px,#3f6eff 18.9px,#3974fe 19.9px,#2f82f9 20.9px,#259ce7 22.9px,#1da9e0 25.9px,#1fa6e2 30.9px,#2797eb 32.9px,#317dfc 34.8px,#3975fe 35.8px,#317dfc 37.8px,#2e86f7 39.8px,#347afd 45.8px,#4564fd 48.8px,#465ffb 49.8px,#4368fd 51.8px,#327cfc 54.8px,#337bfc 57.7px,#4660fb 61.7px,#4660fb 62.7px,#3479fd 66.7px,#3579fd 74.7px,#4269fe 77.7px,#475cfa 79.6px,#4464fd 81.6px,#3a74fe 84.6px,#3f6eff 86.6px,#475bf9 89.6px,#4564fd 91.6px,#3875fe 94.6px,#3876fe 99.6px,#465dfa 103.5px,#4561fc 105.5px,#3a74fe 108.5px,#3975fe 113.5px)"></div>
<div class="r" style="top:74px;background:linear-gradient(90deg,#4539d9 0px,#475cfa 11.9px,#4464fd 14.9px,#475bf9 16.9px,#484cef 18.9px,#4850f3 19.9px,#465dfb 20.9px,#3f6eff 21.9px,#317dfc 22.9px,#2d8af5 24.9px,#2d8df2 29.9px,#2e85f8 31.9px,#347afd 32.9px,#4368fe 33.9px,#4759f8 34.8px,#4852f4 35.8px,#4756f7 36.8px,#3f6eff 38.8px,#3578fd 40.8px,#3f6dfe 45.8px,#475bf9 47.8px,#4848ec 49.8px,#4849ed 50.8px,#4368fd 53.8px,#3f6dfe 56.8px,#4465fd 58.7px,#4747eb 61.7px,#4747eb 62.7px,#4563fc 65.7px,#426afe 68.7px,#4465fd 75.7px,#4854f6 77.7px,#4744e8 79.6px,#4746ea 80.6px,#4561fc 83.6px,#4563fc 85.6px,#4853f5 87.6px,#4743e7 89.6px,#4746ea 90.6px,#4561fc 93.6px,#4367fd 97.6px,#465ffb 100.6px,#4744e8 103.5px,#4743e7 104.5px,#465efb 107.5px,#4466fd 110.5px,#4466fd 113.5px)"></div>
<div class="r" style="top:76px;background:linear-gradient(90deg,#4536d4 0px,#4757f7 13.9px,#4756f7 16.9px,#4851f3 18.9px,#475bf9 20.9px,#3d71ff 23.9px,#3579fd 29.9px,#3e6fff 32.9px,#465ffb 34.8px,#465dfa 36.8px,#3f6dfe 39.8px,#4368fd 45.8px,#4852f4 49.8px,#4758f8 51.8px,#4465fd 54.8px,#4660fc 58.7px,#4850f2 61.7px,#4854f5 63.7px,#4660fc 66.7px,#465efb 75.7px,#484df0 79.6px,#465efb 84.6px,#4755f6 87.6px,#484cf0 89.6px,#465efb 94.6px,#475cfa 99.6px,#4747eb 103.5px,#484df0 105.5px,#475dfa 108.5px,#465efb 113.5px)"></div>
<div class="r" style="top:78px;background:linear-gradient(90deg,#4434cf 0px,#4851f4 15.9px,#4269fe 28.9px,#4367fd 38.8px,#465ffb 51.8px,#465efb 59.7px,#475cfa 70.7px,#475bf9 82.6px,#475bf9 92.6px,#475af9 98.6px,#4848ec 101.6px,#4742e6 103.5px,#4759f8 107.5px,#475bf9 113.5px)"></div>
<div class="r" style="top:80px;background:linear-gradient(90deg,#4433cc 0px,#484bef 16.9px,#4660fc 31.9px,#475bf9 63.7px,#484bee 67.7px,#475cfa 72.7px,#4759f8 98.6px,#4746ea 101.6px,#4740e3 102.5px,#4740e3 103.5px,#4755f6 106.5px,#475af9 110.5px,#475af9 113.5px)"></div>
<div class="r" style="top:82px;background:linear-gradient(90deg,#4332c9 0px,#4848ec 18.9px,#475cfa 36.8px,#475dfa 62.7px,#484bef 65.7px,#473fe2 67.7px,#484bee 69.7px,#475cfa 72.7px,#4759f8 99.6px,#4850f2 103.5px,#475bf9 108.5px,#475bf9 113.5px)"></div>
<div class="r" style="top:84px;background:linear-gradient(90deg,#4331c7 0px,#4746ea 20.9px,#475af9 39.8px,#465dfa 62.7px,#484bef 67.7px,#465dfb 72.7px,#475bfa 113.5px)"></div>
<div class="r" style="top:86px;background:linear-gradient(90deg,#4331c7 0px,#4743e8 21.9px,#4757f7 40.8px,#4755f6 45.8px,#465efb 52.8px,#4757f7 60.7px,#475cfa 65.7px,#475cfa 113.5px)"></div>
<div class="r" style="top:88px;background:linear-gradient(90deg,#4331c7 0px,#4742e6 22.9px,#4755f6 39.8px,#4849ed 42.8px,#4742e6 44.8px,#4759f8 48.8px,#475bf9 55.8px,#4745e9 59.7px,#484df0 61.7px,#475dfa 64.7px,#475bfa 113.5px)"></div>
<div class="r" style="top:90px;background:linear-gradient(90deg,#4331c7 0px,#4742e6 23.9px,#4853f4 39.8px,#4745e9 42.8px,#463de0 44.8px,#4757f7 48.8px,#475bf9 54.8px,#484ef1 57.7px,#4740e4 59.7px,#4849ed 61.7px,#475bfa 64.7px,#475af9 113.5px)"></div>
<div class="r" style="top:92px;background:linear-gradient(90deg,#4331c8 0px,#4742e6 24.9px,#4851f3 40.8px,#484bee 44.8px,#4758f8 50.8px,#4757f7 56.8px,#4850f2 60.7px,#475bf9 65.7px,#4758f8 113.5px)"></div>
<div class="r" style="top:94px;background:linear-gradient(90deg,#4332c9 0px,#4740e3 23.9px,#4851f3 43.8px,#4759f8 70.7px,#4755f6 113.5px)"></div>
<div class="r" style="top:96px;background:linear-gradient(90deg,#4332ca 0px,#4535d2 13.9px,#4538d7 17.9px,#4743e7 28.9px,#4854f5 53.8px,#4852f4 113.5px)"></div>
<div class="r" style="top:98px;background:linear-gradient(90deg,#4332cb 0px,#4435d2 11.9px,#4230c4 15.9px,#463bdd 20.9px,#484ef1 44.8px,#4852f4 86.6px,#484ef1 113.5px)"></div>
<div class="r" style="top:100px;background:linear-gradient(90deg,#4433cb 0px,#4435d2 11.9px,#4230c4 15.9px,#463adc 20.9px,#484cef 46.8px,#484df0 97.6px,#484aee 113.5px)"></div>
<div class="r" style="top:102px;background:linear-gradient(90deg,#4433cc 0px,#4435d2 13.9px,#4537d5 17.9px,#4742e6 32.9px,#484bee 62.7px,#4746ea 113.5px)"></div>
<div class="r" style="top:104px;background:linear-gradient(90deg,#4433cd 0px,#4746eb 48.8px,#4747eb 61.7px,#463cdf 65.7px,#4848ec 70.7px,#4743e7 113.5px)"></div>
<div class="r" style="top:106px;background:linear-gradient(90deg,#4433cd 0px,#4744e8 49.8px,#4743e7 61.7px,#4434cf 65.7px,#4743e7 69.7px,#4740e3 113.5px)"></div>
<div class="r" style="top:108px;background:linear-gradient(90deg,#4433cd 0px,#4742e6 51.8px,#473fe3 62.7px,#4539d9 65.7px,#4742e6 70.7px,#463de0 113.5px)"></div>
<div class="r" style="top:110px;background:linear-gradient(90deg,#4433cd 0px,#4740e4 52.8px,#463bdd 112.5px,#463bdc 113.5px)"></div>
<div class="r" style="top:112px;background:linear-gradient(90deg,#4433cd 0px,#473ee1 53.8px,#4639d9 112.5px,#4539d9 113.5px)"></div>
<div class="r" style="top:114px;background:linear-gradient(90deg,#4433cd 0px,#463ddf 55.8px,#4537d6 113.5px)"></div>
<div class="r" style="top:116px;background:linear-gradient(90deg,#4433cc 0px,#463bdd 56.8px,#4536d4 113.5px)"></div>
<div class="r" style="top:118px;background:linear-gradient(90deg,#4433cb 0px,#463adb 56.8px,#4435d1 113.5px)"></div>
<div class="r" style="top:120px;background:linear-gradient(90deg,#4332ca 0px,#4539d9 56.8px,#4434cf 113.5px)"></div>
<div class="r" style="top:122px;background:linear-gradient(90deg,#4332c9 0px,#4538d7 58.7px,#4433cd 113.5px)"></div>
<div class="r" style="top:124px;background:linear-gradient(90deg,#4331c7 0px,#4536d4 61.7px,#4332ca 113.5px)"></div>
<div class="r" style="top:126px;background:linear-gradient(90deg,#4331c6 0px,#4535d2 62.7px,#4332c8 113.5px)"></div>
<div class="r" style="top:128px;background:linear-gradient(90deg,#4230c4 0px,#4434cf 63.7px,#4331c6 113.5px)"></div>
<div class="r" style="top:130px;background:linear-gradient(90deg,#422fc2 0px,#4433cd 65.7px,#4230c4 113.5px)"></div>
<div class="r" style="top:132px;background:linear-gradient(90deg,#422fc0 0px,#4332ca 68.7px,#422fc2 113.5px)"></div>
<div class="r" style="top:134px;background:linear-gradient(90deg,#422ebe 0px,#4331c7 70.7px,#422ec0 113.5px)"></div>
<div class="r" style="top:136px;background:linear-gradient(90deg,#412dbd 0px,#4230c4 74.7px,#412ebe 113.5px)"></div>
<div class="r" style="top:138px;background:linear-gradient(90deg,#412cbb 0px,#422fc1 77.7px,#412dbc 113.5px)"></div>
<div class="r" style="top:140px;background:linear-gradient(90deg,#412cb9 0px,#422ebe 81.6px,#412cba 113.5px)"></div>
<div class="r" style="top:142px;background:linear-gradient(90deg,#402bb7 0px,#412dbc 86.6px,#402cb8 113.5px)"></div>
<div class="r" style="top:144px;background:linear-gradient(90deg,#402bb6 0px,#412cb9 92.6px,#402bb7 113.5px)"></div>
</div>
<div class="p" style="left:698.8px;top:457.7px;width:6.3px;height:145.3px;background:linear-gradient(0deg,#3e26a8 0%,#4536d5 6.2%,#484cef 12.5%,#4562fc 18.8%,#347afd 25%,#2c90f0 31.2%,#21a3e3 37.5%,#0cb3d3 43.8%,#12beb7 50%,#34c696 56.2%,#5ccb6f 62.5%,#94cb53 68.8%,#c8c63e 75%,#f1c726 81.2%,#fad525 87.5%,#f5e924 93.8%,#f9fb0e 100%)"></div>
<svg width="732" height="678" viewBox="0 0 732 678">
<rect x="95.5" y="51.5" width="603" height="146" fill="#fff" stroke="#262626" stroke-width="1"/>
<rect x="95.5" y="254.5" width="603" height="146" fill="#fff" stroke="#262626" stroke-width="1"/>
<defs>
<clipPath id="ct"><rect x="95.5" y="51.5" width="603" height="146"/></clipPath>
<clipPath id="cm"><rect x="95.5" y="254.5" width="603" height="146"/></clipPath>
</defs>
<g clip-path="url(#ct)" fill="none" stroke-linejoin="round">
<path d="M96.0 144.6L96.5 144.7 97.0 144.8 97.5 144.9 98.0 145.0 98.5 145.1 99.0 145.2 99.5 145.2 100.0 145.3 100.5 145.3 101.0 145.3 101.5 145.3 102.0 145.3 102.5 145.3 103.0 145.2 103.5 145.2 104.0 145.1 104.5 145.1 105.0 145.0 105.5 144.9 106.0 144.9 106.5 144.8 107.0 144.7 107.5 144.6 108.0 144.5 108.5 144.4 109.0 144.4 109.5 144.3 110.0 144.2 110.5 144.1 111.0 144.0 111.5 143.9 112.0 143.8 112.5 143.7 113.0 143.5 113.5 143.4 114.0 143.2 114.5 143.1 115.0 142.9 115.5 142.8 116.0 142.6 116.5 142.5 117.0 142.4 117.5 142.3 118.0 142.1 118.5 142.0 119.0 142.0 119.5 141.9 120.0 141.8 120.5 141.8 121.0 141.8 121.5 141.8 122.0 141.9 122.5 141.9 123.0 142.0 123.5 142.1 124.0 142.3 124.5 142.5 125.0 142.7 125.5 142.9 126.0 143.1 126.5 143.3 127.0 143.6 127.5 143.9 128.0 144.2 128.5 144.5 129.0 144.8 129.5 145.2 130.0 145.5 130.5 145.9 131.0 146.5 131.5 147.1 132.0 147.9 132.5 148.7 133.0 149.7 133.5 150.7 134.0 151.8 134.5 153.0 135.0 154.2 135.5 155.4 136.0 156.7 136.5 157.9 137.0 159.2 137.5 160.5 138.0 162.1 138.5 164.0 139.0 166.1 139.5 168.4 140.0 170.8 140.5 173.3 141.0 175.8 141.5 178.3 142.0 180.7 142.5 183.0 143.0 185.1 143.5 186.9 144.0 188.4 144.5 189.6 145.0 190.4 145.5 190.8 146.0 190.6 146.5 189.7 147.0 188.2 147.5 186.1 148.0 183.5 148.5 180.4 149.0 177.0 149.5 173.2 150.0 169.2 150.5 164.9 151.0 160.5 151.5 156.0 152.0 151.4 152.5 146.8 153.0 142.4 153.5 138.0 154.0 133.9 154.5 130.0 155.0 126.0 155.5 121.5 156.0 116.5 156.5 111.3 157.0 105.9 157.5 100.4 158.0 94.9 158.5 89.4 159.0 84.1 159.5 79.1 160.0 74.4 160.5 70.2 161.0 66.6 161.5 63.6 162.0 61.3 162.5 59.9 163.0 59.4 163.5 59.8 164.0 60.8 164.5 62.5 165.0 64.7 165.5 67.4 166.0 70.6 166.5 74.1 167.0 77.9 167.5 82.0 168.0 86.2 168.5 90.5 169.0 94.8 169.5 99.1 170.0 103.3 170.5 107.4 171.0 111.3 171.5 114.8 172.0 118.0 172.5 121.1 173.0 124.5 173.5 128.0 174.0 131.6 174.5 135.3 175.0 139.0 175.5 142.7 176.0 146.3 176.5 149.7 177.0 152.9 177.5 155.9 178.0 158.5 178.5 160.8 179.0 162.7 179.5 164.1 180.0 165.0 180.5 165.3 181.0 165.3 181.5 165.1 182.0 164.9 182.5 164.7 183.0 164.3 183.5 163.9 184.0 163.5 184.5 162.9 185.0 162.4 185.5 161.8 186.0 161.2 186.5 160.5 187.0 159.8 187.5 159.1 188.0 158.4 188.5 157.6 189.0 156.9 189.5 156.2 190.0 155.4 190.5 154.7 191.0 154.0 191.5 153.3 192.0 152.7 192.5 152.0 193.0 151.4 193.5 150.8 194.0 150.1 194.5 149.4 195.0 148.7 195.5 147.9 196.0 147.1 196.5 146.3 197.0 145.5 197.5 144.7 198.0 143.8 198.5 143.0 199.0 142.1 199.5 141.2 200.0 140.4 200.5 139.5 201.0 138.6 201.5 137.8 202.0 137.0 202.5 136.2 203.0 135.4 203.5 134.6 204.0 133.8 204.5 133.1 205.0 132.4 205.5 131.8 206.0 131.2 206.5 130.6 207.0 130.1 207.5 129.6 208.0 129.2 208.5 128.8 209.0 128.5 209.5 128.2 210.0 128.0 210.5 127.9 211.0 127.8 211.5 127.8 212.0 128.0 212.5 128.3 213.0 128.7 213.5 129.3 214.0 129.9 214.5 130.7 215.0 131.6 215.5 132.5 216.0 133.5 216.5 134.6 217.0 135.8 217.5 137.0 218.0 138.2 218.5 139.5 219.0 140.8 219.5 142.2 220.0 143.5 220.5 144.9 221.0 146.2 221.5 147.5 222.0 148.8 222.5 150.1 223.0 151.3 223.5 152.5 224.0 153.6 224.5 154.7 225.0 155.7 225.5 156.6 226.0 157.4 226.5 158.1 227.0 158.7 227.5 159.2 228.0 159.5 228.5 159.7 229.0 159.8 229.5 159.8 230.0 159.6 230.5 159.5 231.0 159.2 231.5 158.9 232.0 158.5 232.5 158.1 233.0 157.6 233.5 157.0 234.0 156.5 234.5 155.8 235.0 155.2 235.5 154.5 236.0 153.8 236.5 153.1 237.0 152.3 237.5 151.6 238.0 150.8 238.5 150.1 239.0 149.3 239.5 148.6 240.0 147.8 240.5 147.1 241.0 146.4 241.5 145.7 242.0 145.0 242.5 144.4 243.0 143.8 243.5 143.2 244.0 142.7 244.5 142.3 245.0 141.9 245.5 141.5 246.0 141.2 246.5 141.0 247.0 140.9 247.5 140.8 248.0 140.8 248.5 140.8 249.0 140.9 249.5 141.0 250.0 141.1 250.5 141.2 251.0 141.4 251.5 141.6 252.0 141.8 252.5 142.0 253.0 142.2 253.5 142.4 254.0 142.6 254.5 142.8 255.0 143.0 255.5 143.2 256.0 143.4 256.5 143.6 257.0 143.8 257.5 144.0 258.0 144.2 258.5 144.3 259.0 144.4 259.5 144.5 260.0 144.6 260.5 144.6 261.0 144.6 261.5 144.6 262.0 144.6 262.5 144.5 263.0 144.5 263.5 144.4 264.0 144.3 264.5 144.2 265.0 144.1 265.5 144.1 266.0 144.0 266.5 143.9 267.0 143.8 267.5 143.7 268.0 143.6 268.5 143.5 269.0 143.4 269.5 143.3 270.0 143.2 270.5 143.2 271.0 143.1 271.5 143.1 272.0 143.0 272.5 143.0 273.0 143.0 273.5 143.0 274.0 143.0 274.5 143.0 275.0 143.1 275.5 143.1 276.0 143.1 276.5 143.1 277.0 143.2 277.5 143.2 278.0 143.2 278.5 143.3 279.0 143.3 279.5 143.3 280.0 143.4 280.5 143.4 281.0 143.4 281.5 143.4 282.0 143.5 282.5 143.5 283.0 143.5 283.5 143.5 284.0 143.5 284.5 143.5 285.0 143.5 285.5 143.4 286.0 143.4 286.5 143.3 287.0 143.2 287.5 143.2 288.0 143.1 288.5 143.0 289.0 142.9 289.5 142.8 290.0 142.7 290.5 142.7 291.0 142.6 291.5 142.5 292.0 142.4 292.5 142.3 293.0 142.2 293.5 142.2 294.0 142.1 294.5 142.0 295.0 142.0 295.5 141.9 296.0 141.9 296.5 141.9 297.0 141.9 297.5 141.9 298.0 142.0 298.5 142.0 299.0 142.1 299.5 142.1 300.0 142.2 300.5 142.3 301.0 142.5 301.5 142.6 302.0 142.7 302.5 142.9 303.0 143.0 303.5 143.2 304.0 143.3 304.5 143.5 305.0 143.7 305.5 143.8 306.0 144.0 306.5 144.2 307.0 144.4 307.5 144.5 308.0 144.7 308.5 144.9 309.0 145.0 309.5 145.2 310.0 145.3 310.5 145.5 311.0 145.6 311.5 145.7 312.0 145.8 312.5 145.9 313.0 146.0 313.5 146.1 314.0 146.1 314.5 146.2 315.0 146.2 315.5 146.2 316.0 146.2 316.5 146.1 317.0 146.1 317.5 146.0 318.0 145.9 318.5 145.8 319.0 145.6 319.5 145.5 320.0 145.3 320.5 145.1 321.0 144.9 321.5 144.7 322.0 144.5 322.5 144.3 323.0 144.1 323.5 143.8 324.0 143.6 324.5 143.4 325.0 143.2 325.5 143.0 326.0 142.8 326.5 142.6 327.0 142.4 327.5 142.2 328.0 142.0 328.5 141.9 329.0 141.7 329.5 141.6 330.0 141.5 330.5 141.4 331.0 141.4 331.5 141.3 332.0 141.3 332.5 141.3 333.0 141.4 333.5 141.5 334.0 141.7 334.5 141.9 335.0 142.1 335.5 142.4 336.0 142.7 336.5 143.0 337.0 143.3 337.5 143.7 338.0 144.0 338.5 144.4 339.0 144.8 339.5 145.1 340.0 145.5 340.5 145.9 341.0 146.2 341.5 146.6 342.0 146.9 342.5 147.2 343.0 147.5 343.5 147.7 344.0 147.9 344.5 148.1 345.0 148.3 345.5 148.3 346.0 148.4 346.5 148.4 347.0 148.3 347.5 148.1 348.0 147.9 348.5 147.6 349.0 147.2 349.5 146.8 350.0 146.4 350.5 145.9 351.0 145.3 351.5 144.8 352.0 144.2 352.5 143.6 353.0 143.0 353.5 142.4 354.0 141.8 354.5 141.2 355.0 140.6 355.5 140.1 356.0 139.5 356.5 139.0 357.0 138.6 357.5 138.1 358.0 137.8 358.5 137.5 359.0 137.2 359.5 137.0 360.0 136.9 360.5 136.9 361.0 137.0 361.5 137.1 362.0 137.3 362.5 137.6 363.0 138.0 363.5 138.4 364.0 138.8 364.5 139.3 365.0 139.9 365.5 140.5 366.0 141.1 366.5 141.7 367.0 142.3 367.5 142.9 368.0 143.6 368.5 144.2 369.0 144.8 369.5 145.4 370.0 146.0 370.5 146.6 371.0 147.1 371.5 147.5 372.0 147.9 372.5 148.3 373.0 148.6 373.5 148.8 374.0 148.9 374.5 149.0 375.0 149.0 375.5 148.9 376.0 148.8 376.5 148.7 377.0 148.5 377.5 148.2 378.0 148.0 378.5 147.7 379.0 147.4 379.5 147.1 380.0 146.7 380.5 146.4 381.0 146.0 381.5 145.6 382.0 145.3 382.5 144.9 383.0 144.5 383.5 144.2 384.0 143.8 384.5 143.5 385.0 143.2 385.5 142.9 386.0 142.7 386.5 142.4 387.0 142.2 387.5 142.1 388.0 142.0 388.5 141.9 389.0 141.9 389.5 141.9 390.0 141.9 390.5 142.0 391.0 142.1 391.5 142.2 392.0 142.2 392.5 142.4 393.0 142.5 393.5 142.6 394.0 142.8 394.5 142.9 395.0 143.1 395.5 143.2 396.0 143.4 396.5 143.6 397.0 143.8 397.5 144.0 398.0 144.1 398.5 144.3 399.0 144.5 399.5 144.7 400.0 144.9 400.5 145.0 401.0 145.2 401.5 145.3 402.0 145.5 402.5 145.6 403.0 145.7 403.5 145.9 404.0 145.9 404.5 146.0 405.0 146.1 405.5 146.2 406.0 146.2 406.5 146.2 407.0 146.2 407.5 146.2 408.0 146.1 408.5 146.1 409.0 146.0 409.5 145.9 410.0 145.8 410.5 145.7 411.0 145.6 411.5 145.5 412.0 145.3 412.5 145.2 413.0 145.0 413.5 144.8 414.0 144.7 414.5 144.5 415.0 144.3 415.5 144.1 416.0 143.9 416.5 143.7 417.0 143.4 417.5 143.2 418.0 143.0 418.5 142.8 419.0 142.5 419.5 142.3 420.0 142.1 420.5 141.8 421.0 141.6 421.5 141.4 422.0 141.2 422.5 140.9 423.0 140.7 423.5 140.5 424.0 140.3 424.5 140.1 425.0 139.9 425.5 139.7 426.0 139.5 426.5 139.3 427.0 139.2 427.5 139.0 428.0 138.8 428.5 138.7 429.0 138.6 429.5 138.5 430.0 138.3 430.5 138.3 431.0 138.2 431.5 138.1 432.0 138.1 432.5 138.0 433.0 138.0 433.5 138.0 434.0 138.0 434.5 138.1 435.0 138.2 435.5 138.4 436.0 138.5 436.5 138.7 437.0 139.0 437.5 139.2 438.0 139.5 438.5 139.8 439.0 140.1 439.5 140.5 440.0 140.8 440.5 141.2 441.0 141.6 441.5 142.0 442.0 142.4 442.5 142.8 443.0 143.2 443.5 143.6 444.0 144.0 444.5 144.4 445.0 144.8 445.5 145.2 446.0 145.5 446.5 145.9 447.0 146.2 447.5 146.6 448.0 146.9 448.5 147.2 449.0 147.5 449.5 147.7 450.0 147.9 450.5 148.1 451.0 148.3 451.5 148.4 452.0 148.5 452.5 148.6 453.0 148.6 453.5 148.6 454.0 148.6 454.5 148.5 455.0 148.4 455.5 148.3 456.0 148.2 456.5 148.1 457.0 148.0 457.5 147.8 458.0 147.7 458.5 147.5 459.0 147.3 459.5 147.1 460.0 146.9 460.5 146.7 461.0 146.5 461.5 146.3 462.0 146.0 462.5 145.8 463.0 145.6 463.5 145.3 464.0 145.1 464.5 144.8 465.0 144.6 465.5 144.4 466.0 144.2 466.5 143.9 467.0 143.7 467.5 143.5 468.0 143.3 468.5 143.1 469.0 142.9 469.5 142.8 470.0 142.6 470.5 142.5 471.0 142.3 471.5 142.2 472.0 142.1 472.5 142.0 473.0 142.0 473.5 141.9 474.0 141.9 474.5 141.9 475.0 141.9 475.5 141.9 476.0 141.9 476.5 142.0 477.0 142.0 477.5 142.1 478.0 142.1 478.5 142.2 479.0 142.2 479.5 142.3 480.0 142.3 480.5 142.4 481.0 142.5 481.5 142.6 482.0 142.7 482.5 142.7 483.0 142.8 483.5 142.9 484.0 143.0 484.5 143.1 485.0 143.2 485.5 143.3 486.0 143.4 486.5 143.5 487.0 143.6 487.5 143.7 488.0 143.8 488.5 143.9 489.0 144.0 489.5 144.1 490.0 144.2 490.5 144.3 491.0 144.4 491.5 144.4 492.0 144.5 492.5 144.6 493.0 144.7 493.5 144.7 494.0 144.8 494.5 144.9 495.0 144.9 495.5 145.0 496.0 145.0 496.5 145.0 497.0 145.1 497.5 145.1 498.0 145.1 498.5 145.1 499.0 145.1 499.5 145.1 500.0 145.0 500.5 145.0 501.0 144.9 501.5 144.9 502.0 144.8 502.5 144.7 503.0 144.6 503.5 144.5 504.0 144.4 504.5 144.3 505.0 144.2 505.5 144.1 506.0 144.0 506.5 143.9 507.0 143.8 507.5 143.8 508.0 143.7 508.5 143.6 509.0 143.6 509.5 143.5 510.0 143.5 510.5 143.5 511.0 143.5 511.5 143.5 512.0 143.6 512.5 143.6 513.0 143.7 513.5 143.8 514.0 143.9 514.5 144.0 515.0 144.1 515.5 144.2 516.0 144.3 516.5 144.4 517.0 144.5 517.5 144.7 518.0 144.8 518.5 144.9 519.0 145.0 519.5 145.1 520.0 145.2 520.5 145.2 521.0 145.3 521.5 145.4 522.0 145.4 522.5 145.4 523.0 145.4 523.5 145.4 524.0 145.4 524.5 145.3 525.0 145.3 525.5 145.2 526.0 145.2 526.5 145.1 527.0 145.0 527.5 144.9 528.0 144.8 528.5 144.8 529.0 144.7 529.5 144.6 530.0 144.5 530.5 144.4 531.0 144.2 531.5 144.1 532.0 144.0 532.5 143.9 533.0 143.8 533.5 143.7 534.0 143.6 534.5 143.5 535.0 143.4 535.5 143.3 536.0 143.2 536.5 143.1 537.0 143.1 537.5 143.0 538.0 142.9 538.5 142.9 539.0 142.8 539.5 142.8 540.0 142.7 540.5 142.7 541.0 142.7 541.5 142.7 542.0 142.7 542.5 142.7 543.0 142.7 543.5 142.7 544.0 142.7 544.5 142.7 545.0 142.8 545.5 142.8 546.0 142.8 546.5 142.8 547.0 142.8 547.5 142.8 548.0 142.8 548.5 142.9 549.0 142.9 549.5 142.9 550.0 142.9 550.5 143.0 551.0 143.0 551.5 143.0 552.0 143.0 552.5 143.0 553.0 143.1 553.5 143.1 554.0 143.1 554.5 143.1 555.0 143.1 555.5 143.2 556.0 143.2 556.5 143.2 557.0 143.2 557.5 143.2 558.0 143.3 558.5 143.3 559.0 143.3 559.5 143.3 560.0 143.3 560.5 143.3 561.0 143.3 561.5 143.3 562.0 143.3 562.5 143.3 563.0 143.4 563.5 143.4 564.0 143.4 564.5 143.4 565.0 143.4 565.5 143.4 566.0 143.4 566.5 143.4 567.0 143.4 567.5 143.4 568.0 143.4 568.5 143.5 569.0 143.5 569.5 143.5 570.0 143.5 570.5 143.5 571.0 143.5 571.5 143.5 572.0 143.5 572.5 143.5 573.0 143.5 573.5 143.5 574.0 143.6 574.5 143.6 575.0 143.6 575.5 143.6 576.0 143.6 576.5 143.6 577.0 143.6 577.5 143.6 578.0 143.6 578.5 143.6 579.0 143.6 579.5 143.6 580.0 143.6 580.5 143.7 581.0 143.7 581.5 143.7 582.0 143.7 582.5 143.7 583.0 143.7 583.5 143.7 584.0 143.7 584.5 143.7 585.0 143.7 585.5 143.7 586.0 143.7 586.5 143.7 587.0 143.7 587.5 143.7 588.0 143.7 588.5 143.7 589.0 143.7 589.5 143.8 590.0 143.8 590.5 143.8 591.0 143.8 591.5 143.8 592.0 143.8 592.5 143.8 593.0 143.8 593.5 143.8 594.0 143.8 594.5 143.8 595.0 143.8 595.5 143.8 596.0 143.8 596.5 143.8 597.0 143.8 597.5 143.8 598.0 143.8 598.5 143.8 599.0 143.8 599.5 143.8 600.0 143.8 600.5 143.8 601.0 143.8 601.5 143.8 602.0 143.8 602.5 143.8 603.0 143.8 603.5 143.8 604.0 143.8 604.5 143.8 605.0 143.8 605.5 143.8 606.0 143.8 606.5 143.8 607.0 143.8 607.5 143.7 608.0 143.7 608.5 143.7 609.0 143.7 609.5 143.7 610.0 143.7 610.5 143.7 611.0 143.7 611.5 143.7 612.0 143.7 612.5 143.7 613.0 143.7 613.5 143.6 614.0 143.6 614.5 143.6 615.0 143.6 615.5 143.6 616.0 143.6 616.5 143.6 617.0 143.6 617.5 143.6 618.0 143.5 618.5 143.5 619.0 143.5 619.5 143.5 620.0 143.5 620.5 143.5 621.0 143.5 621.5 143.5 622.0 143.5 622.5 143.4 623.0 143.4 623.5 143.4 624.0 143.4 624.5 143.4 625.0 143.4 625.5 143.4 626.0 143.4 626.5 143.4 627.0 143.3 627.5 143.3 628.0 143.3 628.5 143.3 629.0 143.3 629.5 143.3 630.0 143.3 630.5 143.3 631.0 143.3 631.5 143.3 632.0 143.3 632.5 143.3 633.0 143.2 633.5 143.2 634.0 143.2 634.5 143.2 635.0 143.2 635.5 143.2 636.0 143.2 636.5 143.2 637.0 143.2 637.5 143.2 638.0 143.2 638.5 143.2 639.0 143.2 639.5 143.2 640.0 143.2 640.5 143.2 641.0 143.2 641.5 143.2 642.0 143.2 642.5 143.2 643.0 143.2 643.5 143.2 644.0 143.2 644.5 143.2 645.0 143.2 645.5 143.2 646.0 143.2 646.5 143.2 647.0 143.2 647.5 143.2 648.0 143.2 648.5 143.2 649.0 143.2 649.5 143.2 650.0 143.2 650.5 143.2 651.0 143.2 651.5 143.2 652.0 143.2 652.5 143.2 653.0 143.2 653.5 143.2 654.0 143.2 654.5 143.2 655.0 143.2 655.5 143.2 656.0 143.2 656.5 143.2 657.0 143.2 657.5 143.2 658.0 143.2 658.5 143.2 659.0 143.2 659.5 143.2 660.0 143.2 660.5 143.2 661.0 143.2 661.5 143.2 662.0 143.2 662.5 143.2 663.0 143.2 663.5 143.2 664.0 143.2 664.5 143.2 665.0 143.2 665.5 143.2 666.0 143.2 666.5 143.2 667.0 143.2 667.5 143.2 668.0 143.3 668.5 143.3 669.0 143.3 669.5 143.3 670.0 143.3 670.5 143.3 671.0 143.3 671.5 143.3 672.0 143.3 672.5 143.3 673.0 143.3 673.5 143.3 674.0 143.3 674.5 143.3 675.0 143.3 675.5 143.3 676.0 143.3 676.5 143.3 677.0 143.3 677.5 143.3 678.0 143.3 678.5 143.3 679.0 143.3 679.5 143.3 680.0 143.3 680.5 143.3 681.0 143.3 681.5 143.4 682.0 143.4 682.5 143.4 683.0 143.4 683.5 143.4 684.0 143.4 684.5 143.4 685.0 143.4 685.5 143.4 686.0 143.4 686.5 143.4 687.0 143.4 687.5 143.4 688.0 143.4 688.5 143.4 689.0 143.4 689.5 143.5 690.0 143.5 690.5 143.5 691.0 143.5 691.5 143.5 692.0 143.5 692.5 143.5 693.0 143.5 693.5 143.5 694.0 143.5 694.5 143.5 695.0 143.5 695.5 143.6 696.0 143.6 696.5 143.6 697.0 143.6 697.5 143.6 698.0 143.6" stroke="#f00" stroke-width="2.2"/>
<path d="M96.0 144.8L96.5 144.9 97.0 145.0 97.5 145.1 98.0 145.2 98.5 145.2 99.0 145.3 99.5 145.3 100.0 145.4 100.5 145.4 101.0 145.4 101.5 145.4 102.0 145.4 102.5 145.4 103.0 145.3 103.5 145.3 104.0 145.2 104.5 145.2 105.0 145.1 105.5 145.0 106.0 145.0 106.5 144.9 107.0 144.8 107.5 144.7 108.0 144.6 108.5 144.5 109.0 144.5 109.5 144.4 110.0 144.3 110.5 144.2 111.0 144.1 111.5 144.0 112.0 143.9 112.5 143.7 113.0 143.6 113.5 143.4 114.0 143.3 114.5 143.1 115.0 143.0 115.5 142.8 116.0 142.7 116.5 142.5 117.0 142.4 117.5 142.2 118.0 142.1 118.5 142.0 119.0 141.9 119.5 141.9 120.0 141.8 120.5 141.8 121.0 141.8 121.5 141.8 122.0 141.9 122.5 142.0 123.0 142.1 123.5 142.3 124.0 142.5 124.5 142.7 125.0 142.9 125.5 143.2 126.0 143.5 126.5 143.8 127.0 144.1 127.5 144.4 128.0 144.8 128.5 145.1 129.0 145.5 129.5 145.9 130.0 146.3 130.5 146.8 131.0 147.3 131.5 148.0 132.0 148.9 132.5 149.8 133.0 150.8 133.5 151.9 134.0 153.0 134.5 154.2 135.0 155.5 135.5 156.7 136.0 158.0 136.5 159.3 137.0 160.6 137.5 161.8 138.0 163.3 138.5 164.9 139.0 166.7 139.5 168.6 140.0 170.6 140.5 172.7 141.0 174.7 141.5 176.8 142.0 178.7 142.5 180.5 143.0 182.2 143.5 183.6 144.0 184.8 144.5 185.8 145.0 186.4 145.5 186.7 146.0 186.5 146.5 185.5 147.0 183.8 147.5 181.6 148.0 178.8 148.5 175.6 149.0 171.9 149.5 167.9 150.0 163.6 150.5 159.1 151.0 154.5 151.5 149.8 152.0 145.0 152.5 140.3 153.0 135.8 153.5 131.4 154.0 127.3 154.5 123.4 155.0 120.0 155.5 116.6 156.0 113.0 156.5 109.2 157.0 105.3 157.5 101.3 158.0 97.4 158.5 93.5 159.0 89.7 159.5 86.2 160.0 82.9 160.5 80.0 161.0 77.4 161.5 75.3 162.0 73.7 162.5 72.7 163.0 72.4 163.5 72.7 164.0 73.6 164.5 75.0 165.0 76.8 165.5 79.1 166.0 81.7 166.5 84.6 167.0 87.8 167.5 91.1 168.0 94.6 168.5 98.1 169.0 101.6 169.5 105.1 170.0 108.5 170.5 111.8 171.0 114.8 171.5 117.6 172.0 120.0 172.5 122.3 173.0 124.7 173.5 127.1 174.0 129.6 174.5 132.2 175.0 134.7 175.5 137.3 176.0 139.9 176.5 142.5 177.0 145.1 177.5 147.6 178.0 150.2 178.5 152.6 179.0 155.0 179.5 157.4 180.0 159.6 180.5 161.8 181.0 163.9 181.5 165.8 182.0 167.6 182.5 169.3 183.0 170.8 183.5 172.2 184.0 173.4 184.5 174.4 185.0 175.2 185.5 175.8 186.0 176.2 186.5 176.4 187.0 176.2 187.5 175.6 188.0 174.4 188.5 172.9 189.0 170.9 189.5 168.7 190.0 166.1 190.5 163.3 191.0 160.4 191.5 157.2 192.0 154.0 192.5 150.8 193.0 147.5 193.5 144.3 194.0 141.2 194.5 138.1 195.0 135.3 195.5 132.7 196.0 130.4 196.5 128.4 197.0 126.8 197.5 125.5 198.0 124.8 198.5 124.5 199.0 124.6 199.5 125.0 200.0 125.5 200.5 126.3 201.0 127.2 201.5 128.2 202.0 129.4 202.5 130.7 203.0 132.1 203.5 133.5 204.0 135.0 204.5 136.5 205.0 137.9 205.5 139.4 206.0 140.9 206.5 142.2 207.0 143.5 207.5 144.7 208.0 145.8 208.5 146.8 209.0 147.5 209.5 148.1 210.0 148.5 210.5 148.7 211.0 148.6 211.5 148.0 212.0 147.1 212.5 146.0 213.0 144.5 213.5 142.8 214.0 141.0 214.5 139.1 215.0 137.1 215.5 135.0 216.0 133.0 216.5 131.1 217.0 129.3 217.5 127.7 218.0 126.3 218.5 125.2 219.0 124.3 219.5 123.9 220.0 123.8 220.5 124.2 221.0 125.0 221.5 126.1 222.0 127.6 222.5 129.4 223.0 131.4 223.5 133.7 224.0 136.2 224.5 138.8 225.0 141.6 225.5 144.5 226.0 147.4 226.5 150.4 227.0 153.4 227.5 156.3 228.0 159.2 228.5 162.0 229.0 164.7 229.5 167.2 230.0 169.5 230.5 171.6 231.0 173.4 231.5 175.0 232.0 176.2 232.5 177.1 233.0 177.5 233.5 177.6 234.0 177.1 234.5 176.0 235.0 174.6 235.5 172.7 236.0 170.4 236.5 167.8 237.0 164.9 237.5 161.8 238.0 158.5 238.5 155.1 239.0 151.6 239.5 148.1 240.0 144.6 240.5 141.1 241.0 137.7 241.5 134.5 242.0 131.5 242.5 128.7 243.0 126.3 243.5 124.1 244.0 122.4 244.5 121.1 245.0 120.3 245.5 120.0 246.0 120.2 246.5 121.0 247.0 122.1 247.5 123.6 248.0 125.4 248.5 127.6 249.0 130.0 249.5 132.6 250.0 135.4 250.5 138.3 251.0 141.3 251.5 144.3 252.0 147.3 252.5 150.3 253.0 153.2 253.5 156.0 254.0 158.6 254.5 161.0 255.0 163.2 255.5 165.0 256.0 166.5 256.5 167.6 257.0 168.4 257.5 168.6 258.0 168.4 258.5 167.9 259.0 167.1 259.5 166.1 260.0 164.7 260.5 163.2 261.0 161.4 261.5 159.5 262.0 157.4 262.5 155.2 263.0 152.9 263.5 150.5 264.0 148.1 264.5 145.6 265.0 143.1 265.5 140.7 266.0 138.2 266.5 135.9 267.0 133.6 267.5 131.5 268.0 129.5 268.5 127.7 269.0 126.1 269.5 124.6 270.0 123.5 270.5 122.6 271.0 121.9 271.5 121.6 272.0 121.7 272.5 122.1 273.0 123.0 273.5 124.1 274.0 125.5 274.5 127.1 275.0 128.9 275.5 130.8 276.0 132.7 276.5 134.7 277.0 136.6 277.5 138.4 278.0 140.1 278.5 141.6 279.0 142.8 279.5 143.8 280.0 144.4 280.5 144.6 281.0 144.6 281.5 144.6 282.0 144.6 282.5 144.6 283.0 144.6 283.5 144.6 284.0 144.6 284.5 144.6 285.0 144.4 285.5 144.0 286.0 143.2 286.5 142.3 287.0 141.1 287.5 139.8 288.0 138.3 288.5 136.8 289.0 135.2 289.5 133.6 290.0 131.9 290.5 130.4 291.0 128.9 291.5 127.6 292.0 126.4 292.5 125.3 293.0 124.6 293.5 124.0 294.0 123.8 294.5 123.9 295.0 124.3 295.5 125.0 296.0 126.0 296.5 127.2 297.0 128.6 297.5 130.2 298.0 132.0 298.5 133.9 299.0 136.0 299.5 138.1 300.0 140.4 300.5 142.7 301.0 145.0 301.5 147.4 302.0 149.7 302.5 152.0 303.0 154.2 303.5 156.3 304.0 158.4 304.5 160.3 305.0 162.0 305.5 163.6 306.0 165.0 306.5 166.1 307.0 167.1 307.5 167.7 308.0 168.0 308.5 168.1 309.0 167.6 309.5 166.8 310.0 165.5 310.5 164.0 311.0 162.2 311.5 160.2 312.0 158.0 312.5 155.7 313.0 153.4 313.5 151.0 314.0 148.8 314.5 146.6 315.0 144.6 315.5 142.8 316.0 141.4 316.5 140.2 317.0 139.2 317.5 138.2 318.0 137.2 318.5 136.3 319.0 135.4 319.5 134.5 320.0 133.7 320.5 133.0 321.0 132.4 321.5 132.0 322.0 131.7 322.5 131.5 323.0 131.5 323.5 131.8 324.0 132.2 324.5 132.8 325.0 133.5 325.5 134.4 326.0 135.4 326.5 136.5 327.0 137.7 327.5 138.9 328.0 140.2 328.5 141.6 329.0 143.0 329.5 144.3 330.0 145.7 330.5 147.0 331.0 148.2 331.5 149.4 332.0 150.5 332.5 151.5 333.0 152.4 333.5 153.1 334.0 153.7 334.5 154.1 335.0 154.4 335.5 154.4 336.0 154.2 336.5 154.0 337.0 153.6 337.5 153.1 338.0 152.5 338.5 151.8 339.0 151.1 339.5 150.3 340.0 149.6 340.5 148.8 341.0 148.1 341.5 147.3 342.0 146.7 342.5 145.9 343.0 145.1 343.5 144.3 344.0 143.3 344.5 142.3 345.0 141.3 345.5 140.4 346.0 139.4 346.5 138.5 347.0 137.6 347.5 136.8 348.0 136.2 348.5 135.6 349.0 135.2 349.5 134.9 350.0 134.8 350.5 134.8 351.0 135.0 351.5 135.2 352.0 135.5 352.5 135.8 353.0 136.1 353.5 136.5 354.0 136.9 354.5 137.2 355.0 137.5 355.5 137.8 356.0 138.2 356.5 138.6 357.0 139.0 357.5 139.4 358.0 139.8 358.5 140.1 359.0 140.4 359.5 140.6 360.0 140.8 360.5 140.8 361.0 140.5 361.5 139.9 362.0 139.2 362.5 138.5 363.0 137.9 363.5 137.5 364.0 137.6 364.5 138.2 365.0 139.1 365.5 140.3 366.0 141.6 366.5 142.8 367.0 143.9 367.5 144.7 368.0 145.1 368.5 145.0 369.0 144.5 369.5 143.8 370.0 142.9 370.5 142.1 371.0 141.4 371.5 140.9 372.0 140.8 372.5 141.4 373.0 142.6 373.5 144.2 374.0 146.1 374.5 147.9 375.0 149.5 375.5 150.8 376.0 151.5 376.5 152.2 377.0 152.8 377.5 153.4 378.0 154.0 378.5 154.6 379.0 155.1 379.5 155.6 380.0 156.1 380.5 156.5 381.0 156.9 381.5 157.3 382.0 157.6 382.5 157.8 383.0 158.0 383.5 158.2 384.0 158.3 384.5 158.3 385.0 158.1 385.5 157.7 386.0 157.0 386.5 156.1 387.0 154.9 387.5 153.6 388.0 152.1 388.5 150.5 389.0 148.8 389.5 147.1 390.0 145.3 390.5 143.4 391.0 141.6 391.5 139.9 392.0 138.2 392.5 136.6 393.0 135.1 393.5 133.8 394.0 132.6 394.5 131.7 395.0 131.0 395.5 130.6 396.0 130.4 396.5 130.6 397.0 131.0 397.5 131.8 398.0 132.7 398.5 133.8 399.0 135.0 399.5 136.3 400.0 137.7 400.5 139.0 401.0 140.3 401.5 141.5 402.0 142.6 402.5 143.6 403.0 144.8 403.5 146.0 404.0 147.3 404.5 148.5 405.0 149.8 405.5 151.0 406.0 152.2 406.5 153.3 407.0 154.3 407.5 155.1 408.0 155.8 408.5 156.3 409.0 156.6 409.5 156.6 410.0 156.3 410.5 155.8 411.0 155.1 411.5 154.2 412.0 153.1 412.5 151.9 413.0 150.5 413.5 149.0 414.0 147.5 414.5 145.9 415.0 144.2 415.5 142.5 416.0 140.9 416.5 139.2 417.0 137.7 417.5 136.2 418.0 134.8 418.5 133.5 419.0 132.4 419.5 131.4 420.0 130.7 420.5 130.1 421.0 129.8 421.5 129.8 422.0 130.0 422.5 130.4 423.0 131.1 423.5 131.8 424.0 132.8 424.5 133.8 425.0 135.0 425.5 136.2 426.0 137.6 426.5 138.9 427.0 140.3 427.5 141.7 428.0 143.1 428.5 144.4 429.0 145.7 429.5 146.8 430.0 147.9 430.5 148.9 431.0 149.7 431.5 150.3 432.0 150.8 432.5 151.1 433.0 151.1 433.5 150.9 434.0 150.5 434.5 149.9 435.0 149.2 435.5 148.4 436.0 147.4 436.5 146.4 437.0 145.2 437.5 144.1 438.0 142.9 438.5 141.7 439.0 140.5 439.5 139.4 440.0 138.3 440.5 137.3 441.0 136.2 441.5 134.8 442.0 133.4 442.5 132.1 443.0 130.8 443.5 129.8 444.0 129.0 444.5 128.7 445.0 128.8 445.5 129.2 446.0 130.0 446.5 130.9 447.0 132.1 447.5 133.5 448.0 135.1 448.5 136.7 449.0 138.5 449.5 140.3 450.0 142.2 450.5 144.0 451.0 145.8 451.5 147.5 452.0 149.1 452.5 150.6 453.0 152.1 453.5 153.8 454.0 155.7 454.5 157.5 455.0 159.3 455.5 161.0 456.0 162.4 456.5 163.5 457.0 164.1 457.5 164.3 458.0 163.5 458.5 161.8 459.0 159.4 459.5 156.5 460.0 153.3 460.5 150.0 461.0 146.8 461.5 144.0 462.0 141.8 462.5 140.2 463.0 138.9 463.5 137.5 464.0 136.1 464.5 134.8 465.0 133.6 465.5 132.4 466.0 131.3 466.5 130.3 467.0 129.5 467.5 128.7 468.0 128.1 468.5 127.7 469.0 127.5 469.5 127.4 470.0 127.6 470.5 128.0 471.0 128.7 471.5 129.6 472.0 130.6 472.5 131.8 473.0 133.2 473.5 134.6 474.0 136.2 474.5 137.8 475.0 139.5 475.5 141.2 476.0 142.9 476.5 144.6 477.0 146.3 477.5 147.9 478.0 149.4 478.5 150.8 479.0 152.0 479.5 153.1 480.0 154.1 480.5 154.8 481.0 155.4 481.5 155.7 482.0 155.6 482.5 154.8 483.0 153.2 483.5 151.0 484.0 148.5 484.5 145.9 485.0 143.3 485.5 141.1 486.0 139.2 486.5 138.1 487.0 137.6 487.5 137.2 488.0 137.0 488.5 136.7 489.0 136.5 489.5 136.3 490.0 136.0 490.5 135.7 491.0 135.2 491.5 134.2 492.0 132.8 492.5 131.2 493.0 129.7 493.5 128.5 494.0 127.8 494.5 127.9 495.0 129.1 495.5 131.1 496.0 133.8 496.5 137.0 497.0 140.4 497.5 143.9 498.0 147.3 498.5 150.3 499.0 152.8 499.5 154.5 500.0 155.6 500.5 156.5 501.0 157.3 501.5 158.1 502.0 158.9 502.5 159.6 503.0 160.2 503.5 160.7 504.0 161.2 504.5 161.6 505.0 161.9 505.5 162.0 506.0 162.1 506.5 162.0 507.0 161.5 507.5 160.9 508.0 160.0 508.5 158.9 509.0 157.7 509.5 156.2 510.0 154.7 510.5 153.1 511.0 151.3 511.5 149.5 512.0 147.7 512.5 145.9 513.0 144.1 513.5 142.3 514.0 140.5 514.5 138.9 515.0 137.4 515.5 135.9 516.0 134.7 516.5 133.6 517.0 132.7 517.5 132.1 518.0 131.6 518.5 131.5 519.0 131.8 519.5 132.7 520.0 134.1 520.5 135.8 521.0 137.8 521.5 139.8 522.0 141.8 522.5 143.7 523.0 145.3 523.5 146.5 524.0 147.2 524.5 147.3 525.0 147.0 525.5 146.6 526.0 146.1 526.5 145.5 527.0 145.0 527.5 144.6 528.0 144.5 528.5 144.5 529.0 144.6 529.5 144.7 530.0 144.9 530.5 145.0 531.0 145.1 531.5 145.1 532.0 144.5 532.5 143.2 533.0 141.5 533.5 139.4 534.0 137.3 534.5 135.3 535.0 133.5 535.5 132.3 536.0 131.6 536.5 131.1 537.0 130.5 537.5 130.0 538.0 129.5 538.5 129.0 539.0 128.6 539.5 128.2 540.0 127.9 540.5 127.6 541.0 127.4 541.5 127.2 542.0 127.1 542.5 127.1 543.0 127.6 543.5 128.9 544.0 131.0 544.5 133.5 545.0 136.4 545.5 139.5 546.0 142.5 546.5 145.3 547.0 147.8 547.5 149.8 548.0 151.1 548.5 152.2 549.0 153.3 549.5 154.4 550.0 155.5 550.5 156.5 551.0 157.4 551.5 158.2 552.0 159.0 552.5 159.7 553.0 160.3 553.5 160.7 554.0 161.1 554.5 161.3 555.0 161.3 555.5 161.1 556.0 160.6 556.5 159.9 557.0 159.0 557.5 157.9 558.0 156.6 558.5 155.2 559.0 153.7 559.5 152.1 560.0 150.4 560.5 148.6 561.0 146.9 561.5 145.2 562.0 143.5 562.5 141.8 563.0 140.3 563.5 138.9 564.0 137.5 564.5 136.4 565.0 135.4 565.5 134.7 566.0 134.2 566.5 133.9 567.0 134.0 567.5 134.6 568.0 135.5 568.5 136.8 569.0 138.3 569.5 139.9 570.0 141.5 570.5 143.0 571.0 144.3 571.5 145.2 572.0 145.8 572.5 145.9 573.0 145.6 573.5 145.1 574.0 144.5 574.5 143.8 575.0 143.2 575.5 142.8 576.0 142.6 576.5 142.9 577.0 143.5 577.5 144.5 578.0 145.6 578.5 146.6 579.0 147.6 579.5 148.2 580.0 148.5 580.5 148.3 581.0 147.7 581.5 146.8 582.0 145.7 582.5 144.5 583.0 143.3 583.5 142.1 584.0 141.1 584.5 140.4 585.0 140.0 585.5 140.0 586.0 140.1 586.5 140.2 587.0 140.4 587.5 140.7 588.0 141.0 588.5 141.4 589.0 141.8 589.5 142.2 590.0 142.7 590.5 143.2 591.0 143.8 591.5 144.3 592.0 144.9 592.5 145.5 593.0 146.4 593.5 147.7 594.0 149.2 594.5 151.0 595.0 152.8 595.5 154.5 596.0 156.0 596.5 157.1 597.0 157.8 597.5 157.9 598.0 157.8 598.5 157.7 599.0 157.5 599.5 157.2 600.0 156.9 600.5 156.5 601.0 156.1 601.5 155.6 602.0 155.1 602.5 154.6 603.0 154.0 603.5 153.5 604.0 152.7 604.5 151.5 605.0 150.2 605.5 148.6 606.0 147.0 606.5 145.3 607.0 143.5 607.5 141.9 608.0 140.4 608.5 139.1 609.0 138.0 609.5 137.1 610.0 136.1 610.5 135.2 611.0 134.3 611.5 133.4 612.0 132.5 612.5 131.7 613.0 130.9 613.5 130.2 614.0 129.6 614.5 129.0 615.0 128.6 615.5 128.3 616.0 128.1 616.5 128.0 617.0 128.1 617.5 128.6 618.0 129.2 618.5 130.1 619.0 131.2 619.5 132.4 620.0 133.8 620.5 135.4 621.0 137.0 621.5 138.7 622.0 140.4 622.5 142.2 623.0 144.0 623.5 145.7 624.0 147.4 624.5 149.0 625.0 150.6 625.5 152.0 626.0 153.2 626.5 154.3 627.0 155.2 627.5 155.8 628.0 156.3 628.5 156.4 629.0 156.3 629.5 156.0 630.0 155.5 630.5 154.8 631.0 153.9 631.5 153.0 632.0 151.9 632.5 150.7 633.0 149.4 633.5 148.1 634.0 146.7 634.5 145.3 635.0 143.9 635.5 142.5 636.0 141.1 636.5 139.8 637.0 138.5 637.5 137.3 638.0 136.2 638.5 135.3 639.0 134.4 639.5 133.7 640.0 133.2 640.5 132.9 641.0 132.8 641.5 133.0 642.0 133.6 642.5 134.6 643.0 135.8 643.5 137.3 644.0 138.9 644.5 140.5 645.0 142.2 645.5 143.9 646.0 145.5 646.5 146.8 647.0 148.0 647.5 149.1 648.0 150.2 648.5 151.3 649.0 152.5 649.5 153.6 650.0 154.7 650.5 155.7 651.0 156.6 651.5 157.3 652.0 157.9 652.5 158.4 653.0 158.6 653.5 158.5 654.0 158.2 654.5 157.6 655.0 156.7 655.5 155.7 656.0 154.4 656.5 152.9 657.0 151.3 657.5 149.6 658.0 147.9 658.5 146.0 659.0 144.1 659.5 142.2 660.0 140.4 660.5 138.6 661.0 136.8 661.5 135.2 662.0 133.7 662.5 132.3 663.0 131.2 663.5 130.2 664.0 129.5 664.5 129.1 665.0 128.9 665.5 129.0 666.0 129.5 666.5 130.2 667.0 131.1 667.5 132.2 668.0 133.5 668.5 134.9 669.0 136.5 669.5 138.2 670.0 140.0 670.5 141.8 671.0 143.6 671.5 145.5 672.0 147.4 672.5 149.2 673.0 150.9 673.5 152.5 674.0 154.1 674.5 155.5 675.0 156.7 675.5 157.7 676.0 158.5 676.5 159.1 677.0 159.4 677.5 159.5 678.0 159.2 678.5 158.7 679.0 158.0 679.5 157.1 680.0 155.9 680.5 154.6 681.0 153.2 681.5 151.6 682.0 149.9 682.5 148.2 683.0 146.4 683.5 144.5 684.0 142.6 684.5 140.8 685.0 139.0 685.5 137.2 686.0 135.5 686.5 133.8 687.0 132.3 687.5 131.0 688.0 129.8 688.5 128.8 689.0 127.9 689.5 127.3 690.0 127.0 690.5 126.9 691.0 127.1 691.5 127.5 692.0 128.2 692.5 129.1 693.0 130.3 693.5 131.6 694.0 133.1 694.5 134.9 695.0 136.7 695.5 138.8 696.0 141.0 696.5 143.3 697.0 145.7 697.5 148.2 698.0 150.9 698.5 153.6" stroke="#000" stroke-width="2.6"/>
<path d="M96.0 144.8L96.5 144.9 97.0 145.0 97.5 145.1 98.0 145.2 98.5 145.3 99.0 145.4 99.5 145.4 100.0 145.5 100.5 145.5 101.0 145.5 101.5 145.5 102.0 145.5 102.5 145.4 103.0 145.4 103.5 145.4 104.0 145.3 104.5 145.2 105.0 145.2 105.5 145.1 106.0 145.0 106.5 144.9 107.0 144.8 107.5 144.7 108.0 144.7 108.5 144.6 109.0 144.5 109.5 144.4 110.0 144.3 110.5 144.2 111.0 144.1 111.5 144.0 112.0 143.9 112.5 143.7 113.0 143.6 113.5 143.4 114.0 143.3 114.5 143.1 115.0 143.0 115.5 142.8 116.0 142.7 116.5 142.5 117.0 142.4 117.5 142.3 118.0 142.2 118.5 142.1 119.0 142.0 119.5 141.9 120.0 141.8 120.5 141.8 121.0 141.8 121.5 141.8 122.0 141.9 122.5 141.9 123.0 142.0 123.5 142.1 124.0 142.3 124.5 142.5 125.0 142.6 125.5 142.8 126.0 143.1 126.5 143.3 127.0 143.6 127.5 143.9 128.0 144.2 128.5 144.5 129.0 144.8 129.5 145.1 130.0 145.5 130.5 145.9 131.0 146.5 131.5 147.3 132.0 148.1 132.5 149.1 133.0 150.2 133.5 151.3 134.0 152.6 134.5 153.9 135.0 155.3 135.5 156.7 136.0 158.2 136.5 159.6 137.0 161.1 137.5 162.6 138.0 164.5 138.5 166.7 139.0 169.1 139.5 171.8 140.0 174.7 140.5 177.5 141.0 180.4 141.5 183.2 142.0 185.9 142.5 188.4 143.0 190.5 143.5 192.3 144.0 193.7 144.5 194.6 145.0 194.9 145.5 194.5 146.0 193.4 146.5 191.6 147.0 189.2 147.5 186.2 148.0 182.8 148.5 178.9 149.0 174.7 149.5 170.3 150.0 165.6 150.5 160.7 151.0 155.8 151.5 150.8 152.0 145.9 152.5 141.1 153.0 136.5 153.5 132.1 154.0 128.0 154.5 123.8 155.0 119.3 155.5 114.3 156.0 109.1 156.5 103.7 157.0 98.2 157.5 92.7 158.0 87.3 158.5 81.9 159.0 76.8 159.5 72.0 160.0 67.6 160.5 63.6 161.0 60.2 161.5 57.4 162.0 55.3 162.5 54.0 163.0 53.5 163.5 53.9 164.0 55.1 164.5 57.0 165.0 59.5 165.5 62.5 166.0 66.1 166.5 70.0 167.0 74.2 167.5 78.7 168.0 83.4 168.5 88.2 169.0 93.0 169.5 97.7 170.0 102.3 170.5 106.7 171.0 110.9 171.5 114.6 172.0 118.0 172.5 121.2 173.0 124.6 173.5 128.1 174.0 131.8 174.5 135.4 175.0 139.1 175.5 142.8 176.0 146.4 176.5 149.9 177.0 153.3 177.5 156.5 178.0 159.5 178.5 162.3 179.0 164.8 179.5 166.9 180.0 168.7 180.5 170.1 181.0 171.0 181.5 171.5 182.0 171.5 182.5 171.3 183.0 171.0 183.5 170.5 184.0 169.9 184.5 169.2 185.0 168.4 185.5 167.6 186.0 166.6 186.5 165.6 187.0 164.5 187.5 163.4 188.0 162.3 188.5 161.1 189.0 160.0 189.5 158.8 190.0 157.7 190.5 156.6 191.0 155.6 191.5 154.6 192.0 153.6 192.5 152.8 193.0 152.0 193.5 151.3 194.0 150.5 194.5 149.6 195.0 148.8 195.5 147.9 196.0 147.1 196.5 146.2 197.0 145.3 197.5 144.5 198.0 143.6 198.5 142.7 199.0 141.8 199.5 141.0 200.0 140.1 200.5 139.3 201.0 138.4 201.5 137.6 202.0 136.8 202.5 136.1 203.0 135.3 203.5 134.6 204.0 133.9 204.5 133.3 205.0 132.6 205.5 132.1 206.0 131.5 206.5 131.0 207.0 130.6 207.5 130.2 208.0 129.9 208.5 129.6 209.0 129.3 209.5 129.2 210.0 129.0 210.5 129.0 211.0 129.0 211.5 129.2 212.0 129.4 212.5 129.8 213.0 130.2 213.5 130.8 214.0 131.4 214.5 132.1 215.0 132.9 215.5 133.7 216.0 134.6 216.5 135.5 217.0 136.5 217.5 137.5 218.0 138.5 218.5 139.6 219.0 140.7 219.5 141.8 220.0 142.9 220.5 144.0 221.0 145.2 221.5 146.3 222.0 147.3 222.5 148.4 223.0 149.4 223.5 150.4 224.0 151.4 224.5 152.3 225.0 153.1 225.5 153.9 226.0 154.6 226.5 155.3 227.0 155.9 227.5 156.3 228.0 156.7 228.5 157.0 229.0 157.2 229.5 157.3 230.0 157.3 230.5 157.2 231.0 157.0 231.5 156.7 232.0 156.4 232.5 156.1 233.0 155.6 233.5 155.2 234.0 154.7 234.5 154.1 235.0 153.6 235.5 153.0 236.0 152.4 236.5 151.7 237.0 151.1 237.5 150.5 238.0 149.9 238.5 149.2 239.0 148.7 239.5 148.1 240.0 147.6 240.5 147.0 241.0 146.6 241.5 146.2 242.0 145.8 242.5 145.5 243.0 145.2 243.5 145.1 244.0 145.0 244.5 144.9 245.0 144.8 245.5 144.8 246.0 144.7 246.5 144.7 247.0 144.6 247.5 144.6 248.0 144.5 248.5 144.5 249.0 144.4 249.5 144.3 250.0 144.3 250.5 144.2 251.0 144.1 251.5 143.9 252.0 143.8 252.5 143.6 253.0 143.5 253.5 143.3 254.0 143.1 254.5 142.9 255.0 142.7 255.5 142.5 256.0 142.3 256.5 142.1 257.0 141.9 257.5 141.7 258.0 141.5 258.5 141.4 259.0 141.2 259.5 141.0 260.0 140.9 260.5 140.7 261.0 140.6 261.5 140.5 262.0 140.4 262.5 140.3 263.0 140.2 263.5 140.2 264.0 140.2 264.5 140.2 265.0 140.2 265.5 140.3 266.0 140.3 266.5 140.4 267.0 140.5 267.5 140.6 268.0 140.7 268.5 140.9 269.0 141.0 269.5 141.1 270.0 141.3 270.5 141.4 271.0 141.6 271.5 141.7 272.0 141.8 272.5 142.0 273.0 142.1 273.5 142.3 274.0 142.4 274.5 142.5 275.0 142.6 275.5 142.7 276.0 142.8 276.5 142.9 277.0 142.9 277.5 143.0 278.0 143.0 278.5 143.0 279.0 142.9 279.5 142.7 280.0 142.5 280.5 142.3 281.0 142.0 281.5 141.6 282.0 141.3 282.5 141.0 283.0 140.7 283.5 140.5 284.0 140.3 284.5 140.2 285.0 140.2 285.5 140.2 286.0 140.2 286.5 140.3 287.0 140.3 287.5 140.4 288.0 140.5 288.5 140.5 289.0 140.6 289.5 140.7 290.0 140.8 290.5 141.0 291.0 141.1 291.5 141.2 292.0 141.3 292.5 141.5 293.0 141.6 293.5 141.8 294.0 141.9 294.5 142.1 295.0 142.2 295.5 142.4 296.0 142.6 296.5 142.7 297.0 142.9 297.5 143.0 298.0 143.2 298.5 143.3 299.0 143.5 299.5 143.7 300.0 143.8 300.5 144.0 301.0 144.3 301.5 144.5 302.0 144.7 302.5 145.0 303.0 145.3 303.5 145.5 304.0 145.8 304.5 146.1 305.0 146.4 305.5 146.7 306.0 147.0 306.5 147.2 307.0 147.5 307.5 147.8 308.0 148.1 308.5 148.3 309.0 148.6 309.5 148.8 310.0 149.0 310.5 149.2 311.0 149.4 311.5 149.6 312.0 149.7 312.5 149.8 313.0 149.9 313.5 150.0 314.0 150.0 314.5 150.0 315.0 149.9 315.5 149.8 316.0 149.5 316.5 149.3 317.0 148.9 317.5 148.5 318.0 148.1 318.5 147.6 319.0 147.1 319.5 146.6 320.0 146.0 320.5 145.4 321.0 144.8 321.5 144.3 322.0 143.7 322.5 143.1 323.0 142.6 323.5 142.1 324.0 141.6 324.5 141.2 325.0 140.8 325.5 140.4 326.0 140.2 326.5 139.9 327.0 139.8 327.5 139.7 328.0 139.7 328.5 139.8 329.0 139.9 329.5 140.2 330.0 140.4 330.5 140.7 331.0 141.1 331.5 141.5 332.0 142.0 332.5 142.4 333.0 142.9 333.5 143.5 334.0 144.0 334.5 144.5 335.0 145.1 335.5 145.6 336.0 146.1 336.5 146.7 337.0 147.2 337.5 147.6 338.0 148.1 338.5 148.5 339.0 148.9 339.5 149.2 340.0 149.5 340.5 149.7 341.0 149.9 341.5 150.0 342.0 150.0 342.5 150.0 343.0 149.9 343.5 149.7 344.0 149.6 344.5 149.4 345.0 149.1 345.5 148.8 346.0 148.5 346.5 148.1 347.0 147.8 347.5 147.4 348.0 146.9 348.5 146.5 349.0 146.1 349.5 145.6 350.0 145.1 350.5 144.6 351.0 144.1 351.5 143.7 352.0 143.2 352.5 142.7 353.0 142.2 353.5 141.8 354.0 141.3 354.5 140.9 355.0 140.5 355.5 140.1 356.0 139.7 356.5 139.4 357.0 139.1 357.5 138.8 358.0 138.6 358.5 138.4 359.0 138.2 359.5 138.1 360.0 138.0 360.5 138.0 361.0 138.1 361.5 138.2 362.0 138.3 362.5 138.6 363.0 138.9 363.5 139.2 364.0 139.6 364.5 140.0 365.0 140.5 365.5 140.9 366.0 141.4 366.5 142.0 367.0 142.5 367.5 143.0 368.0 143.6 368.5 144.1 369.0 144.7 369.5 145.2 370.0 145.8 370.5 146.3 371.0 146.8 371.5 147.2 372.0 147.6 372.5 148.0 373.0 148.4 373.5 148.7 374.0 148.9 374.5 149.1 375.0 149.2 375.5 149.3 376.0 149.3 376.5 149.2 377.0 149.1 377.5 149.0 378.0 148.8 378.5 148.6 379.0 148.4 379.5 148.2 380.0 147.9 380.5 147.6 381.0 147.3 381.5 146.9 382.0 146.6 382.5 146.2 383.0 145.9 383.5 145.5 384.0 145.1 384.5 144.8 385.0 144.4 385.5 144.1 386.0 143.8 386.5 143.4 387.0 143.2 387.5 142.9 388.0 142.6 388.5 142.4 389.0 142.2 389.5 142.1 390.0 142.0 390.5 141.9 391.0 141.9 391.5 141.9 392.0 142.0 392.5 142.0 393.0 142.1 393.5 142.2 394.0 142.3 394.5 142.5 395.0 142.6 395.5 142.8 396.0 142.9 396.5 143.1 397.0 143.3 397.5 143.5 398.0 143.7 398.5 143.9 399.0 144.1 399.5 144.3 400.0 144.5 400.5 144.7 401.0 144.9 401.5 145.1 402.0 145.3 402.5 145.5 403.0 145.6 403.5 145.8 404.0 145.9 404.5 146.0 405.0 146.1 405.5 146.1 406.0 146.2 406.5 146.2 407.0 146.2 407.5 146.2 408.0 146.2 408.5 146.1 409.0 146.1 409.5 146.0 410.0 146.0 410.5 145.9 411.0 145.8 411.5 145.7 412.0 145.6 412.5 145.5 413.0 145.4 413.5 145.3 414.0 145.2 414.5 145.1 415.0 144.9 415.5 144.8 416.0 144.7 416.5 144.5 417.0 144.4 417.5 144.2 418.0 144.1 418.5 143.9 419.0 143.8 419.5 143.6 420.0 143.5 420.5 143.3 421.0 143.1 421.5 143.0 422.0 142.8 422.5 142.7 423.0 142.5 423.5 142.4 424.0 142.2 424.5 142.1 425.0 141.9 425.5 141.8 426.0 141.6 426.5 141.5 427.0 141.4 427.5 141.2 428.0 141.1 428.5 141.0 429.0 140.9 429.5 140.8 430.0 140.7 430.5 140.6 431.0 140.5 431.5 140.5 432.0 140.4 432.5 140.3 433.0 140.3 433.5 140.2 434.0 140.2 434.5 140.2 435.0 140.2 435.5 140.2 436.0 140.3 436.5 140.3 437.0 140.4 437.5 140.5 438.0 140.6 438.5 140.8 439.0 141.0 439.5 141.2 440.0 141.4 440.5 141.6 441.0 141.8 441.5 142.0 442.0 142.3 442.5 142.5 443.0 142.8 443.5 143.0 444.0 143.3 444.5 143.6 445.0 143.9 445.5 144.1 446.0 144.4 446.5 144.7 447.0 144.9 447.5 145.2 448.0 145.4 448.5 145.7 449.0 145.9 449.5 146.1 450.0 146.3 450.5 146.5 451.0 146.7 451.5 146.8 452.0 147.0 452.5 147.1 453.0 147.2 453.5 147.2 454.0 147.3 454.5 147.3 455.0 147.3 455.5 147.3 456.0 147.2 456.5 147.2 457.0 147.1 457.5 147.0 458.0 146.9 458.5 146.8 459.0 146.7 459.5 146.5 460.0 146.4 460.5 146.2 461.0 146.1 461.5 145.9 462.0 145.7 462.5 145.5 463.0 145.3 463.5 145.1 464.0 144.9 464.5 144.7 465.0 144.5 465.5 144.3 466.0 144.1 466.5 143.9 467.0 143.7 467.5 143.5 468.0 143.3 468.5 143.1 469.0 142.9 469.5 142.7 470.0 142.6 470.5 142.4 471.0 142.2 471.5 142.1 472.0 142.0 472.5 141.8 473.0 141.7 473.5 141.6 474.0 141.5 474.5 141.4 475.0 141.4 475.5 141.3 476.0 141.3 476.5 141.3 477.0 141.3 477.5 141.3 478.0 141.4 478.5 141.4 479.0 141.4 479.5 141.5 480.0 141.6 480.5 141.7 481.0 141.7 481.5 141.8 482.0 141.9 482.5 142.0 483.0 142.2 483.5 142.3 484.0 142.4 484.5 142.5 485.0 142.7 485.5 142.8 486.0 142.9 486.5 143.1 487.0 143.2 487.5 143.3 488.0 143.5 488.5 143.6 489.0 143.8 489.5 143.9 490.0 144.0 490.5 144.2 491.0 144.3 491.5 144.4 492.0 144.5 492.5 144.6 493.0 144.7 493.5 144.8 494.0 144.9 494.5 145.0 495.0 145.1 495.5 145.2 496.0 145.2 496.5 145.3 497.0 145.3 497.5 145.4 498.0 145.4 498.5 145.4 499.0 145.4 499.5 145.3 500.0 145.3 500.5 145.2 501.0 145.0 501.5 144.9 502.0 144.7 502.5 144.5 503.0 144.3 503.5 144.1 504.0 143.9 504.5 143.7 505.0 143.5 505.5 143.3 506.0 143.1 506.5 143.0 507.0 142.8 507.5 142.7 508.0 142.6 508.5 142.5 509.0 142.4 509.5 142.4 510.0 142.4 510.5 142.4 511.0 142.4 511.5 142.4 512.0 142.4 512.5 142.4 513.0 142.4 513.5 142.4 514.0 142.4 514.5 142.4 515.0 142.5 515.5 142.5 516.0 142.5 516.5 142.5 517.0 142.5 517.5 142.5 518.0 142.5 518.5 142.5 519.0 142.5 519.5 142.5 520.0 142.6 520.5 142.6 521.0 142.6 521.5 142.6 522.0 142.6 522.5 142.6 523.0 142.6 523.5 142.7 524.0 142.7 524.5 142.7 525.0 142.7 525.5 142.7 526.0 142.7 526.5 142.7 527.0 142.7 527.5 142.7 528.0 142.8 528.5 142.8 529.0 142.8 529.5 142.8 530.0 142.8 530.5 142.8 531.0 142.8 531.5 142.8 532.0 142.8 532.5 142.8 533.0 142.9 533.5 142.9 534.0 142.9 534.5 142.9 535.0 142.9 535.5 142.9 536.0 142.9 536.5 142.9 537.0 142.9 537.5 142.9 538.0 143.0 538.5 143.0 539.0 143.0 539.5 143.0 540.0 143.0 540.5 143.0 541.0 143.0 541.5 143.0 542.0 143.0 542.5 143.1 543.0 143.1 543.5 143.1 544.0 143.1 544.5 143.1 545.0 143.1 545.5 143.1 546.0 143.1 546.5 143.1 547.0 143.1 547.5 143.1 548.0 143.2 548.5 143.2 549.0 143.2 549.5 143.2 550.0 143.2 550.5 143.2 551.0 143.2 551.5 143.2 552.0 143.2 552.5 143.2 553.0 143.2 553.5 143.2 554.0 143.2 554.5 143.3 555.0 143.3 555.5 143.3 556.0 143.3 556.5 143.3 557.0 143.3 557.5 143.3 558.0 143.3 558.5 143.3 559.0 143.3 559.5 143.3 560.0 143.3 560.5 143.3 561.0 143.3 561.5 143.3 562.0 143.3 562.5 143.3 563.0 143.3 563.5 143.3 564.0 143.3 564.5 143.3 565.0 143.3 565.5 143.3 566.0 143.3 566.5 143.3 567.0 143.3 567.5 143.3 568.0 143.3 568.5 143.3 569.0 143.3 569.5 143.3 570.0 143.3 570.5 143.3 571.0 143.3 571.5 143.3 572.0 143.3 572.5 143.3 573.0 143.4 573.5 143.4 574.0 143.4 574.5 143.4 575.0 143.4 575.5 143.4 576.0 143.4 576.5 143.4 577.0 143.4 577.5 143.4 578.0 143.4 578.5 143.4 579.0 143.4 579.5 143.4 580.0 143.4 580.5 143.4 581.0 143.4 581.5 143.4 582.0 143.4 582.5 143.4 583.0 143.4 583.5 143.4 584.0 143.4 584.5 143.4 585.0 143.4 585.5 143.4 586.0 143.4 586.5 143.4 587.0 143.4 587.5 143.4 588.0 143.4 588.5 143.4 589.0 143.4 589.5 143.4 590.0 143.4 590.5 143.4 591.0 143.4 591.5 143.4 592.0 143.4 592.5 143.4 593.0 143.4 593.5 143.4 594.0 143.4 594.5 143.4 595.0 143.4 595.5 143.4 596.0 143.4 596.5 143.4 597.0 143.4 597.5 143.4 598.0 143.4 598.5 143.4 599.0 143.4 599.5 143.4 600.0 143.4 600.5 143.4 601.0 143.4 601.5 143.4 602.0 143.4 602.5 143.4 603.0 143.4 603.5 143.4 604.0 143.4 604.5 143.4 605.0 143.4 605.5 143.4 606.0 143.4 606.5 143.4 607.0 143.4 607.5 143.4 608.0 143.4 608.5 143.4 609.0 143.4 609.5 143.4 610.0 143.4 610.5 143.4 611.0 143.4 611.5 143.4 612.0 143.4 612.5 143.4 613.0 143.4 613.5 143.3 614.0 143.3 614.5 143.3 615.0 143.3 615.5 143.3 616.0 143.3 616.5 143.3 617.0 143.3 617.5 143.3 618.0 143.3 618.5 143.3 619.0 143.3 619.5 143.3 620.0 143.3 620.5 143.3 621.0 143.3 621.5 143.3 622.0 143.3 622.5 143.3 623.0 143.3 623.5 143.3 624.0 143.3 624.5 143.3 625.0 143.3 625.5 143.3 626.0 143.3 626.5 143.3 627.0 143.2 627.5 143.2 628.0 143.2 628.5 143.2 629.0 143.2 629.5 143.2 630.0 143.2 630.5 143.2 631.0 143.2 631.5 143.2 632.0 143.2 632.5 143.2 633.0 143.2 633.5 143.2 634.0 143.2 634.5 143.2 635.0 143.2 635.5 143.2 636.0 143.2 636.5 143.2 637.0 143.2 637.5 143.2 638.0 143.2 638.5 143.2 639.0 143.2 639.5 143.2 640.0 143.2 640.5 143.2 641.0 143.2 641.5 143.2 642.0 143.2 642.5 143.2 643.0 143.2 643.5 143.2 644.0 143.2 644.5 143.2 645.0 143.2 645.5 143.2 646.0 143.2 646.5 143.2 647.0 143.2 647.5 143.2 648.0 143.2 648.5 143.2 649.0 143.2 649.5 143.2 650.0 143.2 650.5 143.2 651.0 143.2 651.5 143.2 652.0 143.2 652.5 143.2 653.0 143.2 653.5 143.2 654.0 143.2 654.5 143.2 655.0 143.2 655.5 143.2 656.0 143.2 656.5 143.2 657.0 143.2 657.5 143.2 658.0 143.2 658.5 143.2 659.0 143.2 659.5 143.2 660.0 143.2 660.5 143.2 661.0 143.2 661.5 143.2 662.0 143.2 662.5 143.2 663.0 143.2 663.5 143.2 664.0 143.2 664.5 143.2 665.0 143.2 665.5 143.2 666.0 143.2 666.5 143.2 667.0 143.2 667.5 143.2 668.0 143.2 668.5 143.2 669.0 143.2 669.5 143.2 670.0 143.2 670.5 143.2 671.0 143.2 671.5 143.2 672.0 143.2 672.5 143.3 673.0 143.3 673.5 143.3 674.0 143.3 674.5 143.3 675.0 143.3 675.5 143.3 676.0 143.3 676.5 143.3 677.0 143.3 677.5 143.3 678.0 143.3 678.5 143.3 679.0 143.3 679.5 143.3 680.0 143.3 680.5 143.3 681.0 143.3 681.5 143.3 682.0 143.3 682.5 143.3 683.0 143.3 683.5 143.3 684.0 143.3 684.5 143.3 685.0 143.3 685.5 143.3 686.0 143.3 686.5 143.3 687.0 143.3 687.5 143.3 688.0 143.3 688.5 143.3 689.0 143.3 689.5 143.3 690.0 143.3 690.5 143.3 691.0 143.3 691.5 143.3 692.0 143.4 692.5 143.4 693.0 143.4 693.5 143.4 694.0 143.4 694.5 143.4 695.0 143.4 695.5 143.4 696.0 143.4 696.5 143.4 697.0 143.4 697.5 143.4 698.0 143.4" stroke="#00f" stroke-width="1.1"/>
<ellipse cx="210.4" cy="129.7" rx="20.2" ry="38.7" stroke="#f00" stroke-width="1.6" stroke-dasharray="9 3.2 1.6 3.2"/>
</g>
<g clip-path="url(#cm)" fill="none" stroke-linejoin="round">
<path d="M96.0 346.6L96.5 346.6 97.0 346.6 97.5 346.6 98.0 346.6 98.5 346.6 99.0 346.6 99.5 346.6 100.0 346.6 100.5 346.6 101.0 346.6 101.5 346.5 102.0 346.5 102.5 346.5 103.0 346.5 103.5 346.5 104.0 346.5 104.5 346.5 105.0 346.5 105.5 346.5 106.0 346.5 106.5 346.5 107.0 346.5 107.5 346.4 108.0 346.4 108.5 346.4 109.0 346.4 109.5 346.4 110.0 346.4 110.5 346.4 111.0 346.4 111.5 346.4 112.0 346.3 112.5 346.3 113.0 346.3 113.5 346.3 114.0 346.3 114.5 346.2 115.0 346.2 115.5 346.2 116.0 346.2 116.5 346.2 117.0 346.2 117.5 346.1 118.0 346.1 118.5 346.1 119.0 346.1 119.5 346.1 120.0 346.1 120.5 346.1 121.0 346.1 121.5 346.1 122.0 346.1 122.5 346.1 123.0 346.1 123.5 346.2 124.0 346.2 124.5 346.2 125.0 346.2 125.5 346.2 126.0 346.3 126.5 346.3 127.0 346.3 127.5 346.3 128.0 346.4 128.5 346.4 129.0 346.4 129.5 346.5 130.0 346.5 130.5 346.6 131.0 346.6 131.5 346.7 132.0 346.9 132.5 347.2 133.0 347.5 133.5 347.9 134.0 348.3 134.5 348.7 135.0 349.2 135.5 349.7 136.0 350.1 136.5 350.6 137.0 351.0 137.5 351.4 138.0 351.8 138.5 352.1 139.0 352.3 139.5 352.5 140.0 352.6 140.5 352.6 141.0 352.3 141.5 351.8 142.0 351.1 142.5 350.3 143.0 349.4 143.5 348.3 144.0 347.1 144.5 345.9 145.0 344.7 145.5 343.5 146.0 342.3 146.5 341.2 147.0 340.1 147.5 339.2 148.0 338.4 148.5 337.8 149.0 337.3 149.5 337.1 150.0 337.1 150.5 337.3 151.0 337.7 151.5 338.1 152.0 338.7 152.5 339.5 153.0 340.3 153.5 341.2 154.0 342.2 154.5 343.3 155.0 344.4 155.5 345.5 156.0 346.7 156.5 347.9 157.0 349.1 157.5 350.3 158.0 351.5 158.5 352.6 159.0 353.7 159.5 354.7 160.0 355.7 160.5 356.5 161.0 357.3 161.5 357.9 162.0 358.5 162.5 358.9 163.0 359.1 163.5 359.2 164.0 359.0 164.5 358.5 165.0 357.6 165.5 356.5 166.0 355.2 166.5 353.7 167.0 352.0 167.5 350.2 168.0 348.3 168.5 346.4 169.0 344.5 169.5 342.6 170.0 340.8 170.5 339.0 171.0 337.5 171.5 336.1 172.0 335.0 172.5 334.1 173.0 333.5 173.5 333.2 174.0 333.3 174.5 333.6 175.0 334.0 175.5 334.7 176.0 335.5 176.5 336.5 177.0 337.7 177.5 338.9 178.0 340.3 178.5 341.7 179.0 343.2 179.5 344.8 180.0 346.4 180.5 348.0 181.0 349.6 181.5 351.3 182.0 352.8 182.5 354.4 183.0 355.9 183.5 357.3 184.0 358.6 184.5 359.9 185.0 361.0 185.5 361.9 186.0 362.7 186.5 363.4 187.0 363.8 187.5 364.1 188.0 364.1 188.5 363.6 189.0 362.6 189.5 361.2 190.0 359.4 190.5 357.3 191.0 355.0 191.5 352.4 192.0 349.7 192.5 346.9 193.0 344.1 193.5 341.3 194.0 338.6 194.5 336.0 195.0 333.6 195.5 331.5 196.0 329.6 196.5 328.1 197.0 327.1 197.5 326.5 198.0 326.4 198.5 326.7 199.0 327.4 199.5 328.3 200.0 329.5 200.5 331.0 201.0 332.6 201.5 334.5 202.0 336.4 202.5 338.6 203.0 340.8 203.5 343.1 204.0 345.4 204.5 347.8 205.0 350.1 205.5 352.4 206.0 354.7 206.5 356.8 207.0 358.9 207.5 360.7 208.0 362.4 208.5 363.9 209.0 365.2 209.5 366.2 210.0 366.9 210.5 367.2 211.0 367.3 211.5 366.8 212.0 365.9 212.5 364.5 213.0 362.8 213.5 360.8 214.0 358.5 214.5 356.0 215.0 353.3 215.5 350.5 216.0 347.7 216.5 344.7 217.0 341.9 217.5 339.1 218.0 336.4 218.5 333.9 219.0 331.6 219.5 329.6 220.0 327.9 220.5 326.5 221.0 325.6 221.5 325.1 222.0 325.2 222.5 325.6 223.0 326.4 223.5 327.5 224.0 329.0 224.5 330.6 225.0 332.6 225.5 334.7 226.0 336.9 226.5 339.3 227.0 341.8 227.5 344.4 228.0 347.0 228.5 349.5 229.0 352.1 229.5 354.5 230.0 356.9 230.5 359.1 231.0 361.1 231.5 363.0 232.0 364.5 232.5 365.9 233.0 366.9 233.5 367.5 234.0 367.8 234.5 367.7 235.0 367.2 235.5 366.4 236.0 365.2 236.5 363.8 237.0 362.2 237.5 360.3 238.0 358.2 238.5 356.0 239.0 353.7 239.5 351.2 240.0 348.7 240.5 346.2 241.0 343.6 241.5 341.1 242.0 338.6 242.5 336.2 243.0 333.9 243.5 331.8 244.0 329.9 244.5 328.1 245.0 326.6 245.5 325.3 246.0 324.4 246.5 323.8 247.0 323.5 247.5 323.7 248.0 324.4 248.5 325.7 249.0 327.4 249.5 329.6 250.0 332.1 250.5 334.8 251.0 337.8 251.5 341.0 252.0 344.3 252.5 347.7 253.0 351.0 253.5 354.3 254.0 357.5 254.5 360.6 255.0 363.4 255.5 365.9 256.0 368.2 256.5 370.0 257.0 371.3 257.5 372.2 258.0 372.5 258.5 372.3 259.0 371.8 259.5 371.0 260.0 369.9 260.5 368.5 261.0 366.9 261.5 365.1 262.0 363.1 262.5 360.9 263.0 358.7 263.5 356.3 264.0 353.9 264.5 351.4 265.0 348.8 265.5 346.3 266.0 343.9 266.5 341.4 267.0 339.1 267.5 336.9 268.0 334.8 268.5 332.9 269.0 331.1 269.5 329.6 270.0 328.4 270.5 327.4 271.0 326.6 271.5 326.3 272.0 326.2 272.5 326.5 273.0 327.0 273.5 327.8 274.0 328.8 274.5 330.0 275.0 331.3 275.5 332.7 276.0 334.2 276.5 335.8 277.0 337.4 277.5 339.0 278.0 340.6 278.5 342.1 279.0 343.5 279.5 344.7 280.0 345.8 280.5 346.7 281.0 347.4 281.5 347.8 282.0 348.0 282.5 347.9 283.0 347.6 283.5 347.2 284.0 346.5 284.5 345.8 285.0 344.9 285.5 343.9 286.0 342.9 286.5 341.8 287.0 340.6 287.5 339.4 288.0 338.1 288.5 336.9 289.0 335.7 289.5 334.5 290.0 333.3 290.5 332.3 291.0 331.3 291.5 330.4 292.0 329.6 292.5 329.0 293.0 328.5 293.5 328.1 294.0 328.0 294.5 328.1 295.0 328.5 295.5 329.1 296.0 330.0 296.5 331.2 297.0 332.5 297.5 334.0 298.0 335.7 298.5 337.5 299.0 339.4 299.5 341.4 300.0 343.5 300.5 345.7 301.0 347.9 301.5 350.1 302.0 352.2 302.5 354.4 303.0 356.5 303.5 358.5 304.0 360.4 304.5 362.2 305.0 363.8 305.5 365.3 306.0 366.6 306.5 367.7 307.0 368.5 307.5 369.1 308.0 369.4 308.5 369.5 309.0 369.0 309.5 368.1 310.0 366.9 310.5 365.3 311.0 363.4 311.5 361.3 312.0 359.1 312.5 356.7 313.0 354.3 313.5 351.9 314.0 349.5 314.5 347.2 315.0 345.1 315.5 343.2 316.0 341.6 316.5 340.2 317.0 339.3 317.5 338.6 318.0 337.8 318.5 337.1 319.0 336.5 319.5 335.9 320.0 335.3 320.5 334.8 321.0 334.4 321.5 334.2 322.0 334.0 322.5 333.9 323.0 334.0 323.5 334.4 324.0 335.0 324.5 335.7 325.0 336.7 325.5 337.8 326.0 339.0 326.5 340.3 327.0 341.7 327.5 343.2 328.0 344.7 328.5 346.2 329.0 347.8 329.5 349.3 330.0 350.8 330.5 352.2 331.0 353.5 331.5 354.7 332.0 355.8 332.5 356.8 333.0 357.5 333.5 358.1 334.0 358.5 334.5 358.6 335.0 358.5 335.5 358.2 336.0 357.8 336.5 357.3 337.0 356.6 337.5 355.7 338.0 354.8 338.5 353.8 339.0 352.7 339.5 351.6 340.0 350.3 340.5 349.1 341.0 347.8 341.5 346.5 342.0 345.3 342.5 344.0 343.0 342.8 343.5 341.6 344.0 340.4 344.5 339.4 345.0 338.4 345.5 337.5 346.0 336.7 346.5 336.1 347.0 335.6 347.5 335.2 348.0 335.0 348.5 335.0 349.0 335.2 349.5 335.5 350.0 336.0 350.5 336.6 351.0 337.3 351.5 338.1 352.0 338.9 352.5 339.7 353.0 340.6 353.5 341.4 354.0 342.3 354.5 343.0 355.0 343.7 355.5 344.2 356.0 344.6 356.5 344.9 357.0 345.0 357.5 344.8 358.0 344.4 358.5 343.7 359.0 343.0 359.5 342.3 360.0 341.6 360.5 341.2 361.0 341.0 361.5 341.2 362.0 341.8 362.5 342.5 363.0 343.2 363.5 343.8 364.0 344.0 364.5 344.0 365.0 343.8 365.5 343.6 366.0 343.4 366.5 343.1 367.0 342.8 367.5 342.4 368.0 342.0 368.5 341.6 369.0 341.3 369.5 340.9 370.0 340.6 370.5 340.3 371.0 340.1 371.5 339.9 372.0 339.8 372.5 339.8 373.0 340.0 373.5 340.4 374.0 341.0 374.5 341.8 375.0 342.7 375.5 343.7 376.0 344.9 376.5 346.1 377.0 347.4 377.5 348.8 378.0 350.1 378.5 351.5 379.0 352.9 379.5 354.2 380.0 355.5 380.5 356.8 381.0 357.9 381.5 358.9 382.0 359.8 382.5 360.5 383.0 361.1 383.5 361.4 384.0 361.6 384.5 361.5 385.0 361.1 385.5 360.5 386.0 359.7 386.5 358.7 387.0 357.5 387.5 356.1 388.0 354.6 388.5 353.0 389.0 351.3 389.5 349.6 390.0 347.8 390.5 346.1 391.0 344.3 391.5 342.6 392.0 340.9 392.5 339.4 393.0 337.9 393.5 336.6 394.0 335.5 394.5 334.5 395.0 333.8 395.5 333.3 396.0 333.0 396.5 333.1 397.0 333.5 397.5 334.3 398.0 335.4 398.5 336.6 399.0 338.0 399.5 339.5 400.0 341.0 400.5 342.4 401.0 343.7 401.5 344.8 402.0 345.8 402.5 346.9 403.0 348.0 403.5 349.2 404.0 350.3 404.5 351.5 405.0 352.6 405.5 353.6 406.0 354.6 406.5 355.5 407.0 356.3 407.5 356.9 408.0 357.4 408.5 357.8 409.0 357.9 409.5 357.8 410.0 357.5 410.5 357.0 411.0 356.3 411.5 355.4 412.0 354.4 412.5 353.2 413.0 351.9 413.5 350.6 414.0 349.2 414.5 347.7 415.0 346.2 415.5 344.7 416.0 343.2 416.5 341.8 417.0 340.4 417.5 339.1 418.0 337.9 418.5 336.8 419.0 335.8 419.5 335.1 420.0 334.5 420.5 334.1 421.0 333.9 421.5 334.0 422.0 334.3 422.5 334.9 423.0 335.7 423.5 336.7 424.0 337.8 424.5 339.1 425.0 340.5 425.5 342.0 426.0 343.6 426.5 345.2 427.0 346.8 427.5 348.4 428.0 350.0 428.5 351.5 429.0 353.0 429.5 354.3 430.0 355.6 430.5 356.6 431.0 357.5 431.5 358.2 432.0 358.7 432.5 359.0 433.0 358.9 433.5 358.6 434.0 358.1 434.5 357.3 435.0 356.3 435.5 355.1 436.0 353.8 436.5 352.3 437.0 350.8 437.5 349.1 438.0 347.4 438.5 345.7 439.0 344.0 439.5 342.3 440.0 340.6 440.5 339.0 441.0 337.5 441.5 336.1 442.0 334.9 442.5 333.8 443.0 332.9 443.5 332.3 444.0 331.8 444.5 331.7 445.0 331.8 445.5 332.2 446.0 332.9 446.5 333.7 447.0 334.7 447.5 335.8 448.0 337.1 448.5 338.4 449.0 339.7 449.5 341.1 450.0 342.5 450.5 343.8 451.0 345.0 451.5 346.3 452.0 347.8 452.5 349.5 453.0 351.3 453.5 353.2 454.0 355.1 454.5 356.9 455.0 358.5 455.5 360.1 456.0 361.4 456.5 362.4 457.0 363.1 457.5 363.4 458.0 363.3 458.5 362.9 459.0 362.1 459.5 361.1 460.0 359.9 460.5 358.4 461.0 356.8 461.5 355.1 462.0 353.2 462.5 351.2 463.0 349.2 463.5 347.1 464.0 345.1 464.5 343.1 465.0 341.2 465.5 339.3 466.0 337.6 466.5 336.1 467.0 334.7 467.5 333.5 468.0 332.6 468.5 332.0 469.0 331.7 469.5 331.8 470.0 332.1 470.5 332.6 471.0 333.4 471.5 334.4 472.0 335.5 472.5 336.9 473.0 338.3 473.5 339.9 474.0 341.5 474.5 343.2 475.0 344.9 475.5 346.6 476.0 348.4 476.5 350.0 477.0 351.7 477.5 353.2 478.0 354.6 478.5 355.9 479.0 357.0 479.5 358.0 480.0 358.7 480.5 359.2 481.0 359.5 481.5 359.4 482.0 358.9 482.5 357.9 483.0 356.6 483.5 355.1 484.0 353.3 484.5 351.3 485.0 349.3 485.5 347.3 486.0 345.3 486.5 343.4 487.0 341.6 487.5 340.2 488.0 339.0 488.5 338.0 489.0 337.0 489.5 335.9 490.0 334.9 490.5 333.9 491.0 333.0 491.5 332.2 492.0 331.4 492.5 330.7 493.0 330.2 493.5 329.8 494.0 329.6 494.5 329.5 495.0 330.1 495.5 331.3 496.0 333.1 496.5 335.3 497.0 337.8 497.5 340.5 498.0 343.3 498.5 345.9 499.0 348.3 499.5 350.4 500.0 352.0 500.5 353.3 501.0 354.7 501.5 356.1 502.0 357.4 502.5 358.7 503.0 359.9 503.5 361.0 504.0 362.0 504.5 362.9 505.0 363.6 505.5 364.1 506.0 364.4 506.5 364.5 507.0 364.3 507.5 363.8 508.0 363.0 508.5 362.1 509.0 360.9 509.5 359.5 510.0 358.0 510.5 356.4 511.0 354.7 511.5 352.8 512.0 351.0 512.5 349.1 513.0 347.3 513.5 345.4 514.0 343.6 514.5 341.9 515.0 340.4 515.5 338.9 516.0 337.6 516.5 336.5 517.0 335.6 517.5 335.0 518.0 334.6 518.5 334.5 519.0 335.0 519.5 336.0 520.0 337.5 520.5 339.3 521.0 341.2 521.5 343.2 522.0 345.1 522.5 346.8 523.0 348.1 523.5 349.0 524.0 349.2 524.5 348.9 525.0 348.3 525.5 347.5 526.0 346.8 526.5 346.2 527.0 346.0 527.5 346.1 528.0 346.3 528.5 346.6 529.0 347.0 529.5 347.4 530.0 347.7 530.5 347.9 531.0 348.0 531.5 347.8 532.0 347.1 532.5 346.1 533.0 344.8 533.5 343.3 534.0 341.7 534.5 340.0 535.0 338.4 535.5 336.9 536.0 335.7 536.5 334.6 537.0 334.0 537.5 333.6 538.0 333.1 538.5 332.7 539.0 332.4 539.5 332.0 540.0 331.7 540.5 331.5 541.0 331.3 541.5 331.1 542.0 331.0 542.5 331.0 543.0 331.5 543.5 332.7 544.0 334.3 544.5 336.4 545.0 338.7 545.5 341.3 546.0 343.8 546.5 346.3 547.0 348.5 547.5 350.5 548.0 352.0 548.5 353.3 549.0 354.6 549.5 355.9 550.0 357.2 550.5 358.4 551.0 359.6 551.5 360.7 552.0 361.7 552.5 362.6 553.0 363.3 553.5 363.9 554.0 364.3 554.5 364.5 555.0 364.4 555.5 364.2 556.0 363.6 556.5 362.8 557.0 361.9 557.5 360.7 558.0 359.4 558.5 358.0 559.0 356.5 559.5 354.8 560.0 353.2 560.5 351.5 561.0 349.7 561.5 348.0 562.0 346.4 562.5 344.7 563.0 343.2 563.5 341.8 564.0 340.5 564.5 339.3 565.0 338.4 565.5 337.6 566.0 337.0 566.5 336.8 567.0 336.7 567.5 337.2 568.0 338.0 568.5 339.1 569.0 340.4 569.5 341.9 570.0 343.3 570.5 344.8 571.0 346.1 571.5 347.2 572.0 348.0 572.5 348.5 573.0 348.4 573.5 348.2 574.0 347.7 574.5 347.1 575.0 346.6 575.5 346.2 576.0 345.9 576.5 346.0 577.0 346.6 577.5 347.5 578.0 348.5 578.5 349.6 579.0 350.6 579.5 351.2 580.0 351.4 580.5 351.1 581.0 350.5 581.5 349.5 582.0 348.4 582.5 347.2 583.0 346.0 583.5 344.9 584.0 343.9 584.5 343.1 585.0 342.7 585.5 342.6 586.0 342.8 586.5 343.0 587.0 343.4 587.5 343.9 588.0 344.5 588.5 345.1 589.0 345.7 589.5 346.4 590.0 347.0 590.5 347.8 591.0 348.7 591.5 349.9 592.0 351.2 592.5 352.6 593.0 354.0 593.5 355.4 594.0 356.7 594.5 357.9 595.0 359.0 595.5 359.9 596.0 360.5 596.5 360.8 597.0 360.8 597.5 360.6 598.0 360.3 598.5 359.9 599.0 359.5 599.5 359.0 600.0 358.6 600.5 358.2 601.0 358.0 601.5 357.8 602.0 357.7 602.5 357.6 603.0 357.5 603.5 357.4 604.0 357.3 604.5 357.2 605.0 357.0 605.5 356.5 606.0 355.6 606.5 354.3 607.0 352.8 607.5 350.9 608.0 348.9 608.5 346.8 609.0 344.7 609.5 342.6 610.0 340.6 610.5 338.7 611.0 337.2 611.5 335.9 612.0 335.0 612.5 334.3 613.0 333.7 613.5 333.0 614.0 332.5 614.5 332.0 615.0 331.5 615.5 331.2 616.0 331.0 616.5 331.0 617.0 331.5 617.5 332.6 618.0 334.1 618.5 336.0 619.0 338.2 619.5 340.5 620.0 342.8 620.5 345.1 621.0 347.1 621.5 348.8 622.0 350.0 622.5 351.0 623.0 352.0 623.5 352.9 624.0 353.9 624.5 354.8 625.0 355.6 625.5 356.4 626.0 357.1 626.5 357.7 627.0 358.2 627.5 358.6 628.0 358.9 628.5 359.0 629.0 358.9 629.5 358.7 630.0 358.2 630.5 357.5 631.0 356.7 631.5 355.8 632.0 354.7 632.5 353.5 633.0 352.3 633.5 351.0 634.0 349.6 634.5 348.2 635.0 346.8 635.5 345.4 636.0 344.0 636.5 342.6 637.0 341.4 637.5 340.1 638.0 339.0 638.5 338.0 639.0 337.2 639.5 336.5 640.0 335.9 640.5 335.6 641.0 335.4 641.5 335.5 642.0 336.1 642.5 336.9 643.0 338.1 643.5 339.4 644.0 341.0 644.5 342.6 645.0 344.2 645.5 345.9 646.0 347.4 646.5 348.8 647.0 350.0 647.5 351.1 648.0 352.3 648.5 353.6 649.0 354.9 649.5 356.1 650.0 357.3 650.5 358.4 651.0 359.4 651.5 360.3 652.0 361.0 652.5 361.4 653.0 361.6 653.5 361.5 654.0 361.1 654.5 360.5 655.0 359.6 655.5 358.6 656.0 357.3 656.5 355.9 657.0 354.3 657.5 352.7 658.0 350.9 658.5 349.1 659.0 347.3 659.5 345.5 660.0 343.7 660.5 341.9 661.0 340.2 661.5 338.6 662.0 337.2 662.5 335.8 663.0 334.7 663.5 333.7 664.0 333.0 664.5 332.5 665.0 332.3 665.5 332.4 666.0 332.8 666.5 333.4 667.0 334.3 667.5 335.5 668.0 336.8 668.5 338.2 669.0 339.8 669.5 341.6 670.0 343.4 670.5 345.2 671.0 347.1 671.5 349.0 672.0 350.9 672.5 352.7 673.0 354.5 673.5 356.1 674.0 357.7 674.5 359.0 675.0 360.2 675.5 361.2 676.0 362.0 676.5 362.5 677.0 362.7 677.5 362.6 678.0 362.3 678.5 361.7 679.0 360.8 679.5 359.8 680.0 358.6 680.5 357.2 681.0 355.7 681.5 354.1 682.0 352.4 682.5 350.6 683.0 348.7 683.5 346.9 684.0 345.0 684.5 343.1 685.0 341.3 685.5 339.5 686.0 337.8 686.5 336.2 687.0 334.7 687.5 333.3 688.0 332.2 688.5 331.2 689.0 330.4 689.5 329.9 690.0 329.6 690.5 329.5 691.0 329.7 691.5 330.1 692.0 330.8 692.5 331.6 693.0 332.6 693.5 333.9 694.0 335.2 694.5 336.8 695.0 338.5 695.5 340.4 696.0 342.4 696.5 344.5 697.0 346.7 697.5 349.1 698.0 351.6 698.5 354.1" stroke="#0f0" stroke-width="2.9"/>
<path d="M96.0 346.6L96.5 346.7 97.0 346.7 97.5 346.8 98.0 346.8 98.5 346.9 99.0 346.9 99.5 346.9 100.0 347.0 100.5 347.0 101.0 347.0 101.5 347.0 102.0 347.1 102.5 347.1 103.0 347.1 103.5 347.1 104.0 347.1 104.5 347.2 105.0 347.2 105.5 347.2 106.0 347.2 106.5 347.2 107.0 347.2 107.5 347.2 108.0 347.2 108.5 347.2 109.0 347.2 109.5 347.2 110.0 347.2 110.5 347.2 111.0 347.2 111.5 347.2 112.0 347.1 112.5 347.0 113.0 346.9 113.5 346.8 114.0 346.6 114.5 346.5 115.0 346.4 115.5 346.2 116.0 346.1 116.5 346.0 117.0 345.9 117.5 345.8 118.0 345.8 118.5 345.8 119.0 345.9 119.5 345.9 120.0 346.0 120.5 346.1 121.0 346.2 121.5 346.3 122.0 346.4 122.5 346.5 123.0 346.6 123.5 346.7 124.0 346.7 124.5 346.8 125.0 346.8 125.5 346.8 126.0 346.7 126.5 346.6 127.0 346.4 127.5 346.3 128.0 346.2 128.5 346.0 129.0 345.9 129.5 345.8 130.0 345.8 130.5 345.8 131.0 345.9 131.5 345.9 132.0 346.0 132.5 346.1 133.0 346.2 133.5 346.3 134.0 346.4 134.5 346.6 135.0 346.7 135.5 346.9 136.0 347.0 136.5 347.1 137.0 347.3 137.5 347.4 138.0 347.5 138.5 347.6 139.0 347.6 139.5 347.7 140.0 347.7 140.5 347.7 141.0 347.6 141.5 347.5 142.0 347.3 142.5 347.1 143.0 346.9 143.5 346.7 144.0 346.4 144.5 346.1 145.0 345.8 145.5 345.6 146.0 345.3 146.5 345.0 147.0 344.8 147.5 344.7 148.0 344.5 148.5 344.4 149.0 344.4 149.5 344.4 150.0 344.5 150.5 344.7 151.0 344.9 151.5 345.2 152.0 345.5 152.5 345.9 153.0 346.3 153.5 346.8 154.0 347.2 154.5 347.7 155.0 348.2 155.5 348.7 156.0 349.2 156.5 349.8 157.0 350.3 157.5 350.8 158.0 351.3 158.5 351.8 159.0 352.2 159.5 352.6 160.0 353.0 160.5 353.4 161.0 353.7 161.5 353.9 162.0 354.1 162.5 354.2 163.0 354.3 163.5 354.3 164.0 354.0 164.5 353.5 165.0 352.8 165.5 352.0 166.0 351.0 166.5 349.9 167.0 348.7 167.5 347.4 168.0 346.1 168.5 344.7 169.0 343.4 169.5 342.1 170.0 340.8 170.5 339.7 171.0 338.6 171.5 337.7 172.0 336.9 172.5 336.3 173.0 335.9 173.5 335.7 174.0 335.8 174.5 336.0 175.0 336.4 175.5 337.0 176.0 337.7 176.5 338.6 177.0 339.6 177.5 340.7 178.0 341.8 178.5 343.1 179.0 344.4 179.5 345.7 180.0 347.1 180.5 348.5 181.0 349.9 181.5 351.4 182.0 352.7 182.5 354.1 183.0 355.4 183.5 356.6 184.0 357.8 184.5 358.8 185.0 359.8 185.5 360.6 186.0 361.3 186.5 361.9 187.0 362.3 187.5 362.5 188.0 362.5 188.5 362.0 189.0 361.1 189.5 359.8 190.0 358.2 190.5 356.2 191.0 354.0 191.5 351.7 192.0 349.2 192.5 346.6 193.0 344.0 193.5 341.3 194.0 338.8 194.5 336.4 195.0 334.2 195.5 332.2 196.0 330.5 196.5 329.1 197.0 328.1 197.5 327.6 198.0 327.5 198.5 327.8 199.0 328.5 199.5 329.4 200.0 330.6 200.5 332.1 201.0 333.7 201.5 335.6 202.0 337.6 202.5 339.7 203.0 341.9 203.5 344.2 204.0 346.6 204.5 348.9 205.0 351.3 205.5 353.6 206.0 355.9 206.5 358.0 207.0 360.0 207.5 361.9 208.0 363.6 208.5 365.1 209.0 366.4 209.5 367.4 210.0 368.1 210.5 368.4 211.0 368.5 211.5 368.0 212.0 367.1 212.5 365.7 213.0 364.0 213.5 362.0 214.0 359.7 214.5 357.1 215.0 354.4 215.5 351.6 216.0 348.7 216.5 345.8 217.0 342.9 217.5 340.1 218.0 337.4 218.5 334.8 219.0 332.5 219.5 330.5 220.0 328.8 220.5 327.4 221.0 326.5 221.5 326.0 222.0 326.1 222.5 326.5 223.0 327.4 223.5 328.5 224.0 330.0 224.5 331.8 225.0 333.8 225.5 336.0 226.0 338.3 226.5 340.8 227.0 343.4 227.5 346.1 228.0 348.8 228.5 351.5 229.0 354.1 229.5 356.7 230.0 359.1 230.5 361.4 231.0 363.5 231.5 365.5 232.0 367.1 232.5 368.5 233.0 369.5 233.5 370.2 234.0 370.5 234.5 370.3 235.0 369.7 235.5 368.6 236.0 367.0 236.5 365.1 237.0 362.9 237.5 360.4 238.0 357.7 238.5 354.9 239.0 351.8 239.5 348.8 240.0 345.6 240.5 342.5 241.0 339.4 241.5 336.5 242.0 333.7 242.5 331.0 243.0 328.7 243.5 326.6 244.0 324.8 244.5 323.4 245.0 322.5 245.5 322.0 246.0 322.1 246.5 322.6 247.0 323.6 247.5 325.0 248.0 326.7 248.5 328.7 249.0 331.0 249.5 333.6 250.0 336.3 250.5 339.2 251.0 342.2 251.5 345.3 252.0 348.4 252.5 351.5 253.0 354.6 253.5 357.5 254.0 360.3 254.5 363.0 255.0 365.4 255.5 367.5 256.0 369.3 256.5 370.8 257.0 372.0 257.5 372.7 258.0 372.9 258.5 372.7 259.0 372.2 259.5 371.4 260.0 370.2 260.5 368.8 261.0 367.2 261.5 365.4 262.0 363.3 262.5 361.2 263.0 358.9 263.5 356.5 264.0 354.0 264.5 351.5 265.0 349.0 265.5 346.4 266.0 343.9 266.5 341.5 267.0 339.2 267.5 336.9 268.0 334.8 268.5 332.9 269.0 331.2 269.5 329.6 270.0 328.4 270.5 327.4 271.0 326.6 271.5 326.3 272.0 326.2 272.5 326.5 273.0 327.0 273.5 327.8 274.0 328.8 274.5 330.0 275.0 331.3 275.5 332.7 276.0 334.2 276.5 335.8 277.0 337.4 277.5 339.0 278.0 340.6 278.5 342.1 279.0 343.5 279.5 344.7 280.0 345.8 280.5 346.7 281.0 347.4 281.5 347.8 282.0 348.0 282.5 347.9 283.0 347.6 283.5 347.2 284.0 346.5 284.5 345.8 285.0 344.9 285.5 343.9 286.0 342.9 286.5 341.8 287.0 340.6 287.5 339.4 288.0 338.1 288.5 336.9 289.0 335.7 289.5 334.5 290.0 333.3 290.5 332.3 291.0 331.3 291.5 330.4 292.0 329.6 292.5 329.0 293.0 328.5 293.5 328.1 294.0 328.0 294.5 328.1 295.0 328.5 295.5 329.1 296.0 330.0 296.5 331.2 297.0 332.5 297.5 334.0 298.0 335.7 298.5 337.5 299.0 339.4 299.5 341.4 300.0 343.5 300.5 345.7 301.0 347.9 301.5 350.1 302.0 352.2 302.5 354.4 303.0 356.5 303.5 358.5 304.0 360.4 304.5 362.2 305.0 363.8 305.5 365.3 306.0 366.6 306.5 367.7 307.0 368.5 307.5 369.1 308.0 369.4 308.5 369.5 309.0 369.0 309.5 368.1 310.0 366.9 310.5 365.3 311.0 363.4 311.5 361.3 312.0 359.1 312.5 356.7 313.0 354.3 313.5 351.9 314.0 349.5 314.5 347.2 315.0 345.1 315.5 343.2 316.0 341.6 316.5 340.2 317.0 339.3 317.5 338.6 318.0 337.8 318.5 337.1 319.0 336.5 319.5 335.9 320.0 335.3 320.5 334.8 321.0 334.4 321.5 334.2 322.0 334.0 322.5 333.9 323.0 334.0 323.5 334.4 324.0 335.0 324.5 335.7 325.0 336.7 325.5 337.8 326.0 339.0 326.5 340.3 327.0 341.7 327.5 343.2 328.0 344.7 328.5 346.2 329.0 347.8 329.5 349.3 330.0 350.8 330.5 352.2 331.0 353.5 331.5 354.7 332.0 355.8 332.5 356.8 333.0 357.5 333.5 358.1 334.0 358.5 334.5 358.6 335.0 358.5 335.5 358.2 336.0 357.8 336.5 357.3 337.0 356.6 337.5 355.7 338.0 354.8 338.5 353.8 339.0 352.7 339.5 351.6 340.0 350.3 340.5 349.1 341.0 347.8 341.5 346.5 342.0 345.3 342.5 344.0 343.0 342.8 343.5 341.6 344.0 340.4 344.5 339.4 345.0 338.4 345.5 337.5 346.0 336.7 346.5 336.1 347.0 335.6 347.5 335.2 348.0 335.0 348.5 335.0 349.0 335.2 349.5 335.5 350.0 336.0 350.5 336.6 351.0 337.3 351.5 338.1 352.0 338.9 352.5 339.7 353.0 340.6 353.5 341.4 354.0 342.3 354.5 343.0 355.0 343.7 355.5 344.2 356.0 344.6 356.5 344.9 357.0 345.0 357.5 344.8 358.0 344.4 358.5 343.7 359.0 343.0 359.5 342.3 360.0 341.6 360.5 341.2 361.0 341.0 361.5 341.2 362.0 341.8 362.5 342.5 363.0 343.2 363.5 343.8 364.0 344.0 364.5 344.0 365.0 343.8 365.5 343.6 366.0 343.4 366.5 343.1 367.0 342.8 367.5 342.4 368.0 342.0 368.5 341.6 369.0 341.3 369.5 340.9 370.0 340.6 370.5 340.3 371.0 340.1 371.5 339.9 372.0 339.8 372.5 339.8 373.0 340.0 373.5 340.4 374.0 341.0 374.5 341.8 375.0 342.7 375.5 343.7 376.0 344.9 376.5 346.1 377.0 347.4 377.5 348.8 378.0 350.1 378.5 351.5 379.0 352.9 379.5 354.2 380.0 355.5 380.5 356.8 381.0 357.9 381.5 358.9 382.0 359.8 382.5 360.5 383.0 361.1 383.5 361.4 384.0 361.6 384.5 361.5 385.0 361.1 385.5 360.5 386.0 359.7 386.5 358.7 387.0 357.5 387.5 356.1 388.0 354.6 388.5 353.0 389.0 351.3 389.5 349.6 390.0 347.8 390.5 346.1 391.0 344.3 391.5 342.6 392.0 340.9 392.5 339.4 393.0 337.9 393.5 336.6 394.0 335.5 394.5 334.5 395.0 333.8 395.5 333.3 396.0 333.0 396.5 333.1 397.0 333.5 397.5 334.3 398.0 335.4 398.5 336.6 399.0 338.0 399.5 339.5 400.0 341.0 400.5 342.4 401.0 343.7 401.5 344.8 402.0 345.8 402.5 346.9 403.0 348.0 403.5 349.2 404.0 350.3 404.5 351.5 405.0 352.6 405.5 353.6 406.0 354.6 406.5 355.5 407.0 356.3 407.5 356.9 408.0 357.4 408.5 357.8 409.0 357.9 409.5 357.8 410.0 357.5 410.5 357.0 411.0 356.3 411.5 355.4 412.0 354.4 412.5 353.2 413.0 351.9 413.5 350.6 414.0 349.2 414.5 347.7 415.0 346.2 415.5 344.7 416.0 343.2 416.5 341.8 417.0 340.4 417.5 339.1 418.0 337.9 418.5 336.8 419.0 335.8 419.5 335.1 420.0 334.5 420.5 334.1 421.0 333.9 421.5 334.0 422.0 334.3 422.5 334.9 423.0 335.7 423.5 336.7 424.0 337.8 424.5 339.1 425.0 340.5 425.5 342.0 426.0 343.6 426.5 345.2 427.0 346.8 427.5 348.4 428.0 350.0 428.5 351.5 429.0 353.0 429.5 354.3 430.0 355.6 430.5 356.6 431.0 357.5 431.5 358.2 432.0 358.7 432.5 359.0 433.0 358.9 433.5 358.6 434.0 358.1 434.5 357.3 435.0 356.3 435.5 355.1 436.0 353.8 436.5 352.3 437.0 350.8 437.5 349.1 438.0 347.4 438.5 345.7 439.0 344.0 439.5 342.3 440.0 340.6 440.5 339.0 441.0 337.5 441.5 336.1 442.0 334.9 442.5 333.8 443.0 332.9 443.5 332.3 444.0 331.8 444.5 331.7 445.0 331.8 445.5 332.2 446.0 332.9 446.5 333.7 447.0 334.7 447.5 335.8 448.0 337.1 448.5 338.4 449.0 339.7 449.5 341.1 450.0 342.5 450.5 343.8 451.0 345.0 451.5 346.3 452.0 347.8 452.5 349.5 453.0 351.3 453.5 353.2 454.0 355.1 454.5 356.9 455.0 358.5 455.5 360.1 456.0 361.4 456.5 362.4 457.0 363.1 457.5 363.4 458.0 363.3 458.5 362.9 459.0 362.1 459.5 361.1 460.0 359.9 460.5 358.4 461.0 356.8 461.5 355.1 462.0 353.2 462.5 351.2 463.0 349.2 463.5 347.1 464.0 345.1 464.5 343.1 465.0 341.2 465.5 339.3 466.0 337.6 466.5 336.1 467.0 334.7 467.5 333.5 468.0 332.6 468.5 332.0 469.0 331.7 469.5 331.8 470.0 332.1 470.5 332.6 471.0 333.4 471.5 334.4 472.0 335.5 472.5 336.9 473.0 338.3 473.5 339.9 474.0 341.5 474.5 343.2 475.0 344.9 475.5 346.6 476.0 348.4 476.5 350.0 477.0 351.7 477.5 353.2 478.0 354.6 478.5 355.9 479.0 357.0 479.5 358.0 480.0 358.7 480.5 359.2 481.0 359.5 481.5 359.4 482.0 358.9 482.5 357.9 483.0 356.6 483.5 355.1 484.0 353.3 484.5 351.3 485.0 349.3 485.5 347.3 486.0 345.3 486.5 343.4 487.0 341.6 487.5 340.2 488.0 339.0 488.5 338.0 489.0 337.0 489.5 335.9 490.0 334.9 490.5 333.9 491.0 333.0 491.5 332.2 492.0 331.4 492.5 330.7 493.0 330.2 493.5 329.8 494.0 329.6 494.5 329.5 495.0 330.1 495.5 331.3 496.0 333.1 496.5 335.3 497.0 337.8 497.5 340.5 498.0 343.3 498.5 345.9 499.0 348.3 499.5 350.4 500.0 352.0 500.5 353.3 501.0 354.7 501.5 356.1 502.0 357.4 502.5 358.7 503.0 359.9 503.5 361.0 504.0 362.0 504.5 362.9 505.0 363.6 505.5 364.1 506.0 364.4 506.5 364.5 507.0 364.3 507.5 363.8 508.0 363.0 508.5 362.1 509.0 360.9 509.5 359.5 510.0 358.0 510.5 356.4 511.0 354.7 511.5 352.8 512.0 351.0 512.5 349.1 513.0 347.3 513.5 345.4 514.0 343.6 514.5 341.9 515.0 340.4 515.5 338.9 516.0 337.6 516.5 336.5 517.0 335.6 517.5 335.0 518.0 334.6 518.5 334.5 519.0 335.0 519.5 336.0 520.0 337.5 520.5 339.3 521.0 341.2 521.5 343.2 522.0 345.1 522.5 346.8 523.0 348.1 523.5 349.0 524.0 349.2 524.5 348.9 525.0 348.3 525.5 347.5 526.0 346.8 526.5 346.2 527.0 346.0 527.5 346.1 528.0 346.3 528.5 346.6 529.0 347.0 529.5 347.4 530.0 347.7 530.5 347.9 531.0 348.0 531.5 347.8 532.0 347.1 532.5 346.1 533.0 344.8 533.5 343.3 534.0 341.7 534.5 340.0 535.0 338.4 535.5 336.9 536.0 335.7 536.5 334.6 537.0 334.0 537.5 333.6 538.0 333.1 538.5 332.7 539.0 332.4 539.5 332.0 540.0 331.7 540.5 331.5 541.0 331.3 541.5 331.1 542.0 331.0 542.5 331.0 543.0 331.5 543.5 332.7 544.0 334.3 544.5 336.4 545.0 338.7 545.5 341.3 546.0 343.8 546.5 346.3 547.0 348.5 547.5 350.5 548.0 352.0 548.5 353.3 549.0 354.6 549.5 355.9 550.0 357.2 550.5 358.4 551.0 359.6 551.5 360.7 552.0 361.7 552.5 362.6 553.0 363.3 553.5 363.9 554.0 364.3 554.5 364.5 555.0 364.4 555.5 364.2 556.0 363.6 556.5 362.8 557.0 361.9 557.5 360.7 558.0 359.4 558.5 358.0 559.0 356.5 559.5 354.8 560.0 353.2 560.5 351.5 561.0 349.7 561.5 348.0 562.0 346.4 562.5 344.7 563.0 343.2 563.5 341.8 564.0 340.5 564.5 339.3 565.0 338.4 565.5 337.6 566.0 337.0 566.5 336.8 567.0 336.7 567.5 337.2 568.0 338.0 568.5 339.1 569.0 340.4 569.5 341.9 570.0 343.3 570.5 344.8 571.0 346.1 571.5 347.2 572.0 348.0 572.5 348.5 573.0 348.4 573.5 348.2 574.0 347.7 574.5 347.1 575.0 346.6 575.5 346.2 576.0 345.9 576.5 346.0 577.0 346.6 577.5 347.5 578.0 348.5 578.5 349.6 579.0 350.6 579.5 351.2 580.0 351.4 580.5 351.1 581.0 350.5 581.5 349.5 582.0 348.4 582.5 347.2 583.0 346.0 583.5 344.9 584.0 343.9 584.5 343.1 585.0 342.7 585.5 342.6 586.0 342.8 586.5 343.0 587.0 343.4 587.5 343.9 588.0 344.5 588.5 345.1 589.0 345.7 589.5 346.4 590.0 347.0 590.5 347.8 591.0 348.7 591.5 349.9 592.0 351.2 592.5 352.6 593.0 354.0 593.5 355.4 594.0 356.7 594.5 357.9 595.0 359.0 595.5 359.9 596.0 360.5 596.5 360.8 597.0 360.8 597.5 360.6 598.0 360.3 598.5 359.9 599.0 359.5 599.5 359.0 600.0 358.6 600.5 358.2 601.0 358.0 601.5 357.8 602.0 357.7 602.5 357.6 603.0 357.5 603.5 357.4 604.0 357.3 604.5 357.2 605.0 357.0 605.5 356.5 606.0 355.6 606.5 354.3 607.0 352.8 607.5 350.9 608.0 348.9 608.5 346.8 609.0 344.7 609.5 342.6 610.0 340.6 610.5 338.7 611.0 337.2 611.5 335.9 612.0 335.0 612.5 334.3 613.0 333.7 613.5 333.0 614.0 332.5 614.5 332.0 615.0 331.5 615.5 331.2 616.0 331.0 616.5 331.0 617.0 331.5 617.5 332.6 618.0 334.1 618.5 336.0 619.0 338.2 619.5 340.5 620.0 342.8 620.5 345.1 621.0 347.1 621.5 348.8 622.0 350.0 622.5 351.0 623.0 352.0 623.5 352.9 624.0 353.9 624.5 354.8 625.0 355.6 625.5 356.4 626.0 357.1 626.5 357.7 627.0 358.2 627.5 358.6 628.0 358.9 628.5 359.0 629.0 358.9 629.5 358.7 630.0 358.2 630.5 357.5 631.0 356.7 631.5 355.8 632.0 354.7 632.5 353.5 633.0 352.3 633.5 351.0 634.0 349.6 634.5 348.2 635.0 346.8 635.5 345.4 636.0 344.0 636.5 342.6 637.0 341.4 637.5 340.1 638.0 339.0 638.5 338.0 639.0 337.2 639.5 336.5 640.0 335.9 640.5 335.6 641.0 335.4 641.5 335.5 642.0 336.1 642.5 336.9 643.0 338.1 643.5 339.4 644.0 341.0 644.5 342.6 645.0 344.2 645.5 345.9 646.0 347.4 646.5 348.8 647.0 350.0 647.5 351.1 648.0 352.3 648.5 353.6 649.0 354.9 649.5 356.1 650.0 357.3 650.5 358.4 651.0 359.4 651.5 360.3 652.0 361.0 652.5 361.4 653.0 361.6 653.5 361.5 654.0 361.1 654.5 360.5 655.0 359.6 655.5 358.6 656.0 357.3 656.5 355.9 657.0 354.3 657.5 352.7 658.0 350.9 658.5 349.1 659.0 347.3 659.5 345.5 660.0 343.7 660.5 341.9 661.0 340.2 661.5 338.6 662.0 337.2 662.5 335.8 663.0 334.7 663.5 333.7 664.0 333.0 664.5 332.5 665.0 332.3 665.5 332.4 666.0 332.8 666.5 333.4 667.0 334.3 667.5 335.5 668.0 336.8 668.5 338.2 669.0 339.8 669.5 341.6 670.0 343.4 670.5 345.2 671.0 347.1 671.5 349.0 672.0 350.9 672.5 352.7 673.0 354.5 673.5 356.1 674.0 357.7 674.5 359.0 675.0 360.2 675.5 361.2 676.0 362.0 676.5 362.5 677.0 362.7 677.5 362.6 678.0 362.3 678.5 361.7 679.0 360.8 679.5 359.8 680.0 358.6 680.5 357.2 681.0 355.7 681.5 354.1 682.0 352.4 682.5 350.6 683.0 348.7 683.5 346.9 684.0 345.0 684.5 343.1 685.0 341.3 685.5 339.5 686.0 337.8 686.5 336.2 687.0 334.7 687.5 333.3 688.0 332.2 688.5 331.2 689.0 330.4 689.5 329.9 690.0 329.6 690.5 329.5 691.0 329.7 691.5 330.1 692.0 330.8 692.5 331.6 693.0 332.6 693.5 333.9 694.0 335.2 694.5 336.8 695.0 338.5 695.5 340.4 696.0 342.4 696.5 344.5 697.0 346.7 697.5 349.1 698.0 351.6 698.5 354.1" stroke="#f0f" stroke-width="1.4" stroke-opacity="0.62"/>
</g>
<text transform="translate(95.2 211.0) scale(1 1.12)" font-size="10.7" text-anchor="middle">1.602</text>
<path d="M246.4 197.5 V191.5 M246.4 51.5 V57.5" stroke="#262626" stroke-width="1"/>
<text transform="translate(246.4 211.0) scale(1 1.12)" font-size="10.7" text-anchor="middle">1.802</text>
<path d="M397.6 197.5 V191.5 M397.6 51.5 V57.5" stroke="#262626" stroke-width="1"/>
<text transform="translate(397.6 211.0) scale(1 1.12)" font-size="10.7" text-anchor="middle">2.002</text>
<path d="M548.8 197.5 V191.5 M548.8 51.5 V57.5" stroke="#262626" stroke-width="1"/>
<text transform="translate(548.8 211.0) scale(1 1.12)" font-size="10.7" text-anchor="middle">2.202</text>
<text transform="translate(92.5 55.2) scale(1 1.12)" font-size="10.7" text-anchor="end">0.6</text>
<path d="M95.5 82.2 H101.5 M698.5 82.2 H692.5" stroke="#262626" stroke-width="1"/>
<text transform="translate(92.5 86.0) scale(1 1.12)" font-size="10.7" text-anchor="end">0.4</text>
<path d="M95.5 113.0 H101.5 M698.5 113.0 H692.5" stroke="#262626" stroke-width="1"/>
<text transform="translate(92.5 116.8) scale(1 1.12)" font-size="10.7" text-anchor="end">0.2</text>
<path d="M95.5 143.8 H101.5 M698.5 143.8 H692.5" stroke="#262626" stroke-width="1"/>
<text transform="translate(92.5 147.6) scale(1 1.12)" font-size="10.7" text-anchor="end">0</text>
<path d="M95.5 174.6 H101.5 M698.5 174.6 H692.5" stroke="#262626" stroke-width="1"/>
<text transform="translate(92.5 178.4) scale(1 1.12)" font-size="10.7" text-anchor="end">-0.2</text>
<text transform="translate(396.6 224.5) scale(1 1.12)" font-size="12.7" text-anchor="middle">Time , s</text>
<text transform="translate(71.7 124.5) rotate(-90) scale(1 1.12)" font-size="12.7" text-anchor="middle">Amplitude</text>
<text transform="translate(95.2 414.0) scale(1 1.12)" font-size="10.7" text-anchor="middle">1.602</text>
<path d="M246.4 400.5 V394.5 M246.4 254.5 V260.5" stroke="#262626" stroke-width="1"/>
<text transform="translate(246.4 414.0) scale(1 1.12)" font-size="10.7" text-anchor="middle">1.802</text>
<path d="M397.6 400.5 V394.5 M397.6 254.5 V260.5" stroke="#262626" stroke-width="1"/>
<text transform="translate(397.6 414.0) scale(1 1.12)" font-size="10.7" text-anchor="middle">2.002</text>
<path d="M548.8 400.5 V394.5 M548.8 254.5 V260.5" stroke="#262626" stroke-width="1"/>
<text transform="translate(548.8 414.0) scale(1 1.12)" font-size="10.7" text-anchor="middle">2.202</text>
<text transform="translate(92.5 258.2) scale(1 1.12)" font-size="10.7" text-anchor="end">0.6</text>
<path d="M95.5 285.2 H101.5 M698.5 285.2 H692.5" stroke="#262626" stroke-width="1"/>
<text transform="translate(92.5 289.0) scale(1 1.12)" font-size="10.7" text-anchor="end">0.4</text>
<path d="M95.5 316.0 H101.5 M698.5 316.0 H692.5" stroke="#262626" stroke-width="1"/>
<text transform="translate(92.5 319.8) scale(1 1.12)" font-size="10.7" text-anchor="end">0.2</text>
<path d="M95.5 346.8 H101.5 M698.5 346.8 H692.5" stroke="#262626" stroke-width="1"/>
<text transform="translate(92.5 350.6) scale(1 1.12)" font-size="10.7" text-anchor="end">0</text>
<path d="M95.5 377.6 H101.5 M698.5 377.6 H692.5" stroke="#262626" stroke-width="1"/>
<text transform="translate(92.5 381.4) scale(1 1.12)" font-size="10.7" text-anchor="end">-0.2</text>
<text transform="translate(396.6 427.5) scale(1 1.12)" font-size="12.7" text-anchor="middle">Time , s</text>
<text transform="translate(71.7 327.5) rotate(-90) scale(1 1.12)" font-size="12.7" text-anchor="middle">Amplitude</text>
<rect x="586.5" y="51.5" width="112" height="44" fill="#fff" stroke="#262626" stroke-width="1"/>
<path d="M590 60 H630.5" stroke="#f00" stroke-width="2.2"/>
<text transform="translate(633.4 63.8) scale(1 1.12)" font-size="10.7" style="fill:#000">Clean data</text>
<path d="M590 73.5 H630.5" stroke="#000" stroke-width="2.6"/>
<text transform="translate(633.4 77.3) scale(1 1.12)" font-size="10.7" style="fill:#000">Noisy data</text>
<path d="M590 87 H630.5" stroke="#6e6eff" stroke-width="2"/>
<text transform="translate(633.4 90.8) scale(1 1.12)" font-size="10.7" style="fill:#000">Denoised data</text>
<rect x="581.5" y="254.5" width="117" height="29.6" fill="#fff" stroke="#262626" stroke-width="1"/>
<path d="M585 262.6 H625.5" stroke="#0f0" stroke-width="2.4"/>
<text transform="translate(628.0 266.4) scale(1 1.12)" font-size="10.7" style="fill:#000">Pure noise</text>
<path d="M585 276.2 H625.5" stroke="#f0f" stroke-width="1.2"/>
<text transform="translate(628.0 280.0) scale(1 1.12)" font-size="10.7" style="fill:#000">Removed noise</text>
<rect x="95.8" y="457.7" width="113.5" height="145.3" fill="none" stroke="#262626" stroke-width="1"/>
<path d="M123.7 603 v-1.8 M123.7 457.7 v1.8" stroke="#262626" stroke-width="1"/>
<text transform="translate(123.7 617.2) scale(1 1.12)" font-size="10.7" text-anchor="middle">1.8</text>
<path d="M152.3 603 v-1.8 M152.3 457.7 v1.8" stroke="#262626" stroke-width="1"/>
<text transform="translate(152.3 617.2) scale(1 1.12)" font-size="10.7" text-anchor="middle">2</text>
<path d="M180.9 603 v-1.8 M180.9 457.7 v1.8" stroke="#262626" stroke-width="1"/>
<text transform="translate(180.9 617.2) scale(1 1.12)" font-size="10.7" text-anchor="middle">2.2</text>
<path d="M209.5 603 v-1.8 M209.5 457.7 v1.8" stroke="#262626" stroke-width="1"/>
<text transform="translate(209.5 617.2) scale(1 1.12)" font-size="10.7" text-anchor="middle">2.4</text>
<path d="M95.8 481.6 h1.8 M209.3 481.6 h-1.8" stroke="#262626" stroke-width="1"/>
<text transform="translate(92.5 485.4) scale(1 1.12)" font-size="10.7" text-anchor="end">10</text>
<path d="M95.8 506.8 h1.8 M209.3 506.8 h-1.8" stroke="#262626" stroke-width="1"/>
<text transform="translate(92.5 510.6) scale(1 1.12)" font-size="10.7" text-anchor="end">20</text>
<path d="M95.8 531.9 h1.8 M209.3 531.9 h-1.8" stroke="#262626" stroke-width="1"/>
<text transform="translate(92.5 535.7) scale(1 1.12)" font-size="10.7" text-anchor="end">30</text>
<path d="M95.8 557.1 h1.8 M209.3 557.1 h-1.8" stroke="#262626" stroke-width="1"/>
<text transform="translate(92.5 560.9) scale(1 1.12)" font-size="10.7" text-anchor="end">40</text>
<path d="M95.8 582.2 h1.8 M209.3 582.2 h-1.8" stroke="#262626" stroke-width="1"/>
<text transform="translate(92.5 586.0) scale(1 1.12)" font-size="10.7" text-anchor="end">50</text>
<text transform="translate(152.6 630.5) scale(1 1.12)" font-size="12.7" text-anchor="middle">Time , s</text>
<rect x="211.8" y="457.7" width="6.3" height="145.3" fill="none" stroke="#262626" stroke-width="1"/>
<path d="M218.1 602.5 h-1.8" stroke="#262626" stroke-width="1"/>
<text transform="translate(222.8 606.3) scale(1 1.12)" font-size="10.7">0</text>
<path d="M218.1 562.2 h-1.8" stroke="#262626" stroke-width="1"/>
<text transform="translate(222.8 566.0) scale(1 1.12)" font-size="10.7">0.05</text>
<path d="M218.1 521.9 h-1.8" stroke="#262626" stroke-width="1"/>
<text transform="translate(222.8 525.7) scale(1 1.12)" font-size="10.7">0.1</text>
<path d="M218.1 481.6 h-1.8" stroke="#262626" stroke-width="1"/>
<text transform="translate(222.8 485.4) scale(1 1.12)" font-size="10.7">0.15</text>
<rect x="259.8" y="457.7" width="113.5" height="145.3" fill="none" stroke="#262626" stroke-width="1"/>
<path d="M287.7 603 v-1.8 M287.7 457.7 v1.8" stroke="#262626" stroke-width="1"/>
<text transform="translate(287.7 617.2) scale(1 1.12)" font-size="10.7" text-anchor="middle">1.8</text>
<path d="M316.3 603 v-1.8 M316.3 457.7 v1.8" stroke="#262626" stroke-width="1"/>
<text transform="translate(316.3 617.2) scale(1 1.12)" font-size="10.7" text-anchor="middle">2</text>
<path d="M344.9 603 v-1.8 M344.9 457.7 v1.8" stroke="#262626" stroke-width="1"/>
<text transform="translate(344.9 617.2) scale(1 1.12)" font-size="10.7" text-anchor="middle">2.2</text>
<path d="M373.5 603 v-1.8 M373.5 457.7 v1.8" stroke="#262626" stroke-width="1"/>
<text transform="translate(373.5 617.2) scale(1 1.12)" font-size="10.7" text-anchor="middle">2.4</text>
<path d="M259.8 481.6 h1.8 M373.3 481.6 h-1.8" stroke="#262626" stroke-width="1"/>
<text transform="translate(256.5 485.4) scale(1 1.12)" font-size="10.7" text-anchor="end">10</text>
<path d="M259.8 506.8 h1.8 M373.3 506.8 h-1.8" stroke="#262626" stroke-width="1"/>
<text transform="translate(256.5 510.6) scale(1 1.12)" font-size="10.7" text-anchor="end">20</text>
<path d="M259.8 531.9 h1.8 M373.3 531.9 h-1.8" stroke="#262626" stroke-width="1"/>
<text transform="translate(256.5 535.7) scale(1 1.12)" font-size="10.7" text-anchor="end">30</text>
<path d="M259.8 557.1 h1.8 M373.3 557.1 h-1.8" stroke="#262626" stroke-width="1"/>
<text transform="translate(256.5 560.9) scale(1 1.12)" font-size="10.7" text-anchor="end">40</text>
<path d="M259.8 582.2 h1.8 M373.3 582.2 h-1.8" stroke="#262626" stroke-width="1"/>
<text transform="translate(256.5 586.0) scale(1 1.12)" font-size="10.7" text-anchor="end">50</text>
<text transform="translate(316.6 630.5) scale(1 1.12)" font-size="12.7" text-anchor="middle">Time , s</text>
<rect x="375.8" y="457.7" width="6.3" height="145.3" fill="none" stroke="#262626" stroke-width="1"/>
<path d="M382.1 602.5 h-1.8" stroke="#262626" stroke-width="1"/>
<text transform="translate(386.8 606.3) scale(1 1.12)" font-size="10.7">0</text>
<path d="M382.1 562.2 h-1.8" stroke="#262626" stroke-width="1"/>
<text transform="translate(386.8 566.0) scale(1 1.12)" font-size="10.7">0.05</text>
<path d="M382.1 521.9 h-1.8" stroke="#262626" stroke-width="1"/>
<text transform="translate(386.8 525.7) scale(1 1.12)" font-size="10.7">0.1</text>
<path d="M382.1 481.6 h-1.8" stroke="#262626" stroke-width="1"/>
<text transform="translate(386.8 485.4) scale(1 1.12)" font-size="10.7">0.15</text>
<rect x="420.8" y="457.7" width="113.5" height="145.3" fill="none" stroke="#262626" stroke-width="1"/>
<path d="M448.7 603 v-1.8 M448.7 457.7 v1.8" stroke="#262626" stroke-width="1"/>
<text transform="translate(448.7 617.2) scale(1 1.12)" font-size="10.7" text-anchor="middle">1.8</text>
<path d="M477.3 603 v-1.8 M477.3 457.7 v1.8" stroke="#262626" stroke-width="1"/>
<text transform="translate(477.3 617.2) scale(1 1.12)" font-size="10.7" text-anchor="middle">2</text>
<path d="M505.9 603 v-1.8 M505.9 457.7 v1.8" stroke="#262626" stroke-width="1"/>
<text transform="translate(505.9 617.2) scale(1 1.12)" font-size="10.7" text-anchor="middle">2.2</text>
<path d="M534.5 603 v-1.8 M534.5 457.7 v1.8" stroke="#262626" stroke-width="1"/>
<text transform="translate(534.5 617.2) scale(1 1.12)" font-size="10.7" text-anchor="middle">2.4</text>
<path d="M420.8 481.6 h1.8 M534.3 481.6 h-1.8" stroke="#262626" stroke-width="1"/>
<text transform="translate(417.5 485.4) scale(1 1.12)" font-size="10.7" text-anchor="end">10</text>
<path d="M420.8 506.8 h1.8 M534.3 506.8 h-1.8" stroke="#262626" stroke-width="1"/>
<text transform="translate(417.5 510.6) scale(1 1.12)" font-size="10.7" text-anchor="end">20</text>
<path d="M420.8 531.9 h1.8 M534.3 531.9 h-1.8" stroke="#262626" stroke-width="1"/>
<text transform="translate(417.5 535.7) scale(1 1.12)" font-size="10.7" text-anchor="end">30</text>
<path d="M420.8 557.1 h1.8 M534.3 557.1 h-1.8" stroke="#262626" stroke-width="1"/>
<text transform="translate(417.5 560.9) scale(1 1.12)" font-size="10.7" text-anchor="end">40</text>
<path d="M420.8 582.2 h1.8 M534.3 582.2 h-1.8" stroke="#262626" stroke-width="1"/>
<text transform="translate(417.5 586.0) scale(1 1.12)" font-size="10.7" text-anchor="end">50</text>
<text transform="translate(477.6 630.5) scale(1 1.12)" font-size="12.7" text-anchor="middle">Time , s</text>
<rect x="536.8" y="457.7" width="6.3" height="145.3" fill="none" stroke="#262626" stroke-width="1"/>
<path d="M543.1 602.5 h-1.8" stroke="#262626" stroke-width="1"/>
<text transform="translate(547.8 606.3) scale(1 1.12)" font-size="10.7">0</text>
<path d="M543.1 562.2 h-1.8" stroke="#262626" stroke-width="1"/>
<text transform="translate(547.8 566.0) scale(1 1.12)" font-size="10.7">0.05</text>
<path d="M543.1 521.9 h-1.8" stroke="#262626" stroke-width="1"/>
<text transform="translate(547.8 525.7) scale(1 1.12)" font-size="10.7">0.1</text>
<path d="M543.1 481.6 h-1.8" stroke="#262626" stroke-width="1"/>
<text transform="translate(547.8 485.4) scale(1 1.12)" font-size="10.7">0.15</text>
<rect x="582.8" y="457.7" width="113.5" height="145.3" fill="none" stroke="#262626" stroke-width="1"/>
<path d="M610.7 603 v-1.8 M610.7 457.7 v1.8" stroke="#262626" stroke-width="1"/>
<text transform="translate(610.7 617.2) scale(1 1.12)" font-size="10.7" text-anchor="middle">1.8</text>
<path d="M639.3 603 v-1.8 M639.3 457.7 v1.8" stroke="#262626" stroke-width="1"/>
<text transform="translate(639.3 617.2) scale(1 1.12)" font-size="10.7" text-anchor="middle">2</text>
<path d="M667.9 603 v-1.8 M667.9 457.7 v1.8" stroke="#262626" stroke-width="1"/>
<text transform="translate(667.9 617.2) scale(1 1.12)" font-size="10.7" text-anchor="middle">2.2</text>
<path d="M696.5 603 v-1.8 M696.5 457.7 v1.8" stroke="#262626" stroke-width="1"/>
<text transform="translate(696.5 617.2) scale(1 1.12)" font-size="10.7" text-anchor="middle">2.4</text>
<path d="M582.8 481.6 h1.8 M696.3 481.6 h-1.8" stroke="#262626" stroke-width="1"/>
<text transform="translate(579.5 485.4) scale(1 1.12)" font-size="10.7" text-anchor="end">10</text>
<path d="M582.8 506.8 h1.8 M696.3 506.8 h-1.8" stroke="#262626" stroke-width="1"/>
<text transform="translate(579.5 510.6) scale(1 1.12)" font-size="10.7" text-anchor="end">20</text>
<path d="M582.8 531.9 h1.8 M696.3 531.9 h-1.8" stroke="#262626" stroke-width="1"/>
<text transform="translate(579.5 535.7) scale(1 1.12)" font-size="10.7" text-anchor="end">30</text>
<path d="M582.8 557.1 h1.8 M696.3 557.1 h-1.8" stroke="#262626" stroke-width="1"/>
<text transform="translate(579.5 560.9) scale(1 1.12)" font-size="10.7" text-anchor="end">40</text>
<path d="M582.8 582.2 h1.8 M696.3 582.2 h-1.8" stroke="#262626" stroke-width="1"/>
<text transform="translate(579.5 586.0) scale(1 1.12)" font-size="10.7" text-anchor="end">50</text>
<text transform="translate(639.5 630.5) scale(1 1.12)" font-size="12.7" text-anchor="middle">Time , s</text>
<rect x="698.8" y="457.7" width="6.3" height="145.3" fill="none" stroke="#262626" stroke-width="1"/>
<path d="M705.1 602.5 h-1.8" stroke="#262626" stroke-width="1"/>
<text transform="translate(709.8 606.3) scale(1 1.12)" font-size="10.7">0</text>
<path d="M705.1 562.2 h-1.8" stroke="#262626" stroke-width="1"/>
<text transform="translate(709.8 566.0) scale(1 1.12)" font-size="10.7">0.05</text>
<path d="M705.1 521.9 h-1.8" stroke="#262626" stroke-width="1"/>
<text transform="translate(709.8 525.7) scale(1 1.12)" font-size="10.7">0.1</text>
<path d="M705.1 481.6 h-1.8" stroke="#262626" stroke-width="1"/>
<text transform="translate(709.8 485.4) scale(1 1.12)" font-size="10.7">0.15</text>
<text transform="translate(77.0 530.7) rotate(-90) scale(1 1.12)" font-size="12.7" text-anchor="middle">Frequency , Hz</text>
</svg></body></html>
